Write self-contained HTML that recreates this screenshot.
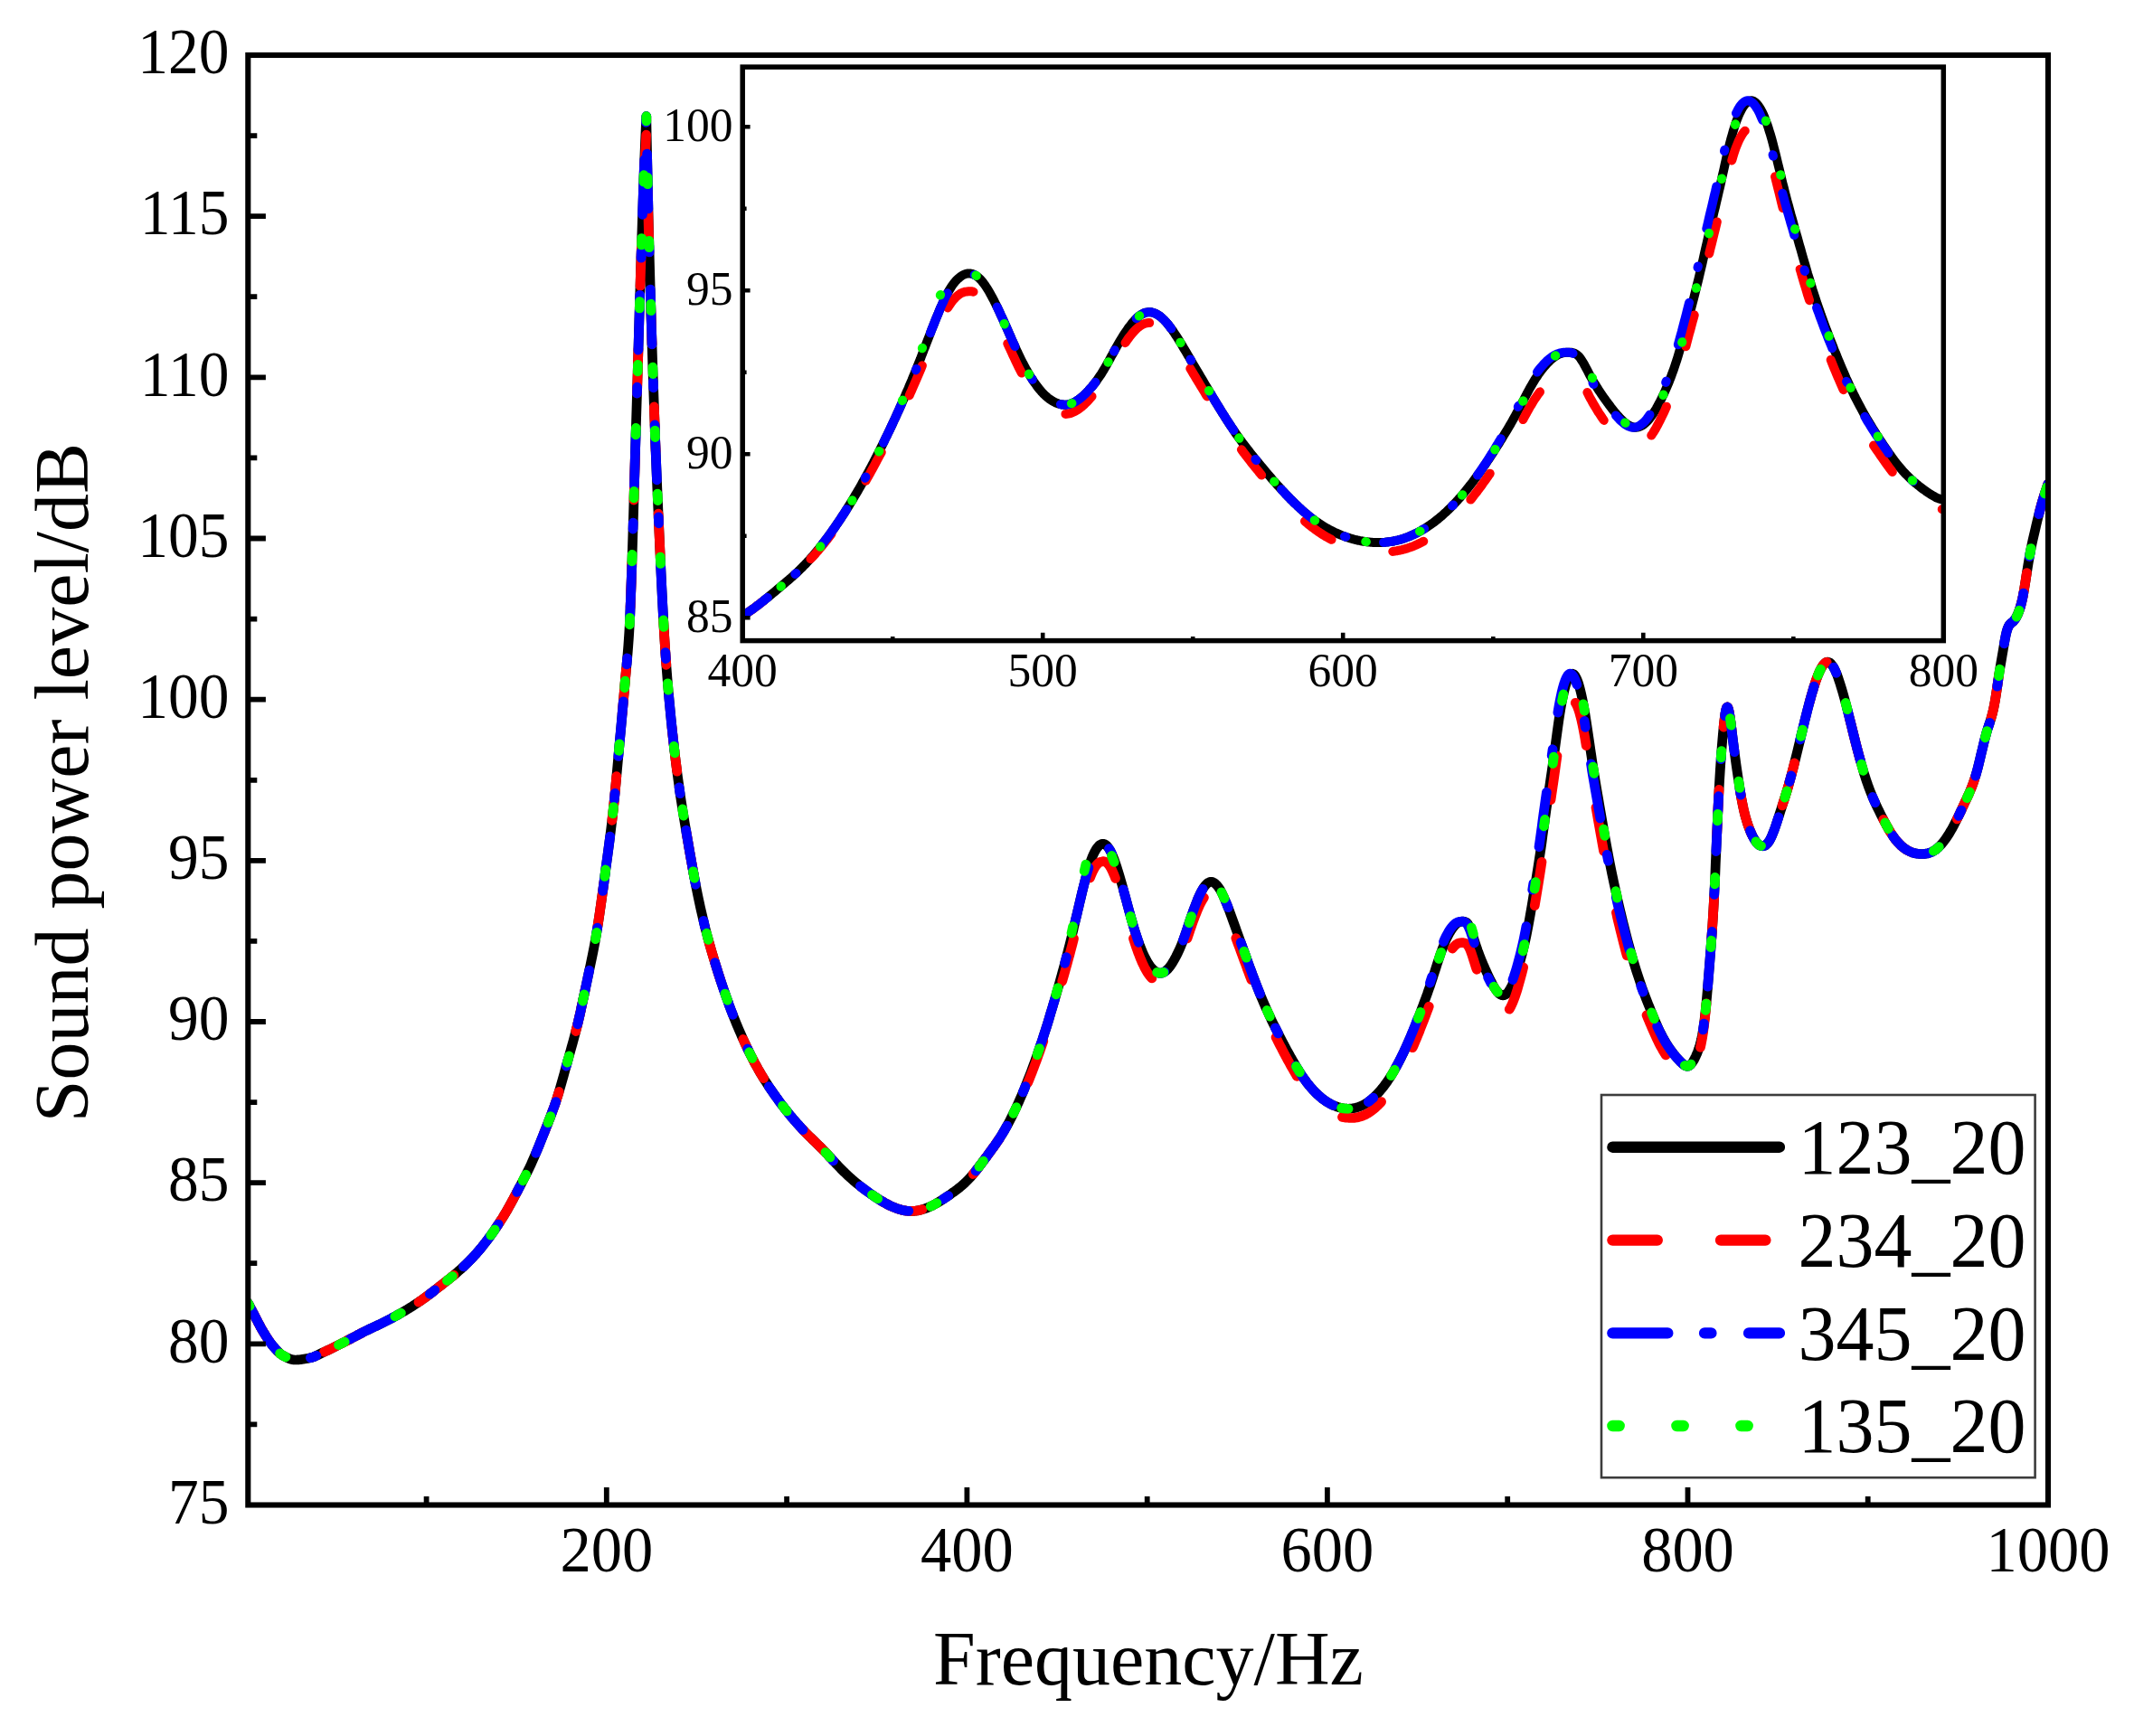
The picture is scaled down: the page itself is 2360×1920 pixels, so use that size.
<!DOCTYPE html>
<html lang="en"><head><meta charset="utf-8"><title>Sound power level vs frequency</title>
<style>html,body{margin:0;padding:0;background:#fff}body{width:2360px;height:1920px;overflow:hidden}svg{display:block}text{font-family:"Liberation Serif","Times New Roman",Times,serif;fill:#000}</style>
</head><body>
<svg width="2360" height="1920" viewBox="0 0 2360 1920" role="img" aria-label="Sound power level versus frequency">
<rect width="2360" height="1920" fill="#fff"/>
<defs>
<clipPath id="cm"><rect x="274.3" y="61.0" width="1990.7" height="1603.5"/></clipPath>
<clipPath id="ci"><rect x="821.2" y="74.1" width="1328.1000000000001" height="634.5"/></clipPath>
</defs>
<g clip-path="url(#cm)" fill="none" stroke-linecap="round" stroke-linejoin="round">
<path d="M274.3,1441.2 275.3,1443.1 276.3,1445 277.3,1446.9 278.3,1448.8 279.3,1450.7 280.3,1452.6 281.3,1454.5 282.3,1456.5 283.3,1458.4 284.3,1460.3 285.3,1462.3 286.3,1464.2 287.3,1466 288.2,1467.8 289.2,1469.6 290.2,1471.3 291.2,1473 292.2,1474.6 293.2,1476.2 294.2,1477.9 295.2,1479.4 296.2,1481 297.2,1482.5 298.2,1483.9 299.2,1485.3 300.2,1486.6 301.2,1487.9 302.2,1489 303.2,1490.2 304.2,1491.3 305.2,1492.5 306.2,1493.6 307.2,1494.6 308.2,1495.6 309.2,1496.5 310.2,1497.4 311.2,1498.1 312.2,1498.8 313.2,1499.4 314.2,1499.9 315.2,1500.4 316.1,1500.9 317.1,1501.4 318.1,1501.9 319.1,1502.3 320.1,1502.7 321.1,1503.1 322.1,1503.4 323.1,1503.7 324.1,1503.8 325.1,1504 326.1,1504 327.1,1504 328.1,1504 329.1,1503.9 330.1,1503.8 331.1,1503.8 332.1,1503.7 333.1,1503.5 334.1,1503.4 335.1,1503.3 336.1,1503.1 337.1,1502.9 338.1,1502.8 339.1,1502.6 340.1,1502.4 341.1,1502.2 342.1,1502 343,1501.8 344,1501.6 345,1501.3 346,1501 347,1500.7 348,1500.3 349,1499.8 350,1499.3 351,1498.9 352,1498.4 353,1497.9 354,1497.4 355,1496.9 356,1496.4 357,1495.9 358,1495.5 359,1495 360,1494.5 361,1494.1 362,1493.6 363,1493.1 364,1492.7 365,1492.2 366,1491.7 367,1491.2 368,1490.7 369,1490.2 369.9,1489.8 370.9,1489.3 371.9,1488.8 372.9,1488.3 373.9,1487.8 374.9,1487.3 375.9,1486.8 376.9,1486.3 377.9,1485.8 378.9,1485.2 379.9,1484.7 380.9,1484.2 381.9,1483.7 382.9,1483.2 383.9,1482.6 384.9,1482.1 385.9,1481.6 386.9,1481.1 387.9,1480.6 388.9,1480 389.9,1479.5 390.9,1479 391.9,1478.5 392.9,1478 393.9,1477.5 394.9,1476.9 395.9,1476.4 396.9,1475.9 397.8,1475.4 398.8,1474.9 399.8,1474.4 400.8,1473.8 401.8,1473.3 402.8,1472.8 403.8,1472.3 404.8,1471.8 405.8,1471.4 406.8,1470.9 407.8,1470.4 408.8,1469.9 409.8,1469.4 410.8,1468.9 411.8,1468.5 412.8,1468 413.8,1467.5 414.8,1467 415.8,1466.6 416.8,1466.1 417.8,1465.6 418.8,1465.2 419.8,1464.7 420.8,1464.2 421.8,1463.7 422.8,1463.2 423.8,1462.7 424.7,1462.3 425.7,1461.8 426.7,1461.3 427.7,1460.8 428.7,1460.3 429.7,1459.7 430.7,1459.2 431.7,1458.7 432.7,1458.2 433.7,1457.6 434.7,1457.1 435.7,1456.5 436.7,1456 437.7,1455.5 438.7,1454.9 439.7,1454.4 440.7,1453.8 441.7,1453.2 442.7,1452.7 443.7,1452.1 444.7,1451.5 445.7,1451 446.7,1450.4 447.7,1449.8 448.7,1449.2 449.7,1448.6 450.7,1448 451.6,1447.4 452.6,1446.8 453.6,1446.2 454.6,1445.6 455.6,1445 456.6,1444.3 457.6,1443.7 458.6,1443 459.6,1442.4 460.6,1441.7 461.6,1441.1 462.6,1440.4 463.6,1439.7 464.6,1439 465.6,1438.3 466.6,1437.6 467.6,1436.9 468.6,1436.2 469.6,1435.5 470.6,1434.7 471.6,1434 472.6,1433.3 473.6,1432.5 474.6,1431.8 475.6,1431 476.6,1430.3 477.6,1429.5 478.6,1428.7 479.5,1428 480.5,1427.2 481.5,1426.4 482.5,1425.6 483.5,1424.9 484.5,1424.1 485.5,1423.3 486.5,1422.5 487.5,1421.8 488.5,1421 489.5,1420.2 490.5,1419.4 491.5,1418.6 492.5,1417.8 493.5,1417.1 494.5,1416.3 495.5,1415.5 496.5,1414.7 497.5,1413.9 498.5,1413.1 499.5,1412.3 500.5,1411.5 501.5,1410.7 502.5,1409.9 503.5,1409 504.5,1408.2 505.5,1407.3 506.4,1406.5 507.4,1405.6 508.4,1404.7 509.4,1403.9 510.4,1403 511.4,1402.1 512.4,1401.1 513.4,1400.2 514.4,1399.3 515.4,1398.3 516.4,1397.3 517.4,1396.3 518.4,1395.3 519.4,1394.3 520.4,1393.3 521.4,1392.2 522.4,1391.2 523.4,1390.1 524.4,1389 525.4,1387.9 526.4,1386.8 527.4,1385.6 528.4,1384.5 529.4,1383.3 530.4,1382.2 531.4,1381 532.4,1379.8 533.4,1378.6 534.3,1377.3 535.3,1376.1 536.3,1374.8 537.3,1373.6 538.3,1372.3 539.3,1371 540.3,1369.6 541.3,1368.3 542.3,1366.9 543.3,1365.5 544.3,1364.1 545.3,1362.7 546.3,1361.3 547.3,1359.8 548.3,1358.3 549.3,1356.8 550.3,1355.3 551.3,1353.8 552.3,1352.3 553.3,1350.7 554.3,1349.1 555.3,1347.6 556.3,1346 557.3,1344.3 558.3,1342.7 559.3,1341.1 560.3,1339.4 561.2,1337.7 562.2,1336 563.2,1334.2 564.2,1332.4 565.2,1330.6 566.2,1328.7 567.2,1326.9 568.2,1325 569.2,1323.1 570.2,1321.2 571.2,1319.3 572.2,1317.4 573.2,1315.5 574.2,1313.6 575.2,1311.7 576.2,1309.8 577.2,1307.8 578.2,1305.9 579.2,1304 580.2,1302.1 581.2,1300.1 582.2,1298.1 583.2,1296.2 584.2,1294.1 585.2,1292.1 586.2,1290 587.2,1287.9 588.1,1285.7 589.1,1283.5 590.1,1281.3 591.1,1279 592.1,1276.7 593.1,1274.3 594.1,1271.9 595.1,1269.5 596.1,1267.1 597.1,1264.6 598.1,1262.1 599.1,1259.6 600.1,1257.1 601.1,1254.6 602.1,1252 603.1,1249.5 604.1,1246.9 605.1,1244.4 606.1,1241.8 607.1,1239.2 608.1,1236.7 609.1,1234.1 610.1,1231.4 611.1,1228.7 612.1,1226 613.1,1223.2 614.1,1220.4 615.1,1217.5 616,1214.5 617,1211.3 618,1208.1 619,1204.8 620,1201.3 621,1197.8 622,1194.3 623,1190.7 624,1187.1 625,1183.4 626,1179.8 627,1176.2 628,1172.6 629,1169.1 630,1165.5 631,1161.9 632,1158.3 633,1154.7 634,1151.1 635,1147.4 636,1143.6 637,1139.7 638,1135.8 639,1131.7 640,1127.6 641,1123.3 642,1118.9 642.9,1114.4 643.9,1109.9 644.9,1105.2 645.9,1100.6 646.9,1095.8 647.9,1091.1 648.9,1086.4 649.9,1081.6 650.9,1076.9 651.9,1072.2 652.9,1067.5 653.9,1062.7 654.9,1057.9 655.9,1052.9 656.9,1047.7 657.9,1042.4 658.9,1036.8 659.9,1030.9 660.9,1024.8 661.9,1018.4 662.9,1011.7 663.9,1004.8 664.9,997.8 665.9,990.6 666.9,983.4 667.9,976.1 668.9,968.8 669.8,961.5 670.8,954.2 671.8,946.9 672.8,939.5 673.8,932 674.8,924.2 675.8,916.2 676.8,907.8 677.8,899.1 678.8,889.9 679.8,880 680.8,869.6 681.3,864.2 681.8,858.8 682.3,853.4 682.8,847.9 683.3,842.4 683.8,836.9 684.3,831.4 684.8,826 685.3,820.6 685.8,815.1 686.3,809.7 686.8,804.2 687.3,798.7 687.8,793.2 688.3,787.6 688.8,782.1 689.3,776.4 689.8,770.8 690.3,765.1 690.8,759.3 691.3,753.5 691.8,748 692.3,742.6 692.8,737.3 693.3,732 693.8,726.4 694.3,720.5 694.8,714.1 695.3,707 695.8,699.3 696.3,690.4 696.8,680.1 697.2,668.6 697.7,655.9 698.2,642.2 698.7,627.6 699.2,612.3 699.7,596.3 700.2,579.8 700.7,563 701.2,545.9 701.7,528.6 702.2,511.4 702.7,494.2 703.2,477.3 703.7,460.8 704.2,444.7 704.7,428.5 704.8,425.1 704.9,421.8 705,418.5 705.1,415.1 705.2,411.8 705.3,408.4 705.4,405 705.5,401.6 705.6,398.2 705.7,394.8 705.8,391.4 705.9,387.9 706,384.5 706.1,381.1 706.2,377.6 706.3,374.2 706.4,370.8 706.5,367.4 706.6,363.9 706.7,360.5 706.8,357.1 706.9,353.7 707,350.3 707.1,346.9 707.2,343.5 707.3,340.2 707.4,336.8 707.5,333.4 707.6,330.1 707.7,326.8 707.8,323.5 707.9,320.2 708,317 708.1,313.7 708.2,310.5 708.3,307.3 708.4,304.1 708.5,301 708.6,297.8 708.7,294.7 708.8,291.5 708.9,288.4 709,285.2 709.1,282.1 709.2,279 709.3,275.8 709.4,272.7 709.5,269.6 709.6,266.5 709.7,263.4 709.8,260.3 709.9,257.2 710,254.2 710.1,251.1 710.2,248 710.3,245 710.4,242 710.5,239 710.6,236 710.7,233 710.8,230 710.9,227.1 711,224.2 711.1,221.3 711.2,218.4 711.3,215.5 711.4,212.7 711.5,209.8 711.6,207 711.7,204.3 711.8,201.5 711.9,198.8 712,196.1 712.1,193.4 712.2,190.8 712.3,188.1 712.4,185.5 712.5,182.9 712.6,180.4 712.7,177.8 712.8,175.3 712.9,172.8 713,170.3 713.1,167.8 713.2,165.4 713.3,162.9 713.4,160.5 713.5,158.1 713.6,155.8 713.7,153.4 713.8,151.1 713.9,148.7 714,146.4 714.1,144.2 714.2,141.9 714.3,139.6 714.4,137.4 714.5,135.2 714.6,133 714.7,130.9 714.8,128.7 714.9,134.3 715,139.8 715.1,145.3 715.2,150.7 715.3,156 715.4,161.2 715.5,166.3 715.6,171.3 715.7,176.2 715.8,181 715.9,185.7 716,190.4 716.1,195.1 716.2,199.7 716.3,204.2 716.4,208.7 716.5,213.2 716.6,217.6 716.7,222 716.8,226.3 716.9,230.6 717,234.8 717.1,239 717.2,243.2 717.3,247.3 717.4,251.3 717.5,255.4 717.6,259.3 717.7,263.3 717.8,267.2 717.9,271.1 718,274.9 718.1,278.8 718.2,282.6 718.3,286.4 718.4,290.1 718.5,293.9 718.6,297.6 718.7,301.3 718.8,305 718.9,308.6 719,312.2 719.1,315.8 719.2,319.4 719.3,323 719.4,326.5 719.5,330 719.6,333.5 719.7,336.9 719.8,340.4 719.9,343.8 720,347.2 720.1,350.5 720.2,353.9 720.3,357.2 720.4,360.5 720.5,363.8 720.6,367 720.7,370.2 720.8,373.4 720.9,376.6 721,379.8 721.1,382.9 721.2,386 721.3,389.1 721.4,392.2 721.5,395.2 721.6,398.3 721.7,401.3 721.8,404.3 721.9,407.3 722,410.2 722.1,413.2 722.2,416.1 722.3,419 722.4,422 722.5,424.9 722.6,427.7 722.7,430.6 722.8,433.5 722.9,436.3 723,439.1 723.1,441.9 723.2,444.7 723.3,447.5 723.4,450.3 723.5,453 723.6,455.8 723.7,458.5 723.8,461.2 723.9,463.9 724,466.6 724.1,469.3 724.2,471.9 724.3,474.6 724.3,477.2 724.4,479.9 724.5,482.5 724.6,485.1 725.1,497.9 725.6,510.4 726.1,522.7 726.6,534.7 727.1,546.3 727.6,557.7 728.1,569 728.6,580.3 729.1,591.5 729.6,602.6 730.1,613.6 730.6,624.4 731.1,635 731.6,645.3 732.1,655.5 732.6,665.4 733.1,674.9 733.6,684.2 734.1,693.2 734.6,701.7 735.1,709.9 735.6,717.7 736.1,725.1 736.6,732.2 737.1,738.9 737.6,745.4 738.1,751.6 738.6,757.6 739.1,763.4 739.6,769 740.1,774.5 740.6,779.8 741.1,785.1 741.6,790.2 742.1,795.2 742.6,800.1 743.1,805 743.6,809.7 744.1,814.3 744.6,818.9 745.1,823.3 745.6,827.7 746.1,832 746.6,836.2 747.1,840.3 747.6,844.3 748.1,848.2 748.6,852.1 749.1,855.9 749.6,859.6 750.1,863.2 750.6,866.8 751.5,873.7 752.5,880.5 753.5,887 754.5,893.3 755.5,899.5 756.5,905.6 757.5,911.6 758.5,917.5 759.5,923.4 760.5,929.2 761.5,935 762.5,940.8 763.5,946.5 764.5,952.2 765.5,957.8 766.5,963.3 767.5,968.7 768.5,974 769.5,979.2 770.5,984.2 771.5,989.2 772.5,994 773.5,998.7 774.5,1003.3 775.5,1007.7 776.5,1012 777.5,1016.2 778.5,1020.4 779.4,1024.4 780.4,1028.3 781.4,1032.1 782.4,1035.9 783.4,1039.6 784.4,1043.2 785.4,1046.8 786.4,1050.2 787.4,1053.7 788.4,1057.1 789.4,1060.4 790.4,1063.7 791.4,1067 792.4,1070.2 793.4,1073.4 794.4,1076.6 795.4,1079.7 796.4,1082.7 797.4,1085.8 798.4,1088.8 799.4,1091.7 800.4,1094.7 801.4,1097.6 802.4,1100.4 803.4,1103.2 804.4,1106 805.4,1108.7 806.3,1111.5 807.3,1114.1 808.3,1116.8 809.3,1119.4 810.3,1122 811.3,1124.5 812.3,1127 813.3,1129.5 814.3,1132 815.3,1134.4 816.3,1136.8 817.3,1139.1 818.3,1141.4 819.3,1143.7 820.3,1146 821.3,1148.2 822.3,1150.4 823.3,1152.6 824.3,1154.8 825.3,1156.9 826.3,1159 827.3,1161.1 828.3,1163.1 829.3,1165.1 830.3,1167.1 831.3,1169 832.3,1171 833.3,1172.9 834.2,1174.8 835.2,1176.6 836.2,1178.4 837.2,1180.2 838.2,1182 839.2,1183.8 840.2,1185.5 841.2,1187.2 842.2,1188.9 843.2,1190.5 844.2,1192.2 845.2,1193.8 846.2,1195.4 847.2,1196.9 848.2,1198.5 849.2,1200 850.2,1201.6 851.2,1203.1 852.2,1204.5 853.2,1206 854.2,1207.4 855.2,1208.9 856.2,1210.3 857.2,1211.7 858.2,1213.1 859.2,1214.5 860.2,1215.8 861.1,1217.2 862.1,1218.5 863.1,1219.9 864.1,1221.2 865.1,1222.5 866.1,1223.8 867.1,1225.1 868.1,1226.4 869.1,1227.6 870.1,1228.9 871.1,1230.1 872.1,1231.4 873.1,1232.6 874.1,1233.8 875.1,1235 876.1,1236.2 877.1,1237.4 878.1,1238.6 879.1,1239.7 880.1,1240.9 881.1,1242 882.1,1243.1 883.1,1244.2 884.1,1245.3 885.1,1246.4 886.1,1247.5 887.1,1248.6 888,1249.6 889,1250.6 890,1251.7 891,1252.7 892,1253.7 893,1254.7 894,1255.7 895,1256.7 896,1257.7 897,1258.6 898,1259.6 899,1260.6 900,1261.6 901,1262.5 902,1263.5 903,1264.5 904,1265.5 905,1266.5 906,1267.4 907,1268.4 908,1269.4 909,1270.4 910,1271.5 911,1272.5 912,1273.5 913,1274.6 914,1275.6 915,1276.7 915.9,1277.7 916.9,1278.8 917.9,1279.9 918.9,1280.9 919.9,1282 920.9,1283.1 921.9,1284.2 922.9,1285.2 923.9,1286.3 924.9,1287.4 925.9,1288.4 926.9,1289.5 927.9,1290.5 928.9,1291.5 929.9,1292.6 930.9,1293.6 931.9,1294.6 932.9,1295.6 933.9,1296.6 934.9,1297.5 935.9,1298.5 936.9,1299.4 937.9,1300.4 938.9,1301.3 939.9,1302.2 940.9,1303.1 941.9,1304 942.8,1304.8 943.8,1305.7 944.8,1306.5 945.8,1307.4 946.8,1308.2 947.8,1309 948.8,1309.8 949.8,1310.6 950.8,1311.4 951.8,1312.2 952.8,1313 953.8,1313.7 954.8,1314.5 955.8,1315.3 956.8,1316 957.8,1316.7 958.8,1317.5 959.8,1318.2 960.8,1318.9 961.8,1319.6 962.8,1320.4 963.8,1321.1 964.8,1321.7 965.8,1322.4 966.8,1323.1 967.8,1323.8 968.8,1324.4 969.7,1325.1 970.7,1325.7 971.7,1326.4 972.7,1327 973.7,1327.6 974.7,1328.2 975.7,1328.8 976.7,1329.4 977.7,1329.9 978.7,1330.5 979.7,1331 980.7,1331.6 981.7,1332.1 982.7,1332.6 983.7,1333.1 984.7,1333.6 985.7,1334 986.7,1334.5 987.7,1334.9 988.7,1335.3 989.7,1335.7 990.7,1336.1 991.7,1336.5 992.7,1336.8 993.7,1337.1 994.7,1337.5 995.7,1337.7 996.7,1338 997.6,1338.3 998.6,1338.5 999.6,1338.7 1000.6,1338.9 1001.6,1339 1002.6,1339.2 1003.6,1339.3 1004.6,1339.3 1005.6,1339.4 1006.6,1339.4 1007.6,1339.5 1008.6,1339.4 1009.6,1339.4 1010.6,1339.3 1011.6,1339.3 1012.6,1339.2 1013.6,1339 1014.6,1338.9 1015.6,1338.7 1016.6,1338.5 1017.6,1338.3 1018.6,1338 1019.6,1337.8 1020.6,1337.5 1021.6,1337.2 1022.6,1336.9 1023.6,1336.5 1024.5,1336.2 1025.5,1335.8 1026.5,1335.4 1027.5,1334.9 1028.5,1334.5 1029.5,1334 1030.5,1333.6 1031.5,1333.1 1032.5,1332.5 1033.5,1332 1034.5,1331.5 1035.5,1330.9 1036.5,1330.4 1037.5,1329.8 1038.5,1329.2 1039.5,1328.6 1040.5,1327.9 1041.5,1327.3 1042.5,1326.7 1043.5,1326 1044.5,1325.4 1045.5,1324.7 1046.5,1324 1047.5,1323.4 1048.5,1322.7 1049.5,1322 1050.5,1321.3 1051.5,1320.6 1052.4,1319.9 1053.4,1319.2 1054.4,1318.5 1055.4,1317.8 1056.4,1317.1 1057.4,1316.3 1058.4,1315.6 1059.4,1314.8 1060.4,1314 1061.4,1313.2 1062.4,1312.4 1063.4,1311.6 1064.4,1310.7 1065.4,1309.8 1066.4,1308.9 1067.4,1308 1068.4,1307 1069.4,1306 1070.4,1305 1071.4,1304 1072.4,1302.9 1073.4,1301.8 1074.4,1300.7 1075.4,1299.5 1076.4,1298.3 1077.4,1297.1 1078.4,1295.9 1079.3,1294.7 1080.3,1293.4 1081.3,1292.2 1082.3,1290.9 1083.3,1289.6 1084.3,1288.3 1085.3,1287 1086.3,1285.6 1087.3,1284.3 1088.3,1282.9 1089.3,1281.6 1090.3,1280.2 1091.3,1278.9 1092.3,1277.5 1093.3,1276.1 1094.3,1274.8 1095.3,1273.4 1096.3,1272 1097.3,1270.6 1098.3,1269.3 1099.3,1267.9 1100.3,1266.5 1101.3,1265 1102.3,1263.6 1103.3,1262.1 1104.3,1260.7 1105.3,1259.2 1106.2,1257.6 1107.2,1256.1 1108.2,1254.5 1109.2,1252.8 1110.2,1251.2 1111.2,1249.5 1112.2,1247.7 1113.2,1245.9 1114.2,1244.1 1115.2,1242.3 1116.2,1240.4 1117.2,1238.5 1118.2,1236.5 1119.2,1234.5 1120.2,1232.5 1121.2,1230.4 1122.2,1228.4 1123.2,1226.2 1124.2,1224.1 1125.2,1221.9 1126.2,1219.7 1127.2,1217.5 1128.2,1215.2 1129.2,1212.9 1130.2,1210.6 1131.2,1208.2 1132.2,1205.9 1133.2,1203.5 1134.1,1201 1135.1,1198.6 1136.1,1196.1 1137.1,1193.5 1138.1,1191 1139.1,1188.4 1140.1,1185.8 1141.1,1183.1 1142.1,1180.4 1143.1,1177.7 1144.1,1175 1145.1,1172.2 1146.1,1169.4 1147.1,1166.5 1148.1,1163.6 1149.1,1160.7 1150.1,1157.8 1151.1,1154.8 1152.1,1151.9 1153.1,1148.8 1154.1,1145.8 1155.1,1142.7 1156.1,1139.6 1157.1,1136.5 1158.1,1133.3 1159.1,1130.1 1160.1,1126.9 1161,1123.6 1162,1120.3 1163,1117 1164,1113.7 1165,1110.3 1166,1106.9 1167,1103.5 1168,1100 1169,1096.5 1170,1093 1171,1089.5 1172,1085.9 1173,1082.3 1174,1078.7 1175,1075 1176,1071.3 1177,1067.6 1178,1063.8 1179,1060 1180,1056.2 1181,1052.3 1182,1048.4 1183,1044.5 1184,1040.5 1185,1036.4 1186,1032.3 1187,1028.2 1187.9,1024 1188.9,1019.8 1189.9,1015.6 1190.9,1011.4 1191.9,1007.1 1192.9,1002.9 1193.9,998.6 1194.9,994.4 1195.9,990.2 1196.9,986.1 1197.9,982 1198.9,978 1199.9,974.1 1200.9,970.3 1201.9,966.6 1202.9,963 1203.9,959.6 1204.9,956.4 1205.9,953.4 1206.9,950.6 1207.9,948 1208.9,945.7 1209.9,943.5 1210.9,941.6 1211.9,939.8 1212.9,938.3 1213.9,937 1214.9,935.8 1215.8,934.9 1216.8,934.2 1217.8,933.7 1218.8,933.4 1219.8,933.3 1220.8,933.4 1221.8,933.8 1222.8,934.4 1223.8,935.2 1224.8,936.3 1225.8,937.6 1226.8,939.1 1227.8,940.8 1228.8,942.7 1229.8,944.9 1230.8,947.2 1231.8,949.7 1232.8,952.4 1233.8,955.2 1234.8,958.2 1235.8,961.3 1236.8,964.5 1237.8,967.8 1238.8,971.2 1239.8,974.7 1240.8,978.2 1241.8,981.7 1242.7,985.4 1243.7,989 1244.7,992.7 1245.7,996.4 1246.7,1000.1 1247.7,1003.8 1248.7,1007.5 1249.7,1011.2 1250.7,1014.8 1251.7,1018.3 1252.7,1021.8 1253.7,1025.2 1254.7,1028.5 1255.7,1031.6 1256.7,1034.7 1257.7,1037.7 1258.7,1040.6 1259.7,1043.3 1260.7,1046 1261.7,1048.5 1262.7,1051 1263.7,1053.4 1264.7,1055.6 1265.7,1057.7 1266.7,1059.8 1267.7,1061.7 1268.7,1063.5 1269.7,1065.1 1270.6,1066.7 1271.6,1068.1 1272.6,1069.4 1273.6,1070.6 1274.6,1071.6 1275.6,1072.6 1276.6,1073.4 1277.6,1074.2 1278.6,1074.8 1279.6,1075.4 1280.6,1075.8 1281.6,1076.1 1282.6,1076.2 1283.6,1076.2 1284.6,1076.1 1285.6,1075.9 1286.6,1075.5 1287.6,1074.9 1288.6,1074.3 1289.6,1073.5 1290.6,1072.6 1291.6,1071.6 1292.6,1070.5 1293.6,1069.2 1294.6,1067.9 1295.6,1066.5 1296.6,1064.9 1297.5,1063.3 1298.5,1061.6 1299.5,1059.8 1300.5,1058 1301.5,1056 1302.5,1054 1303.5,1051.9 1304.5,1049.7 1305.5,1047.4 1306.5,1045 1307.5,1042.5 1308.5,1039.9 1309.5,1037.2 1310.5,1034.4 1311.5,1031.5 1312.5,1028.5 1313.5,1025.5 1314.5,1022.5 1315.5,1019.5 1316.5,1016.5 1317.5,1013.6 1318.5,1010.7 1319.5,1007.9 1320.5,1005.2 1321.5,1002.5 1322.5,999.9 1323.5,997.4 1324.4,995 1325.4,992.7 1326.4,990.5 1327.4,988.4 1328.4,986.4 1329.4,984.6 1330.4,982.8 1331.4,981.3 1332.4,979.9 1333.4,978.7 1334.4,977.7 1335.4,976.8 1336.4,976.2 1337.4,975.7 1338.4,975.4 1339.4,975.3 1340.4,975.4 1341.4,975.7 1342.4,976.2 1343.4,976.9 1344.4,977.7 1345.4,978.7 1346.4,979.8 1347.4,981.2 1348.4,982.6 1349.4,984.2 1350.4,986 1351.4,987.9 1352.3,989.9 1353.3,992 1354.3,994.3 1355.3,996.6 1356.3,999 1357.3,1001.5 1358.3,1004.1 1359.3,1006.7 1360.3,1009.4 1361.3,1012.1 1362.3,1014.8 1363.3,1017.6 1364.3,1020.4 1365.3,1023.1 1366.3,1025.9 1367.3,1028.7 1368.3,1031.5 1369.3,1034.3 1370.3,1037.1 1371.3,1039.8 1372.3,1042.6 1373.3,1045.4 1374.3,1048.1 1375.3,1050.9 1376.3,1053.6 1377.3,1056.4 1378.3,1059.1 1379.2,1061.9 1380.2,1064.6 1381.2,1067.3 1382.2,1070 1383.2,1072.7 1384.2,1075.4 1385.2,1078.1 1386.2,1080.7 1387.2,1083.4 1388.2,1086 1389.2,1088.6 1390.2,1091.2 1391.2,1093.7 1392.2,1096.2 1393.2,1098.7 1394.2,1101.2 1395.2,1103.6 1396.2,1106 1397.2,1108.4 1398.2,1110.7 1399.2,1113 1400.2,1115.2 1401.2,1117.4 1402.2,1119.6 1403.2,1121.8 1404.2,1123.9 1405.2,1126 1406.1,1128.1 1407.1,1130.1 1408.1,1132.2 1409.1,1134.2 1410.1,1136.2 1411.1,1138.2 1412.1,1140.2 1413.1,1142.2 1414.1,1144.1 1415.1,1146.1 1416.1,1148 1417.1,1149.9 1418.1,1151.9 1419.1,1153.8 1420.1,1155.7 1421.1,1157.5 1422.1,1159.4 1423.1,1161.3 1424.1,1163.1 1425.1,1164.9 1426.1,1166.7 1427.1,1168.5 1428.1,1170.3 1429.1,1172 1430.1,1173.8 1431.1,1175.5 1432.1,1177.2 1433.1,1178.9 1434,1180.5 1435,1182.1 1436,1183.7 1437,1185.3 1438,1186.9 1439,1188.4 1440,1189.9 1441,1191.4 1442,1192.8 1443,1194.2 1444,1195.6 1445,1196.9 1446,1198.2 1447,1199.5 1448,1200.7 1449,1201.9 1450,1203.1 1451,1204.2 1452,1205.3 1453,1206.4 1454,1207.5 1455,1208.5 1456,1209.4 1457,1210.4 1458,1211.3 1459,1212.2 1460,1213.1 1460.9,1213.9 1461.9,1214.7 1462.9,1215.5 1463.9,1216.2 1464.9,1216.9 1465.9,1217.6 1466.9,1218.3 1467.9,1218.9 1468.9,1219.5 1469.9,1220.1 1470.9,1220.7 1471.9,1221.2 1472.9,1221.7 1473.9,1222.2 1474.9,1222.6 1475.9,1223 1476.9,1223.4 1477.9,1223.8 1478.9,1224.2 1479.9,1224.5 1480.9,1224.8 1481.9,1225 1482.9,1225.3 1483.9,1225.5 1484.9,1225.7 1485.9,1225.9 1486.9,1226 1487.8,1226.1 1488.8,1226.2 1489.8,1226.2 1490.8,1226.3 1491.8,1226.2 1492.8,1226.2 1493.8,1226.1 1494.8,1226.1 1495.8,1225.9 1496.8,1225.8 1497.8,1225.6 1498.8,1225.4 1499.8,1225.1 1500.8,1224.9 1501.8,1224.5 1502.8,1224.2 1503.8,1223.8 1504.8,1223.4 1505.8,1223 1506.8,1222.5 1507.8,1222 1508.8,1221.5 1509.8,1220.9 1510.8,1220.3 1511.8,1219.6 1512.8,1219 1513.8,1218.3 1514.8,1217.5 1515.7,1216.7 1516.7,1215.9 1517.7,1215.1 1518.7,1214.2 1519.7,1213.3 1520.7,1212.3 1521.7,1211.3 1522.7,1210.3 1523.7,1209.3 1524.7,1208.2 1525.7,1207.1 1526.7,1205.9 1527.7,1204.7 1528.7,1203.5 1529.7,1202.2 1530.7,1200.9 1531.7,1199.6 1532.7,1198.2 1533.7,1196.8 1534.7,1195.4 1535.7,1193.9 1536.7,1192.4 1537.7,1190.8 1538.7,1189.3 1539.7,1187.6 1540.7,1186 1541.7,1184.3 1542.6,1182.5 1543.6,1180.8 1544.6,1178.9 1545.6,1177.1 1546.6,1175.2 1547.6,1173.3 1548.6,1171.3 1549.6,1169.4 1550.6,1167.3 1551.6,1165.3 1552.6,1163.2 1553.6,1161.1 1554.6,1158.9 1555.6,1156.7 1556.6,1154.5 1557.6,1152.2 1558.6,1150 1559.6,1147.6 1560.6,1145.3 1561.6,1142.9 1562.6,1140.5 1563.6,1138.1 1564.6,1135.7 1565.6,1133.2 1566.6,1130.7 1567.6,1128.2 1568.6,1125.6 1569.6,1123 1570.5,1120.5 1571.5,1117.8 1572.5,1115.2 1573.5,1112.6 1574.5,1109.9 1575.5,1107.2 1576.5,1104.5 1577.5,1101.7 1578.5,1099 1579.5,1096.1 1580.5,1093.3 1581.5,1090.4 1582.5,1087.4 1583.5,1084.4 1584.5,1081.3 1585.5,1078.2 1586.5,1075.1 1587.5,1072 1588.5,1068.8 1589.5,1065.7 1590.5,1062.7 1591.5,1059.7 1592.5,1056.7 1593.5,1053.8 1594.5,1051.1 1595.5,1048.4 1596.5,1045.9 1597.4,1043.5 1598.4,1041.1 1599.4,1038.9 1600.4,1036.9 1601.4,1034.9 1602.4,1033 1603.4,1031.2 1604.4,1029.5 1605.4,1028 1606.4,1026.5 1607.4,1025.2 1608.4,1024 1609.4,1022.9 1610.4,1021.9 1611.4,1021.1 1612.4,1020.5 1613.4,1020 1614.4,1019.6 1615.4,1019.4 1616.4,1019.2 1617.4,1019.2 1618.4,1019.1 1619.4,1019.2 1620.4,1019.5 1621.4,1020 1622.4,1020.8 1623.4,1021.9 1624.3,1023.4 1625.3,1025.4 1626.3,1027.7 1627.3,1030.4 1628.3,1033.3 1629.3,1036.4 1630.3,1039.6 1631.3,1042.7 1632.3,1045.7 1633.3,1048.6 1634.3,1051.5 1635.3,1054.2 1636.3,1056.8 1637.3,1059.4 1638.3,1061.9 1639.3,1064.3 1640.3,1066.7 1641.3,1069 1642.3,1071.3 1643.3,1073.5 1644.3,1075.7 1645.3,1077.9 1646.3,1080.1 1647.3,1082.1 1648.3,1084.2 1649.3,1086.1 1650.3,1088 1651.3,1089.8 1652.2,1091.5 1653.2,1093.1 1654.2,1094.6 1655.2,1096 1656.2,1097.2 1657.2,1098.3 1658.2,1099.2 1659.2,1099.9 1660.2,1100.5 1661.2,1100.8 1662.2,1100.9 1663.2,1100.8 1664.2,1100.4 1665.2,1099.8 1666.2,1099 1667.2,1098 1668.2,1096.8 1669.2,1095.3 1670.2,1093.7 1671.2,1091.8 1672.2,1089.7 1673.2,1087.4 1674.2,1084.9 1675.2,1082.2 1676.2,1079.4 1677.2,1076.4 1678.2,1073.3 1679.1,1070 1680.1,1066.7 1681.1,1063.2 1682.1,1059.6 1683.1,1055.8 1684.1,1051.9 1685.1,1047.8 1686.1,1043.5 1687.1,1039 1688.1,1034.3 1689.1,1029.3 1690.1,1024.1 1691.1,1018.6 1692.1,1013 1693.1,1007.2 1694.1,1001.3 1695.1,995.3 1696.1,989.2 1697.1,983 1698.1,976.8 1699.1,970.5 1700.1,964.2 1701.1,957.9 1702.1,951.4 1703.1,944.8 1704.1,938.1 1705.1,931.3 1706,924.2 1707,917.1 1708,909.9 1709,902.7 1710,895.5 1711,888.4 1712,881.3 1713,874.4 1714,867.5 1715,860.6 1716,853.7 1717,846.7 1718,839.6 1719,832.4 1720,825 1721,817.6 1722,810.2 1723,803 1724,796.1 1725,789.5 1726,783.4 1727,777.7 1728,772.5 1729,767.8 1730,763.5 1731,759.6 1732,756.2 1733,753.3 1733.9,750.8 1734.9,748.7 1735.9,747.1 1736.9,746 1737.9,745.3 1738.9,745.2 1739.9,745.5 1740.9,746.2 1741.9,747.4 1742.9,749.1 1743.9,751.3 1744.9,753.8 1745.9,756.8 1746.9,760.3 1747.9,764.1 1748.9,768.4 1749.9,773.1 1750.9,778.2 1751.9,783.6 1752.9,789.5 1753.9,795.7 1754.9,802.1 1755.9,808.8 1756.9,815.6 1757.9,822.4 1758.9,829.2 1759.9,835.8 1760.8,842.3 1761.8,848.6 1762.8,854.8 1763.8,860.9 1764.8,866.9 1765.8,872.8 1766.8,878.6 1767.8,884.5 1768.8,890.3 1769.8,896.1 1770.8,901.9 1771.8,907.7 1772.8,913.4 1773.8,919.1 1774.8,924.8 1775.8,930.4 1776.8,935.9 1777.8,941.3 1778.8,946.7 1779.8,951.9 1780.8,957 1781.8,962 1782.8,966.8 1783.8,971.6 1784.8,976.3 1785.8,980.9 1786.8,985.4 1787.8,989.8 1788.7,994.2 1789.7,998.5 1790.7,1002.7 1791.7,1007 1792.7,1011.1 1793.7,1015.3 1794.7,1019.4 1795.7,1023.4 1796.7,1027.4 1797.7,1031.4 1798.7,1035.2 1799.7,1039.1 1800.7,1042.8 1801.7,1046.5 1802.7,1050.2 1803.7,1053.8 1804.7,1057.3 1805.7,1060.7 1806.7,1064.1 1807.7,1067.4 1808.7,1070.6 1809.7,1073.8 1810.7,1076.9 1811.7,1079.9 1812.7,1082.9 1813.7,1085.9 1814.7,1088.7 1815.6,1091.6 1816.6,1094.3 1817.6,1097 1818.6,1099.7 1819.6,1102.4 1820.6,1105 1821.6,1107.5 1822.6,1110.1 1823.6,1112.6 1824.6,1115.1 1825.6,1117.5 1826.6,1120 1827.6,1122.4 1828.6,1124.8 1829.6,1127.2 1830.6,1129.6 1831.6,1131.9 1832.6,1134.2 1833.6,1136.4 1834.6,1138.6 1835.6,1140.7 1836.6,1142.7 1837.6,1144.7 1838.6,1146.6 1839.6,1148.4 1840.6,1150.2 1841.6,1151.9 1842.5,1153.5 1843.5,1155.1 1844.5,1156.7 1845.5,1158.2 1846.5,1159.6 1847.5,1161 1848.5,1162.4 1849.5,1163.8 1850.5,1165.1 1851.5,1166.3 1852.5,1167.6 1853.5,1168.8 1854.5,1170 1855.5,1171.1 1856.5,1172.2 1857.5,1173.2 1858.5,1174.3 1859.5,1175.2 1860.5,1176.2 1861.5,1177 1862.5,1177.8 1863.5,1178.5 1864.5,1178.9 1865.5,1179.2 1866.5,1179.1 1867.5,1178.9 1868.5,1178.4 1869.5,1177.6 1870.4,1176.6 1871.4,1175.4 1872.4,1173.9 1873.4,1172.2 1874.4,1170.3 1875.4,1168.2 1876.4,1165.9 1877.4,1163.4 1878.4,1160.7 1879.4,1157.7 1880.4,1154.2 1881.4,1150.1 1882.4,1145.2 1883.4,1139.5 1884.4,1132.7 1885.4,1124.7 1886.4,1115.5 1886.9,1110.4 1887.4,1105 1887.9,1099.5 1888.4,1093.7 1888.9,1087.7 1889.4,1081.6 1889.9,1075.4 1890.4,1069.1 1890.9,1062.7 1891.4,1056.3 1891.9,1049.9 1892.4,1043.3 1892.9,1036.5 1893.4,1029.5 1893.9,1022 1894.4,1014.1 1894.9,1005.6 1895.4,996.6 1895.9,986.8 1896.4,976.5 1896.9,965.8 1897.3,954.7 1897.8,943.5 1898.3,932.1 1898.8,920.8 1899.3,909.6 1899.8,898.7 1900.3,888.2 1900.8,878.3 1901.3,868.9 1901.8,860.2 1902.3,852.1 1902.8,844.5 1903.3,837.5 1903.8,830.8 1904.3,824.5 1904.8,818.4 1905.3,812.7 1905.8,807.3 1906.3,802.3 1906.8,797.8 1907.3,793.8 1907.8,790.2 1908.3,787.3 1908.8,784.9 1909.3,783.2 1909.8,782.3 1910.3,782 1910.8,782.5 1911.3,783.7 1911.8,785.5 1912.3,787.9 1912.8,790.7 1913.3,793.9 1913.8,797.5 1914.3,801.3 1914.8,805.2 1915.3,809.3 1915.8,813.4 1916.3,817.5 1916.8,821.4 1917.3,825.3 1917.8,829.2 1918.3,832.9 1918.8,836.6 1919.3,840.3 1919.8,843.9 1920.3,847.4 1920.8,850.9 1921.3,854.3 1921.8,857.7 1922.3,861 1922.8,864.2 1923.3,867.4 1923.8,870.5 1924.2,873.6 1924.7,876.5 1925.2,879.4 1925.7,882.2 1926.2,884.9 1927.2,890 1928.2,894.7 1929.2,898.9 1930.2,902.9 1931.2,906.4 1932.2,909.7 1933.2,912.7 1934.2,915.5 1935.2,918.1 1936.2,920.5 1937.2,922.7 1938.2,924.8 1939.2,926.6 1940.2,928.3 1941.2,929.9 1942.2,931.3 1943.2,932.4 1944.2,933.5 1945.2,934.3 1946.2,935 1947.2,935.4 1948.2,935.7 1949.2,935.8 1950.2,935.7 1951.2,935.4 1952.1,935 1953.1,934.3 1954.1,933.3 1955.1,932.2 1956.1,930.9 1957.1,929.3 1958.1,927.4 1959.1,925.4 1960.1,923.1 1961.1,920.6 1962.1,918 1963.1,915.2 1964.1,912.3 1965.1,909.3 1966.1,906.2 1967.1,903.1 1968.1,900 1969.1,896.9 1970.1,893.8 1971.1,890.7 1972.1,887.6 1973.1,884.5 1974.1,881.4 1975.1,878.2 1976.1,874.9 1977.1,871.6 1978.1,868.2 1979,864.7 1980,861.1 1981,857.5 1982,853.7 1983,849.8 1984,845.9 1985,841.9 1986,837.9 1987,833.8 1988,829.7 1989,825.6 1990,821.4 1991,817.3 1992,813.1 1993,809 1994,804.8 1995,800.7 1996,796.6 1997,792.6 1998,788.6 1999,784.7 2000,780.9 2001,777.1 2002,773.5 2003,769.9 2004,766.4 2005,763.1 2005.9,759.9 2006.9,756.8 2007.9,753.8 2008.9,751 2009.9,748.3 2010.9,745.8 2011.9,743.5 2012.9,741.3 2013.9,739.3 2014.9,737.6 2015.9,736 2016.9,734.7 2017.9,733.7 2018.9,732.9 2019.9,732.4 2020.9,732.1 2021.9,732.2 2022.9,732.6 2023.9,733.2 2024.9,734.1 2025.9,735.3 2026.9,736.7 2027.9,738.3 2028.9,740.2 2029.9,742.3 2030.9,744.6 2031.9,747.1 2032.9,749.8 2033.8,752.6 2034.8,755.6 2035.8,758.8 2036.8,762.1 2037.8,765.5 2038.8,769 2039.8,772.6 2040.8,776.4 2041.8,780.2 2042.8,784 2043.8,788 2044.8,792 2045.8,796 2046.8,800 2047.8,804.1 2048.8,808.1 2049.8,812.1 2050.8,816.1 2051.8,820.1 2052.8,824 2053.8,827.9 2054.8,831.7 2055.8,835.4 2056.8,839 2057.8,842.6 2058.8,846.1 2059.8,849.5 2060.7,852.8 2061.7,856.1 2062.7,859.2 2063.7,862.3 2064.7,865.2 2065.7,868.1 2066.7,870.8 2067.7,873.5 2068.7,876.1 2069.7,878.6 2070.7,881 2071.7,883.3 2072.7,885.6 2073.7,887.8 2074.7,890 2075.7,892.1 2076.7,894.2 2077.7,896.2 2078.7,898.3 2079.7,900.3 2080.7,902.3 2081.7,904.2 2082.7,906.2 2083.7,908.1 2084.7,909.9 2085.7,911.8 2086.7,913.6 2087.7,915.3 2088.6,917.1 2089.6,918.7 2090.6,920.4 2091.6,921.9 2092.6,923.4 2093.6,924.9 2094.6,926.3 2095.6,927.7 2096.6,928.9 2097.6,930.2 2098.6,931.3 2099.6,932.4 2100.6,933.5 2101.6,934.5 2102.6,935.4 2103.6,936.3 2104.6,937.1 2105.6,937.9 2106.6,938.6 2107.6,939.3 2108.6,939.9 2109.6,940.5 2110.6,941 2111.6,941.5 2112.6,942 2113.6,942.4 2114.6,942.8 2115.5,943.1 2116.5,943.4 2117.5,943.6 2118.5,943.9 2119.5,944 2120.5,944.2 2121.5,944.3 2122.5,944.4 2123.5,944.5 2124.5,944.5 2125.5,944.5 2126.5,944.5 2127.5,944.5 2128.5,944.4 2129.5,944.3 2130.5,944.1 2131.5,943.9 2132.5,943.7 2133.5,943.4 2134.5,943 2135.5,942.6 2136.5,942.2 2137.5,941.7 2138.5,941.1 2139.5,940.5 2140.5,939.8 2141.5,939.1 2142.4,938.3 2143.4,937.4 2144.4,936.5 2145.4,935.5 2146.4,934.4 2147.4,933.3 2148.4,932.1 2149.4,930.9 2150.4,929.5 2151.4,928.2 2152.4,926.8 2153.4,925.3 2154.4,923.7 2155.4,922.2 2156.4,920.5 2157.4,918.8 2158.4,917.1 2159.4,915.3 2160.4,913.4 2161.4,911.5 2162.4,909.6 2163.4,907.6 2164.4,905.6 2165.4,903.6 2166.4,901.6 2167.4,899.5 2168.4,897.4 2169.4,895.3 2170.3,893.2 2171.3,891.1 2172.3,888.9 2173.3,886.8 2174.3,884.7 2175.3,882.5 2176.3,880.4 2177.3,878.2 2178.3,875.9 2179.3,873.5 2180.3,871.1 2181.3,868.5 2182.3,865.7 2183.3,862.8 2184.3,859.7 2185.3,856.4 2186.3,852.9 2187.3,849.1 2188.3,845.2 2189.3,841.1 2190.3,836.8 2191.3,832.6 2192.3,828.4 2193.3,824.2 2194.3,820.1 2195.3,816.2 2196.3,812.6 2197.2,809.2 2198.2,806 2199.2,803 2200.2,800 2201.2,796.9 2202.2,793.5 2203.2,789.9 2204.2,785.8 2205.2,781.1 2206.2,775.8 2207.2,769.7 2208.2,763.1 2209.2,756.2 2210.2,749.3 2211.2,742.8 2212.2,736.8 2213.2,731 2214.2,725.2 2215.2,719.3 2216.2,713.3 2217.2,707.6 2218.2,702.4 2219.2,698.3 2220.2,695.1 2221.2,692.8 2222.2,691.2 2223.2,690 2224.1,689.1 2225.1,688.4 2226.1,687.6 2227.1,686.6 2228.1,685.3 2229.1,683.9 2230.1,682.1 2231.1,680.1 2232.1,677.7 2233.1,675 2234.1,672 2235.1,668.5 2236.1,664.5 2237.1,659.8 2238.1,654.4 2239.1,648.4 2240.1,642.1 2241.1,635.7 2242.1,629.4 2243.1,623.2 2244.1,617.3 2245.1,611.7 2246.1,606.4 2247.1,601.6 2248.1,597 2249.1,592.7 2250.1,588.5 2251.1,584.3 2252,580.2 2253,576.1 2254,572 2255,568 2256,564.1 2257,560.4 2258,556.8 2259,553.3 2260,550.1 2261,546.9 2262,543.8 2263,540.9 2264,537.9 2265,535" stroke="#000" stroke-width="10.7"/>
<path d="M274.3,1441.2 275.3,1443.1 276.3,1445 277.3,1446.9 278.3,1448.8 279.3,1450.7 280.3,1452.6 281.3,1454.5 282.3,1456.5 283.3,1458.4 284.3,1460.3 285.3,1462.3 286.3,1464.2 287.3,1466 288.2,1467.8 289.2,1469.6 290.2,1471.3 291.2,1473 292.2,1474.6 293.2,1476.2 294.2,1477.9 295.2,1479.4 296.2,1481 297.2,1482.5 298.2,1483.9 299.2,1485.3 300.2,1486.6 301.2,1487.9 302.2,1489 303.2,1490.2 304.2,1491.3 305.2,1492.5 306.2,1493.6 307.2,1494.6 308.2,1495.6 309.2,1496.5 310.2,1497.4 311.2,1498.1 312.2,1498.8 313.2,1499.4 314.2,1499.9 315.2,1500.4 316.1,1500.9 317.1,1501.4 318.1,1501.9 319.1,1502.3 320.1,1502.7 321.1,1503.1 322.1,1503.4 323.1,1503.7 324.1,1503.8 325.1,1504 326.1,1504 327.1,1504 328.1,1504 329.1,1503.9 330.1,1503.8 331.1,1503.8 332.1,1503.7 333.1,1503.5 334.1,1503.4 335.1,1503.3 336.1,1503.1 337.1,1502.9 338.1,1502.8 339.1,1502.6 340.1,1502.4 341.1,1502.2 342.1,1502 343,1501.8 344,1501.6 345,1501.3 346,1501 347,1500.7 348,1500.3 349,1499.8 350,1499.3 351,1498.9 352,1498.4 353,1497.9 354,1497.4 355,1496.9 356,1496.4 357,1495.9 358,1495.5 359,1495 360,1494.5 361,1494.1 362,1493.6 363,1493.1 364,1492.7 365,1492.2 366,1491.7 367,1491.2 368,1490.7 369,1490.2 369.9,1489.8 370.9,1489.3 371.9,1488.8 372.9,1488.3 373.9,1487.8 374.9,1487.3 375.9,1486.8 376.9,1486.3 377.9,1485.8 378.9,1485.2 379.9,1484.7 380.9,1484.2 381.9,1483.7 382.9,1483.2 383.9,1482.6 384.9,1482.1 385.9,1481.6 386.9,1481.1 387.9,1480.6 388.9,1480 389.9,1479.5 390.9,1479 391.9,1478.5 392.9,1478 393.9,1477.5 394.9,1476.9 395.9,1476.4 396.9,1475.9 397.8,1475.4 398.8,1474.9 399.8,1474.4 400.8,1473.8 401.8,1473.3 402.8,1472.8 403.8,1472.3 404.8,1471.8 405.8,1471.4 406.8,1470.9 407.8,1470.4 408.8,1469.9 409.8,1469.4 410.8,1468.9 411.8,1468.5 412.8,1468 413.8,1467.5 414.8,1467 415.8,1466.6 416.8,1466.1 417.8,1465.6 418.8,1465.2 419.8,1464.7 420.8,1464.2 421.8,1463.7 422.8,1463.2 423.8,1462.7 424.7,1462.3 425.7,1461.8 426.7,1461.3 427.7,1460.8 428.7,1460.3 429.7,1459.7 430.7,1459.2 431.7,1458.7 432.7,1458.2 433.7,1457.6 434.7,1457.1 435.7,1456.5 436.7,1456 437.7,1455.5 438.7,1454.9 439.7,1454.4 440.7,1453.8 441.7,1453.2 442.7,1452.7 443.7,1452.1 444.7,1451.5 445.7,1451 446.7,1450.4 447.7,1449.8 448.7,1449.2 449.7,1448.6 450.7,1448 451.6,1447.4 452.6,1446.8 453.6,1446.2 454.6,1445.6 455.6,1445 456.6,1444.3 457.6,1443.7 458.6,1443 459.6,1442.4 460.6,1441.7 461.6,1441.1 462.6,1440.4 463.6,1439.7 464.6,1439 465.6,1438.3 466.6,1437.6 467.6,1436.9 468.6,1436.2 469.6,1435.5 470.6,1434.7 471.6,1434 472.6,1433.3 473.6,1432.5 474.6,1431.8 475.6,1431 476.6,1430.3 477.6,1429.5 478.6,1428.7 479.5,1428 480.5,1427.2 481.5,1426.4 482.5,1425.6 483.5,1424.9 484.5,1424.1 485.5,1423.3 486.5,1422.5 487.5,1421.8 488.5,1421 489.5,1420.2 490.5,1419.4 491.5,1418.6 492.5,1417.8 493.5,1417.1 494.5,1416.3 495.5,1415.5 496.5,1414.7 497.5,1413.9 498.5,1413.1 499.5,1412.3 500.5,1411.5 501.5,1410.7 502.5,1409.9 503.5,1409 504.5,1408.2 505.5,1407.3 506.4,1406.5 507.4,1405.6 508.4,1404.7 509.4,1403.9 510.4,1403 511.4,1402.1 512.4,1401.1 513.4,1400.2 514.4,1399.3 515.4,1398.3 516.4,1397.3 517.4,1396.3 518.4,1395.3 519.4,1394.3 520.4,1393.3 521.4,1392.2 522.4,1391.2 523.4,1390.1 524.4,1389 525.4,1387.9 526.4,1386.8 527.4,1385.6 528.4,1384.5 529.4,1383.3 530.4,1382.2 531.4,1381 532.4,1379.8 533.4,1378.6 534.3,1377.3 535.3,1376.1 536.3,1374.8 537.3,1373.6 538.3,1372.3 539.3,1371 540.3,1369.6 541.3,1368.3 542.3,1366.9 543.3,1365.5 544.3,1364.1 545.3,1362.7 546.3,1361.3 547.3,1359.8 548.3,1358.3 549.3,1356.8 550.3,1355.3 551.3,1353.8 552.3,1352.3 553.3,1350.7 554.3,1349.1 555.3,1347.6 556.3,1346 557.3,1344.3 558.3,1342.7 559.3,1341.1 560.3,1339.4 561.2,1337.7 562.2,1336 563.2,1334.2 564.2,1332.4 565.2,1330.6 566.2,1328.7 567.2,1326.9 568.2,1325 569.2,1323.1 570.2,1321.2 571.2,1319.3 572.2,1317.4 573.2,1315.5 574.2,1313.6 575.2,1311.7 576.2,1309.8 577.2,1307.8 578.2,1305.9 579.2,1304 580.2,1302.1 581.2,1300.1 582.2,1298.1 583.2,1296.2 584.2,1294.1 585.2,1292.1 586.2,1290 587.2,1287.9 588.1,1285.7 589.1,1283.5 590.1,1281.3 591.1,1279 592.1,1276.7 593.1,1274.3 594.1,1271.9 595.1,1269.5 596.1,1267.1 597.1,1264.6 598.1,1262.1 599.1,1259.6 600.1,1257.1 601.1,1254.6 602.1,1252 603.1,1249.5 604.1,1246.9 605.1,1244.4 606.1,1241.8 607.1,1239.2 608.1,1236.7 609.1,1234.1 610.1,1231.4 611.1,1228.7 612.1,1226 613.1,1223.2 614.1,1220.4 615.1,1217.5 616,1214.5 617,1211.3 618,1208.1 619,1204.8 620,1201.3 621,1197.8 622,1194.3 623,1190.7 624,1187.1 625,1183.4 626,1179.8 627,1176.2 628,1172.6 629,1169.1 630,1165.5 631,1161.9 632,1158.3 633,1154.7 634,1151.1 635,1147.4 636,1143.6 637,1139.7 638,1135.8 639,1131.7 640,1127.6 641,1123.3 642,1118.9 642.9,1114.4 643.9,1109.9 644.9,1105.2 645.9,1100.6 646.9,1095.8 647.9,1091.1 648.9,1086.4 649.9,1081.6 650.9,1076.9 651.9,1072.2 652.9,1067.5 653.9,1062.7 654.9,1057.9 655.9,1052.9 656.9,1047.7 657.9,1042.4 658.9,1036.8 659.9,1030.9 660.9,1024.8 661.9,1018.4 662.9,1011.7 663.9,1004.8 664.9,997.8 665.9,990.6 666.9,983.4 667.9,976.1 668.9,968.8 669.8,961.5 670.8,954.2 671.8,946.9 672.8,939.5 673.8,932 674.8,924.2 675.8,916.2 676.8,907.8 677.8,899.1 678.8,889.9 679.8,880 680.8,869.6 681.3,864.2 681.8,858.8 682.3,853.4 682.8,847.9 683.3,842.4 683.8,836.9 684.3,831.4 684.8,826 685.3,820.6 685.8,815.1 686.3,809.7 686.8,804.2 687.3,798.7 687.8,793.2 688.3,787.6 688.8,782.1 689.3,776.4 689.8,770.8 690.3,765.1 690.8,759.3 691.3,753.5 691.8,748 692.3,742.6 692.8,737.3 693.3,732 693.8,726.4 694.3,720.5 694.8,714.1 695.3,707 695.8,699.3 696.3,690.4 696.8,680.1 697.2,668.6 697.7,655.9 698.2,642.2 698.7,627.6 699.2,612.3 699.7,596.3 700.2,579.8 700.7,563 701.2,545.9 701.7,528.6 702.2,511.4 702.7,494.2 703.2,477.3 703.7,460.8 704.2,444.7 704.7,428.5 704.8,425.1 704.9,421.8 705,418.5 705.1,415.1 705.2,411.8 705.3,408.4 705.4,405 705.5,401.6 705.6,398.2 705.7,394.8 705.8,391.4 705.9,387.9 706,384.5 706.1,381.1 706.2,377.6 706.3,374.2 706.4,370.8 706.5,367.4 706.6,363.9 706.7,360.5 706.8,357.1 706.9,353.7 707,350.3 707.1,346.9 707.2,343.5 707.3,340.2 707.4,336.8 707.5,333.5 707.6,330.1 707.7,326.8 707.8,323.5 707.9,320.2 708,317 708.1,313.7 708.2,310.5 708.3,307.3 708.4,304.1 708.5,301 708.6,297.8 708.7,294.7 708.8,291.6 708.9,288.4 709,285.3 709.1,282.2 709.2,279.1 709.3,276 709.4,272.9 709.5,269.8 709.6,266.7 709.7,263.6 709.8,260.6 709.9,257.6 710,254.5 710.1,251.5 710.2,248.6 710.3,245.6 710.4,242.7 710.5,239.8 710.6,236.9 710.7,234.1 710.8,231.3 710.9,228.6 711,225.8 711.1,223.1 711.2,220.5 711.3,217.9 711.4,215.4 711.5,212.9 711.6,210.4 711.7,208 711.8,205.6 711.9,203.3 712,201.1 712.1,198.9 712.2,196.8 712.3,194.7 712.4,192.6 712.5,190.6 712.6,188.7 712.7,186.7 712.8,184.8 712.9,182.9 713,181.1 713.1,179.3 713.2,177.4 713.3,175.6 713.4,173.8 713.5,172 713.6,170.2 713.7,168.4 713.8,166.5 713.9,164.7 714,162.8 714.1,160.9 714.2,159 714.3,157 714.4,155 714.5,152.9 714.6,150.8 714.7,148.7 714.8,146.5 714.9,152 715,157.3 715.1,162.6 715.2,167.8 715.3,172.8 715.4,177.6 715.5,182.3 715.6,186.8 715.7,191.1 715.8,195.4 715.9,199.6 716,203.7 716.1,207.7 716.2,211.7 716.3,215.6 716.4,219.5 716.5,223.3 716.6,227.1 716.7,230.9 716.8,234.6 716.9,238.3 717,241.9 717.1,245.6 717.2,249.2 717.3,252.8 717.4,256.4 717.5,259.9 717.6,263.5 717.7,267 717.8,270.5 717.9,274.1 718,277.6 718.1,281.2 718.2,284.7 718.3,288.2 718.4,291.8 718.5,295.3 718.6,298.9 718.7,302.4 718.8,305.9 718.9,309.4 719,312.9 719.1,316.4 719.2,319.9 719.3,323.4 719.4,326.9 719.5,330.3 719.6,333.7 719.7,337.2 719.8,340.6 719.9,343.9 720,347.3 720.1,350.6 720.2,354 720.3,357.3 720.4,360.6 720.5,363.8 720.6,367.1 720.7,370.3 720.8,373.5 720.9,376.7 721,379.8 721.1,382.9 721.2,386 721.3,389.1 721.4,392.2 721.5,395.2 721.6,398.3 721.7,401.3 721.8,404.3 721.9,407.3 722,410.2 722.1,413.2 722.2,416.1 722.3,419.1 722.4,422 722.5,424.9 722.6,427.7 722.7,430.6 722.8,433.5 722.9,436.3 723,439.1 723.1,441.9 723.2,444.7 723.3,447.5 723.4,450.3 723.5,453 723.6,455.8 723.7,458.5 723.8,461.2 723.9,463.9 724,466.6 724.1,469.3 724.2,471.9 724.3,474.6 724.3,477.2 724.4,479.9 724.5,482.5 724.6,485.1 725.1,497.9 725.6,510.4 726.1,522.7 726.6,534.7 727.1,546.3 727.6,557.7 728.1,569 728.6,580.3 729.1,591.5 729.6,602.6 730.1,613.6 730.6,624.4 731.1,635 731.6,645.3 732.1,655.5 732.6,665.4 733.1,674.9 733.6,684.2 734.1,693.2 734.6,701.7 735.1,709.9 735.6,717.7 736.1,725.1 736.6,732.2 737.1,738.9 737.6,745.4 738.1,751.6 738.6,757.6 739.1,763.4 739.6,769 740.1,774.5 740.6,779.8 741.1,785.1 741.6,790.2 742.1,795.2 742.6,800.1 743.1,805 743.6,809.7 744.1,814.3 744.6,818.9 745.1,823.3 745.6,827.7 746.1,832 746.6,836.2 747.1,840.3 747.6,844.3 748.1,848.2 748.6,852.1 749.1,855.9 749.6,859.6 750.1,863.2 750.6,866.8 751.5,873.7 752.5,880.5 753.5,887 754.5,893.3 755.5,899.5 756.5,905.6 757.5,911.6 758.5,917.5 759.5,923.4 760.5,929.2 761.5,935 762.5,940.8 763.5,946.5 764.5,952.2 765.5,957.8 766.5,963.3 767.5,968.7 768.5,974 769.5,979.2 770.5,984.2 771.5,989.2 772.5,994 773.5,998.7 774.5,1003.3 775.5,1007.7 776.5,1012 777.5,1016.2 778.5,1020.4 779.4,1024.4 780.4,1028.3 781.4,1032.1 782.4,1035.9 783.4,1039.6 784.4,1043.2 785.4,1046.8 786.4,1050.2 787.4,1053.7 788.4,1057.1 789.4,1060.4 790.4,1063.7 791.4,1067 792.4,1070.2 793.4,1073.4 794.4,1076.6 795.4,1079.7 796.4,1082.7 797.4,1085.8 798.4,1088.8 799.4,1091.7 800.4,1094.7 801.4,1097.6 802.4,1100.4 803.4,1103.2 804.4,1106 805.4,1108.7 806.3,1111.5 807.3,1114.1 808.3,1116.8 809.3,1119.4 810.3,1122 811.3,1124.5 812.3,1127 813.3,1129.5 814.3,1132 815.3,1134.4 816.3,1136.8 817.3,1139.1 818.3,1141.4 819.3,1143.7 820.3,1146 821.3,1148.2 822.3,1150.4 823.3,1152.6 824.3,1154.8 825.3,1156.9 826.3,1159 827.3,1161.1 828.3,1163.1 829.3,1165.1 830.3,1167.1 831.3,1169 832.3,1171 833.3,1172.9 834.2,1174.8 835.2,1176.6 836.2,1178.4 837.2,1180.2 838.2,1182 839.2,1183.8 840.2,1185.5 841.2,1187.2 842.2,1188.9 843.2,1190.5 844.2,1192.2 845.2,1193.8 846.2,1195.4 847.2,1196.9 848.2,1198.5 849.2,1200 850.2,1201.6 851.2,1203.1 852.2,1204.5 853.2,1206 854.2,1207.4 855.2,1208.9 856.2,1210.3 857.2,1211.7 858.2,1213.1 859.2,1214.5 860.2,1215.8 861.1,1217.2 862.1,1218.5 863.1,1219.9 864.1,1221.2 865.1,1222.5 866.1,1223.8 867.1,1225.1 868.1,1226.4 869.1,1227.6 870.1,1228.9 871.1,1230.1 872.1,1231.4 873.1,1232.6 874.1,1233.8 875.1,1235 876.1,1236.2 877.1,1237.4 878.1,1238.6 879.1,1239.7 880.1,1240.9 881.1,1242 882.1,1243.1 883.1,1244.2 884.1,1245.3 885.1,1246.4 886.1,1247.5 887.1,1248.6 888,1249.6 889,1250.6 890,1251.7 891,1252.7 892,1253.7 893,1254.7 894,1255.7 895,1256.7 896,1257.7 897,1258.6 898,1259.6 899,1260.6 900,1261.6 901,1262.5 902,1263.5 903,1264.5 904,1265.5 905,1266.5 906,1267.4 907,1268.4 908,1269.4 909,1270.4 910,1271.5 911,1272.5 912,1273.5 913,1274.6 914,1275.6 915,1276.7 915.9,1277.7 916.9,1278.8 917.9,1279.9 918.9,1280.9 919.9,1282 920.9,1283.1 921.9,1284.2 922.9,1285.2 923.9,1286.3 924.9,1287.4 925.9,1288.4 926.9,1289.5 927.9,1290.5 928.9,1291.5 929.9,1292.6 930.9,1293.6 931.9,1294.6 932.9,1295.6 933.9,1296.6 934.9,1297.5 935.9,1298.5 936.9,1299.4 937.9,1300.4 938.9,1301.3 939.9,1302.2 940.9,1303.1 941.9,1304 942.8,1304.8 943.8,1305.7 944.8,1306.5 945.8,1307.4 946.8,1308.2 947.8,1309 948.8,1309.8 949.8,1310.6 950.8,1311.4 951.8,1312.2 952.8,1313 953.8,1313.7 954.8,1314.5 955.8,1315.3 956.8,1316 957.8,1316.7 958.8,1317.5 959.8,1318.2 960.8,1318.9 961.8,1319.6 962.8,1320.4 963.8,1321.1 964.8,1321.7 965.8,1322.4 966.8,1323.1 967.8,1323.8 968.8,1324.4 969.7,1325.1 970.7,1325.7 971.7,1326.4 972.7,1327 973.7,1327.6 974.7,1328.2 975.7,1328.8 976.7,1329.4 977.7,1329.9 978.7,1330.5 979.7,1331 980.7,1331.6 981.7,1332.1 982.7,1332.6 983.7,1333.1 984.7,1333.6 985.7,1334 986.7,1334.5 987.7,1334.9 988.7,1335.3 989.7,1335.7 990.7,1336.1 991.7,1336.5 992.7,1336.8 993.7,1337.1 994.7,1337.5 995.7,1337.7 996.7,1338 997.6,1338.3 998.6,1338.5 999.6,1338.7 1000.6,1338.9 1001.6,1339 1002.6,1339.2 1003.6,1339.3 1004.6,1339.3 1005.6,1339.4 1006.6,1339.4 1007.6,1339.5 1008.6,1339.4 1009.6,1339.4 1010.6,1339.3 1011.6,1339.3 1012.6,1339.2 1013.6,1339 1014.6,1338.9 1015.6,1338.7 1016.6,1338.5 1017.6,1338.3 1018.6,1338 1019.6,1337.8 1020.6,1337.5 1021.6,1337.2 1022.6,1336.9 1023.6,1336.5 1024.5,1336.2 1025.5,1335.8 1026.5,1335.4 1027.5,1334.9 1028.5,1334.5 1029.5,1334 1030.5,1333.6 1031.5,1333.1 1032.5,1332.5 1033.5,1332 1034.5,1331.5 1035.5,1330.9 1036.5,1330.4 1037.5,1329.8 1038.5,1329.2 1039.5,1328.6 1040.5,1327.9 1041.5,1327.3 1042.5,1326.7 1043.5,1326 1044.5,1325.4 1045.5,1324.7 1046.5,1324 1047.5,1323.4 1048.5,1322.7 1049.5,1322 1050.5,1321.3 1051.5,1320.6 1052.4,1319.9 1053.4,1319.2 1054.4,1318.5 1055.4,1317.8 1056.4,1317.1 1057.4,1316.3 1058.4,1315.6 1059.4,1314.8 1060.4,1314 1061.4,1313.2 1062.4,1312.4 1063.4,1311.6 1064.4,1310.7 1065.4,1309.8 1066.4,1308.9 1067.4,1308 1068.4,1307 1069.4,1306 1070.4,1305 1071.4,1304 1072.4,1302.9 1073.4,1301.8 1074.4,1300.7 1075.4,1299.5 1076.4,1298.3 1077.4,1297.1 1078.4,1295.9 1079.3,1294.7 1080.3,1293.4 1081.3,1292.2 1082.3,1290.9 1083.3,1289.6 1084.3,1288.3 1085.3,1287 1086.3,1285.6 1087.3,1284.3 1088.3,1282.9 1089.3,1281.6 1090.3,1280.2 1091.3,1278.9 1092.3,1277.5 1093.3,1276.1 1094.3,1274.8 1095.3,1273.4 1096.3,1272 1097.3,1270.6 1098.3,1269.3 1099.3,1267.9 1100.3,1266.5 1101.3,1265 1102.3,1263.6 1103.3,1262.1 1104.3,1260.7 1105.3,1259.2 1106.2,1257.6 1107.2,1256.1 1108.2,1254.5 1109.2,1252.8 1110.2,1251.3 1111.2,1249.7 1112.2,1248 1113.2,1246.4 1114.2,1244.7 1115.2,1242.9 1116.2,1241.1 1117.2,1239.3 1118.2,1237.5 1119.2,1235.6 1120.2,1233.7 1121.2,1231.7 1122.2,1229.7 1123.2,1227.7 1124.2,1225.7 1125.2,1223.6 1126.2,1221.5 1127.2,1219.4 1128.2,1217.2 1129.2,1215.1 1130.2,1212.8 1131.2,1210.6 1132.2,1208.3 1133.2,1206 1134.1,1203.7 1135.1,1201.3 1136.1,1198.9 1137.1,1196.5 1138.1,1194.1 1139.1,1191.6 1140.1,1189.1 1141.1,1186.5 1142.1,1183.9 1143.1,1181.3 1144.1,1178.7 1145.1,1176 1146.1,1173.3 1147.1,1170.6 1148.1,1167.8 1149.1,1165 1150.1,1162.2 1151.1,1159.3 1152.1,1156.5 1153.1,1153.5 1154.1,1150.6 1155.1,1147.6 1156.1,1144.6 1157.1,1141.6 1158.1,1138.5 1159.1,1135.4 1160.1,1132.4 1161,1129.4 1162,1126.4 1163,1123.3 1164,1120.2 1165,1117.1 1166,1113.9 1167,1110.7 1168,1107.5 1169,1104.3 1170,1101 1171,1097.7 1172,1094.3 1173,1091 1174,1087.6 1175,1084.2 1176,1080.7 1177,1077.2 1178,1073.7 1179,1070.1 1180,1066.5 1181,1062.9 1182,1059.2 1183,1055.5 1184,1051.7 1185,1047.9 1186,1044.1 1187,1040.2 1187.9,1036.3 1188.9,1032.3 1189.9,1028.3 1190.9,1024.3 1191.9,1020.3 1192.9,1016.3 1193.9,1012.3 1194.9,1008.3 1195.9,1004.4 1196.9,1000.5 1197.9,996.6 1198.9,992.9 1199.9,989.2 1200.9,985.6 1201.9,982.1 1202.9,978.8 1203.9,975.6 1204.9,972.7 1205.9,969.9 1206.9,967.3 1207.9,965 1208.9,962.9 1209.9,961 1210.9,959.3 1211.9,957.8 1212.9,956.5 1213.9,955.4 1214.9,954.5 1215.8,953.8 1216.8,953.3 1217.8,953 1218.8,953 1219.8,952.7 1220.8,952.7 1221.8,952.9 1222.8,953.3 1223.8,953.9 1224.8,954.8 1225.8,955.9 1226.8,957.2 1227.8,958.8 1228.8,960.5 1229.8,962.5 1230.8,964.7 1231.8,967 1232.8,969.5 1233.8,972.2 1234.8,975 1235.8,977.9 1236.8,980.9 1237.8,984 1238.8,987.2 1239.8,990.5 1240.8,993.9 1241.8,997.2 1242.7,1000.7 1243.7,1004.2 1244.7,1007.7 1245.7,1011.2 1246.7,1014.7 1247.7,1018.3 1248.7,1021.8 1249.7,1025.3 1250.7,1028.8 1251.7,1032.2 1252.7,1035.6 1253.7,1038.8 1254.7,1042 1255.7,1045 1256.7,1048 1257.7,1050.8 1258.7,1053.6 1259.7,1056.2 1260.7,1058.7 1261.7,1061.2 1262.7,1063.5 1263.7,1065.7 1264.7,1067.8 1265.7,1069.9 1266.7,1071.8 1267.7,1073.5 1268.7,1075.2 1269.7,1076.7 1270.6,1078.1 1271.6,1079.4 1272.6,1080.6 1273.6,1081.7 1274.6,1082.6 1275.6,1083.4 1276.6,1084.2 1277.6,1084.8 1278.6,1085.3 1279.6,1085.7 1280.6,1086 1281.6,1086.2 1282.6,1086.2 1283.6,1086.3 1284.6,1086.2 1285.6,1085.9 1286.6,1085.6 1287.6,1085.1 1288.6,1084.4 1289.6,1083.7 1290.6,1082.8 1291.6,1081.8 1292.6,1080.8 1293.6,1079.5 1294.6,1078.2 1295.6,1076.8 1296.6,1075.3 1297.5,1073.7 1298.5,1072.1 1299.5,1070.3 1300.5,1068.5 1301.5,1066.6 1302.5,1064.6 1303.5,1062.5 1304.5,1060.3 1305.5,1058.1 1306.5,1055.7 1307.5,1053.2 1308.5,1050.6 1309.5,1048 1310.5,1045.2 1311.5,1042.3 1312.5,1039.4 1313.5,1036.5 1314.5,1033.5 1315.5,1030.5 1316.5,1027.6 1317.5,1024.7 1318.5,1021.8 1319.5,1019 1320.5,1016.3 1321.5,1013.7 1322.5,1011.1 1323.5,1008.7 1324.4,1006.3 1325.4,1004 1326.4,1001.8 1327.4,999.7 1328.4,997.8 1329.4,996 1330.4,994.3 1331.4,992.8 1332.4,991.4 1333.4,990.2 1334.4,989.2 1335.4,988.4 1336.4,987.8 1337.4,987.4 1338.4,987.1 1339.4,987.1 1340.4,987.2 1341.4,987.4 1342.4,987.8 1343.4,988.4 1344.4,989.2 1345.4,990.1 1346.4,991.2 1347.4,992.5 1348.4,993.9 1349.4,995.5 1350.4,997.2 1351.4,999 1352.3,1000.9 1353.3,1003 1354.3,1005.2 1355.3,1007.5 1356.3,1009.8 1357.3,1012.2 1358.3,1014.7 1359.3,1017.3 1360.3,1019.9 1361.3,1022.6 1362.3,1025.3 1363.3,1028 1364.3,1030.7 1365.3,1033.4 1366.3,1036.1 1367.3,1038.9 1368.3,1041.6 1369.3,1044.3 1370.3,1047 1371.3,1049.7 1372.3,1052.5 1373.3,1055.2 1374.3,1057.9 1375.3,1060.6 1376.3,1063.3 1377.3,1065.9 1378.3,1068.6 1379.2,1071.3 1380.2,1074 1381.2,1076.6 1382.2,1079.3 1383.2,1081.9 1384.2,1084.5 1385.2,1087.2 1386.2,1089.8 1387.2,1092.3 1388.2,1094.9 1389.2,1097.5 1390.2,1100.1 1391.2,1102.7 1392.2,1105.2 1393.2,1107.7 1394.2,1110.2 1395.2,1112.6 1396.2,1115 1397.2,1117.4 1398.2,1119.7 1399.2,1122 1400.2,1124.3 1401.2,1126.5 1402.2,1128.7 1403.2,1130.8 1404.2,1133 1405.2,1135.1 1406.1,1137.2 1407.1,1139.3 1408.1,1141.3 1409.1,1143.3 1410.1,1145.4 1411.1,1147.4 1412.1,1149.3 1413.1,1151.3 1414.1,1153.3 1415.1,1155.3 1416.1,1157.2 1417.1,1159.1 1418.1,1161.1 1419.1,1163 1420.1,1164.9 1421.1,1166.8 1422.1,1168.7 1423.1,1170.5 1424.1,1172.4 1425.1,1174.2 1426.1,1176 1427.1,1177.8 1428.1,1179.6 1429.1,1181.4 1430.1,1183.1 1431.1,1184.9 1432.1,1186.6 1433.1,1188.2 1434,1189.9 1435,1191.5 1436,1193.2 1437,1194.7 1438,1196.3 1439,1197.8 1440,1199.3 1441,1200.8 1442,1202.3 1443,1203.7 1444,1205.1 1445,1206.4 1446,1207.7 1447,1209 1448,1210.2 1449,1211.5 1450,1212.6 1451,1213.8 1452,1214.9 1453,1216 1454,1217.1 1455,1218.1 1456,1219.1 1457,1220 1458,1221 1459,1221.9 1460,1222.7 1460.9,1223.6 1461.9,1224.4 1462.9,1225.2 1463.9,1225.9 1464.9,1226.7 1465.9,1227.4 1466.9,1228 1467.9,1228.7 1468.9,1229.3 1469.9,1229.9 1470.9,1230.4 1471.9,1231 1472.9,1231.5 1473.9,1232 1474.9,1232.4 1475.9,1232.9 1476.9,1233.3 1477.9,1233.7 1478.9,1234 1479.9,1234.3 1480.9,1234.7 1481.9,1234.9 1482.9,1235.2 1483.9,1235.4 1484.9,1235.6 1485.9,1235.8 1486.9,1235.9 1487.8,1236.1 1488.8,1236.1 1489.8,1236.2 1490.8,1236.3 1491.8,1236.4 1492.8,1236.5 1493.8,1236.5 1494.8,1236.5 1495.8,1236.5 1496.8,1236.5 1497.8,1236.4 1498.8,1236.3 1499.8,1236.1 1500.8,1235.9 1501.8,1235.7 1502.8,1235.5 1503.8,1235.2 1504.8,1234.9 1505.8,1234.6 1506.8,1234.2 1507.8,1233.8 1508.8,1233.4 1509.8,1232.9 1510.8,1232.4 1511.8,1231.8 1512.8,1231.3 1513.8,1230.6 1514.8,1230 1515.7,1229.3 1516.7,1228.6 1517.7,1227.9 1518.7,1227.1 1519.7,1226.3 1520.7,1225.4 1521.7,1224.5 1522.7,1223.6 1523.7,1222.7 1524.7,1221.7 1525.7,1220.6 1526.7,1219.6 1527.7,1218.5 1528.7,1217.4 1529.7,1216.2 1530.7,1215 1531.7,1213.8 1532.7,1212.5 1533.7,1211.2 1534.7,1209.9 1535.7,1208.5 1536.7,1207.1 1537.7,1205.6 1538.7,1204.2 1539.7,1202.6 1540.7,1201.1 1541.7,1199.5 1542.6,1197.8 1543.6,1196.2 1544.6,1194.4 1545.6,1192.7 1546.6,1190.9 1547.6,1189.1 1548.6,1187.3 1549.6,1185.4 1550.6,1183.4 1551.6,1181.5 1552.6,1179.5 1553.6,1177.5 1554.6,1175.4 1555.6,1173.3 1556.6,1171.2 1557.6,1169.1 1558.6,1166.9 1559.6,1164.7 1560.6,1162.4 1561.6,1160.1 1562.6,1157.8 1563.6,1155.5 1564.6,1153.2 1565.6,1150.8 1566.6,1148.4 1567.6,1146 1568.6,1143.5 1569.6,1141.1 1570.5,1138.6 1571.5,1136.1 1572.5,1133.6 1573.5,1131.1 1574.5,1128.5 1575.5,1125.9 1576.5,1123.3 1577.5,1120.7 1578.5,1118 1579.5,1115.3 1580.5,1112.6 1581.5,1109.8 1582.5,1106.9 1583.5,1104 1584.5,1101.1 1585.5,1098.1 1586.5,1095.1 1587.5,1092.1 1588.5,1089.1 1589.5,1086.1 1590.5,1083.1 1591.5,1080.2 1592.5,1077.4 1593.5,1074.6 1594.5,1072 1595.5,1069.4 1596.5,1067 1597.4,1064.7 1598.4,1062.5 1599.4,1060.4 1600.4,1058.4 1601.4,1056.6 1602.4,1054.8 1603.4,1053.1 1604.4,1051.6 1605.4,1050.1 1606.4,1048.8 1607.4,1047.6 1608.4,1046.4 1609.4,1045.5 1610.4,1044.6 1611.4,1044 1612.4,1043.4 1613.4,1043.1 1614.4,1042.8 1615.4,1042.7 1616.4,1042.6 1617.4,1042.7 1618.4,1042.7 1619.4,1042.9 1620.4,1043.2 1621.4,1043.7 1622.4,1044.6 1623.4,1045.7 1624.3,1047.3 1625.3,1049.2 1626.3,1051.6 1627.3,1054.4 1628.3,1057.4 1629.3,1060.5 1630.3,1063.7 1631.3,1066.9 1632.3,1070 1633.3,1072.9 1634.3,1075.8 1635.3,1078.6 1636.3,1081.2 1637.3,1083.9 1638.3,1086.4 1639.3,1088.9 1640.3,1091.3 1641.3,1093.7 1642.3,1096 1643.3,1098.3 1644.3,1100.5 1645.3,1102.8 1646.3,1105 1647.3,1107.1 1648.3,1108.8 1649.3,1110.5 1650.3,1112.2 1651.3,1113.7 1652.2,1115.2 1653.2,1116.5 1654.2,1117.8 1655.2,1118.9 1656.2,1119.9 1657.2,1120.7 1658.2,1121.3 1659.2,1121.8 1660.2,1122.1 1661.2,1122.2 1662.2,1122.2 1663.2,1122 1664.2,1121.6 1665.2,1121 1666.2,1120.2 1667.2,1119.1 1668.2,1117.8 1669.2,1116.3 1670.2,1114.6 1671.2,1112.6 1672.2,1110.5 1673.2,1108.1 1674.2,1105.6 1675.2,1102.9 1676.2,1100 1677.2,1097 1678.2,1093.8 1679.1,1090.5 1680.1,1087.1 1681.1,1083.6 1682.1,1079.9 1683.1,1076.1 1684.1,1072.1 1685.1,1068 1686.1,1063.6 1687.1,1059.1 1688.1,1054.3 1689.1,1049.3 1690.1,1044 1691.1,1038.5 1692.1,1032.9 1693.1,1027 1694.1,1021.1 1695.1,1015 1696.1,1008.8 1697.1,1002.6 1698.1,996.6 1699.1,990.6 1700.1,984.6 1701.1,978.4 1702.1,972.2 1703.1,965.9 1704.1,959.4 1705.1,952.8 1706,946 1707,939.2 1708,932.2 1709,925.3 1710,918.3 1711,911.4 1712,904.6 1713,897.9 1714,891.3 1715,884.7 1716,878 1717,871.3 1718,864.4 1719,857.4 1720,850.2 1721,843.1 1722,836 1723,829 1724,822.4 1725,816 1726,810.1 1727,804.7 1728,799.7 1729,795.2 1730,791.2 1731,787.6 1732,784.4 1733,781.7 1733.9,779.5 1734.9,777.7 1735.9,776.3 1736.9,775.4 1737.9,775 1738.9,775.1 1739.9,775.2 1740.9,775.8 1741.9,776.8 1742.9,778.3 1743.9,780.3 1744.9,782.7 1745.9,785.5 1746.9,788.8 1747.9,792.5 1748.9,796.6 1749.9,801.1 1750.9,806 1751.9,811.2 1752.9,816.9 1753.9,822.9 1754.9,829.2 1755.9,835.7 1756.9,842.3 1757.9,849 1758.9,855.5 1759.9,862 1760.8,868.3 1761.8,874.4 1762.8,880.4 1763.8,886.3 1764.8,892.2 1765.8,897.9 1766.8,903.6 1767.8,909.2 1768.8,914.9 1769.8,920.5 1770.8,926.1 1771.8,931.7 1772.8,937.3 1773.8,942.8 1774.8,948.3 1775.8,953.7 1776.8,959.1 1777.8,964.3 1778.8,969.5 1779.8,974.5 1780.8,979.4 1781.8,984.2 1782.8,988.9 1783.8,993.5 1784.8,998 1785.8,1002.4 1786.8,1006.7 1787.8,1011 1788.7,1015.3 1789.7,1019.5 1790.7,1023.6 1791.7,1027.7 1792.7,1031.7 1793.7,1035.7 1794.7,1039.7 1795.7,1043.6 1796.7,1047.5 1797.7,1051.3 1798.7,1055 1799.7,1058.7 1800.7,1062.3 1801.7,1065.9 1802.7,1069.4 1803.7,1072.9 1804.7,1076.2 1805.7,1079.5 1806.7,1082.8 1807.7,1085.9 1808.7,1089 1809.7,1092.1 1810.7,1095.1 1811.7,1098 1812.7,1100.8 1813.7,1103.6 1814.7,1106.4 1815.6,1109.1 1816.6,1111.7 1817.6,1114.3 1818.6,1116.8 1819.6,1119.3 1820.6,1121.8 1821.6,1124.2 1822.6,1126.6 1823.6,1129 1824.6,1131.4 1825.6,1133.7 1826.6,1136 1827.6,1138.3 1828.6,1140.6 1829.6,1142.9 1830.6,1145.1 1831.6,1147.3 1832.6,1149.4 1833.6,1151.5 1834.6,1153.5 1835.6,1155.5 1836.6,1157.4 1837.6,1159.2 1838.6,1161 1839.6,1162.7 1840.6,1164.3 1841.6,1165.9 1842.5,1167.4 1843.5,1168.9 1844.5,1170.3 1845.5,1171.7 1846.5,1173 1847.5,1174.3 1848.5,1175.5 1849.5,1176.7 1850.5,1177.9 1851.5,1179 1852.5,1180.1 1853.5,1181.2 1854.5,1182.2 1855.5,1183.2 1856.5,1184.2 1857.5,1185.1 1858.5,1186 1859.5,1186.9 1860.5,1187.7 1861.5,1188.4 1862.5,1189 1863.5,1189.5 1864.5,1189.9 1865.5,1190 1866.5,1189.8 1867.5,1189.1 1868.5,1188.2 1869.5,1187 1870.4,1185.5 1871.4,1183.8 1872.4,1181.9 1873.4,1179.8 1874.4,1177.5 1875.4,1174.9 1876.4,1172.2 1877.4,1169.2 1878.4,1166.1 1879.4,1162.6 1880.4,1158.7 1881.4,1154.1 1882.4,1148.8 1883.4,1142.6 1884.4,1135.3 1885.4,1126.9 1886.4,1117.3 1886.9,1111.9 1887.4,1106.4 1887.9,1100.6 1888.4,1094.6 1888.9,1088.4 1889.4,1082 1889.9,1075.6 1890.4,1069.1 1890.9,1062.7 1891.4,1056.3 1891.9,1049.9 1892.4,1043.3 1892.9,1036.5 1893.4,1029.5 1893.9,1022 1894.4,1014.1 1894.9,1005.6 1895.4,996.6 1895.9,986.8 1896.4,976.5 1896.9,965.8 1897.3,954.7 1897.8,943.5 1898.3,932.1 1898.8,920.8 1899.3,909.6 1899.8,898.7 1900.3,888.2 1900.8,878.3 1901.3,868.9 1901.8,860.2 1902.3,852.1 1902.8,844.5 1903.3,837.5 1903.8,830.8 1904.3,824.5 1904.8,818.4 1905.3,812.7 1905.8,807.3 1906.3,802.3 1906.8,797.8 1907.3,793.8 1907.8,790.2 1908.3,787.3 1908.8,784.9 1909.3,783.2 1909.8,782.3 1910.3,782 1910.8,782.5 1911.3,783.7 1911.8,785.5 1912.3,787.9 1912.8,790.7 1913.3,793.9 1913.8,797.5 1914.3,801.3 1914.8,805.2 1915.3,809.3 1915.8,813.4 1916.3,817.5 1916.8,821.4 1917.3,825.3 1917.8,829.2 1918.3,832.9 1918.8,836.6 1919.3,840.3 1919.8,843.9 1920.3,847.4 1920.8,850.9 1921.3,854.3 1921.8,857.7 1922.3,861 1922.8,864.2 1923.3,867.4 1923.8,870.5 1924.2,873.6 1924.7,876.5 1925.2,879.4 1925.7,882.2 1926.2,884.9 1927.2,890 1928.2,894.7 1929.2,898.9 1930.2,902.9 1931.2,906.4 1932.2,909.7 1933.2,912.7 1934.2,915.5 1935.2,918.1 1936.2,920.5 1937.2,922.7 1938.2,924.8 1939.2,926.6 1940.2,928.3 1941.2,929.9 1942.2,931.3 1943.2,932.4 1944.2,933.5 1945.2,934.3 1946.2,935 1947.2,935.4 1948.2,935.7 1949.2,935.8 1950.2,935.7 1951.2,935.4 1952.1,935 1953.1,934.3 1954.1,933.3 1955.1,932.2 1956.1,930.9 1957.1,929.3 1958.1,927.4 1959.1,925.4 1960.1,923.1 1961.1,920.6 1962.1,918 1963.1,915.2 1964.1,912.3 1965.1,909.3 1966.1,906.2 1967.1,903.1 1968.1,900 1969.1,896.9 1970.1,893.8 1971.1,890.7 1972.1,887.6 1973.1,884.5 1974.1,881.4 1975.1,878.2 1976.1,874.9 1977.1,871.6 1978.1,868.2 1979,864.7 1980,861.1 1981,857.5 1982,853.7 1983,849.8 1984,845.9 1985,841.9 1986,837.9 1987,833.8 1988,829.7 1989,825.6 1990,821.4 1991,817.3 1992,813.1 1993,809 1994,804.8 1995,800.7 1996,796.6 1997,792.6 1998,788.6 1999,784.7 2000,780.9 2001,777.1 2002,773.5 2003,769.9 2004,766.4 2005,763.1 2005.9,759.9 2006.9,756.8 2007.9,753.8 2008.9,751 2009.9,748.3 2010.9,745.8 2011.9,743.5 2012.9,741.3 2013.9,739.3 2014.9,737.6 2015.9,736 2016.9,734.7 2017.9,733.7 2018.9,732.9 2019.9,732.4 2020.9,732.1 2021.9,732.2 2022.9,732.6 2023.9,733.2 2024.9,734.1 2025.9,735.3 2026.9,736.7 2027.9,738.3 2028.9,740.2 2029.9,742.3 2030.9,744.6 2031.9,747.1 2032.9,749.8 2033.8,752.6 2034.8,755.6 2035.8,758.8 2036.8,762.1 2037.8,765.5 2038.8,769 2039.8,772.6 2040.8,776.4 2041.8,780.2 2042.8,784 2043.8,788 2044.8,792 2045.8,796 2046.8,800 2047.8,804.1 2048.8,808.1 2049.8,812.1 2050.8,816.1 2051.8,820.1 2052.8,824 2053.8,827.9 2054.8,831.7 2055.8,835.4 2056.8,839 2057.8,842.6 2058.8,846.1 2059.8,849.5 2060.7,852.8 2061.7,856.1 2062.7,859.2 2063.7,862.3 2064.7,865.2 2065.7,868.1 2066.7,870.8 2067.7,873.5 2068.7,876.1 2069.7,878.6 2070.7,881 2071.7,883.3 2072.7,885.6 2073.7,887.8 2074.7,890 2075.7,892.1 2076.7,894.2 2077.7,896.2 2078.7,898.3 2079.7,900.3 2080.7,902.3 2081.7,904.2 2082.7,906.2 2083.7,908.1 2084.7,909.9 2085.7,911.8 2086.7,913.6 2087.7,915.3 2088.6,917.1 2089.6,918.7 2090.6,920.4 2091.6,921.9 2092.6,923.4 2093.6,924.9 2094.6,926.3 2095.6,927.7 2096.6,928.9 2097.6,930.2 2098.6,931.3 2099.6,932.4 2100.6,933.5 2101.6,934.5 2102.6,935.4 2103.6,936.3 2104.6,937.1 2105.6,937.9 2106.6,938.6 2107.6,939.3 2108.6,939.9 2109.6,940.5 2110.6,941 2111.6,941.5 2112.6,942 2113.6,942.4 2114.6,942.8 2115.5,943.1 2116.5,943.4 2117.5,943.6 2118.5,943.9 2119.5,944 2120.5,944.2 2121.5,944.3 2122.5,944.4 2123.5,944.5 2124.5,944.5 2125.5,944.5 2126.5,944.5 2127.5,944.5 2128.5,944.4 2129.5,944.3 2130.5,944.1 2131.5,943.9 2132.5,943.7 2133.5,943.4 2134.5,943 2135.5,942.6 2136.5,942.2 2137.5,941.7 2138.5,941.1 2139.5,940.5 2140.5,939.8 2141.5,939.1 2142.4,938.3 2143.4,937.4 2144.4,936.5 2145.4,935.5 2146.4,934.4 2147.4,933.3 2148.4,932.1 2149.4,930.9 2150.4,929.5 2151.4,928.2 2152.4,926.8 2153.4,925.3 2154.4,923.7 2155.4,922.2 2156.4,920.5 2157.4,918.8 2158.4,917.1 2159.4,915.3 2160.4,913.4 2161.4,911.5 2162.4,909.6 2163.4,907.6 2164.4,905.6 2165.4,903.6 2166.4,901.6 2167.4,899.5 2168.4,897.4 2169.4,895.3 2170.3,893.2 2171.3,891.1 2172.3,888.9 2173.3,886.8 2174.3,884.7 2175.3,882.5 2176.3,880.4 2177.3,878.2 2178.3,875.9 2179.3,873.5 2180.3,871.1 2181.3,868.5 2182.3,865.7 2183.3,862.8 2184.3,859.7 2185.3,856.4 2186.3,852.9 2187.3,849.1 2188.3,845.2 2189.3,841.1 2190.3,836.8 2191.3,832.6 2192.3,828.4 2193.3,824.2 2194.3,820.1 2195.3,816.2 2196.3,812.6 2197.2,809.2 2198.2,806 2199.2,803 2200.2,800 2201.2,796.9 2202.2,793.5 2203.2,789.9 2204.2,785.8 2205.2,781.1 2206.2,775.8 2207.2,769.7 2208.2,763.1 2209.2,756.2 2210.2,749.3 2211.2,742.8 2212.2,736.8 2213.2,731 2214.2,725.2 2215.2,719.3 2216.2,713.3 2217.2,707.6 2218.2,702.4 2219.2,698.3 2220.2,695.1 2221.2,692.8 2222.2,691.2 2223.2,690 2224.1,689.1 2225.1,688.4 2226.1,687.6 2227.1,686.6 2228.1,685.3 2229.1,683.9 2230.1,682.1 2231.1,680.1 2232.1,677.7 2233.1,675 2234.1,672 2235.1,668.5 2236.1,664.5 2237.1,659.8 2238.1,654.4 2239.1,648.4 2240.1,642.1 2241.1,635.7 2242.1,629.4 2243.1,623.2 2244.1,617.3 2245.1,611.7 2246.1,606.4 2247.1,601.6 2248.1,597 2249.1,592.7 2250.1,588.5 2251.1,584.3 2252,580.2 2253,576.1 2254,572 2255,568 2256,564.1 2257,560.4 2258,556.8 2259,553.3 2260,550.1 2261,546.9 2262,543.8 2263,540.9 2264,537.9 2265,535" stroke="#ff0000" stroke-width="10.7" stroke-dasharray="49 69.4" stroke-dashoffset="0"/>
<path d="M274.3,1441.2 275.3,1443.1 276.3,1445 277.3,1446.9 278.3,1448.8 279.3,1450.7 280.3,1452.6 281.3,1454.5 282.3,1456.5 283.3,1458.4 284.3,1460.3 285.3,1462.3 286.3,1464.2 287.3,1466 288.2,1467.8 289.2,1469.6 290.2,1471.3 291.2,1473 292.2,1474.6 293.2,1476.2 294.2,1477.9 295.2,1479.4 296.2,1481 297.2,1482.5 298.2,1483.9 299.2,1485.3 300.2,1486.6 301.2,1487.9 302.2,1489 303.2,1490.2 304.2,1491.3 305.2,1492.5 306.2,1493.6 307.2,1494.6 308.2,1495.6 309.2,1496.5 310.2,1497.4 311.2,1498.1 312.2,1498.8 313.2,1499.4 314.2,1499.9 315.2,1500.4 316.1,1500.9 317.1,1501.4 318.1,1501.9 319.1,1502.3 320.1,1502.7 321.1,1503.1 322.1,1503.4 323.1,1503.7 324.1,1503.8 325.1,1504 326.1,1504 327.1,1504 328.1,1504 329.1,1503.9 330.1,1503.8 331.1,1503.8 332.1,1503.7 333.1,1503.5 334.1,1503.4 335.1,1503.3 336.1,1503.1 337.1,1502.9 338.1,1502.8 339.1,1502.6 340.1,1502.4 341.1,1502.2 342.1,1502 343,1501.8 344,1501.6 345,1501.3 346,1501 347,1500.7 348,1500.3 349,1499.8 350,1499.3 351,1498.9 352,1498.4 353,1497.9 354,1497.4 355,1496.9 356,1496.4 357,1495.9 358,1495.5 359,1495 360,1494.5 361,1494.1 362,1493.6 363,1493.1 364,1492.7 365,1492.2 366,1491.7 367,1491.2 368,1490.7 369,1490.2 369.9,1489.8 370.9,1489.3 371.9,1488.8 372.9,1488.3 373.9,1487.8 374.9,1487.3 375.9,1486.8 376.9,1486.3 377.9,1485.8 378.9,1485.2 379.9,1484.7 380.9,1484.2 381.9,1483.7 382.9,1483.2 383.9,1482.6 384.9,1482.1 385.9,1481.6 386.9,1481.1 387.9,1480.6 388.9,1480 389.9,1479.5 390.9,1479 391.9,1478.5 392.9,1478 393.9,1477.5 394.9,1476.9 395.9,1476.4 396.9,1475.9 397.8,1475.4 398.8,1474.9 399.8,1474.4 400.8,1473.8 401.8,1473.3 402.8,1472.8 403.8,1472.3 404.8,1471.8 405.8,1471.4 406.8,1470.9 407.8,1470.4 408.8,1469.9 409.8,1469.4 410.8,1468.9 411.8,1468.5 412.8,1468 413.8,1467.5 414.8,1467 415.8,1466.6 416.8,1466.1 417.8,1465.6 418.8,1465.2 419.8,1464.7 420.8,1464.2 421.8,1463.7 422.8,1463.2 423.8,1462.7 424.7,1462.3 425.7,1461.8 426.7,1461.3 427.7,1460.8 428.7,1460.3 429.7,1459.7 430.7,1459.2 431.7,1458.7 432.7,1458.2 433.7,1457.6 434.7,1457.1 435.7,1456.5 436.7,1456 437.7,1455.5 438.7,1454.9 439.7,1454.4 440.7,1453.8 441.7,1453.2 442.7,1452.7 443.7,1452.1 444.7,1451.5 445.7,1451 446.7,1450.4 447.7,1449.8 448.7,1449.2 449.7,1448.6 450.7,1448 451.6,1447.4 452.6,1446.8 453.6,1446.2 454.6,1445.6 455.6,1445 456.6,1444.3 457.6,1443.7 458.6,1443 459.6,1442.4 460.6,1441.7 461.6,1441.1 462.6,1440.4 463.6,1439.7 464.6,1439 465.6,1438.3 466.6,1437.6 467.6,1436.9 468.6,1436.2 469.6,1435.5 470.6,1434.7 471.6,1434 472.6,1433.3 473.6,1432.5 474.6,1431.8 475.6,1431 476.6,1430.3 477.6,1429.5 478.6,1428.7 479.5,1428 480.5,1427.2 481.5,1426.4 482.5,1425.6 483.5,1424.9 484.5,1424.1 485.5,1423.3 486.5,1422.5 487.5,1421.8 488.5,1421 489.5,1420.2 490.5,1419.4 491.5,1418.6 492.5,1417.8 493.5,1417.1 494.5,1416.3 495.5,1415.5 496.5,1414.7 497.5,1413.9 498.5,1413.1 499.5,1412.3 500.5,1411.5 501.5,1410.7 502.5,1409.9 503.5,1409 504.5,1408.2 505.5,1407.3 506.4,1406.5 507.4,1405.6 508.4,1404.7 509.4,1403.9 510.4,1403 511.4,1402.1 512.4,1401.1 513.4,1400.2 514.4,1399.3 515.4,1398.3 516.4,1397.3 517.4,1396.3 518.4,1395.3 519.4,1394.3 520.4,1393.3 521.4,1392.2 522.4,1391.2 523.4,1390.1 524.4,1389 525.4,1387.9 526.4,1386.8 527.4,1385.6 528.4,1384.5 529.4,1383.3 530.4,1382.2 531.4,1381 532.4,1379.8 533.4,1378.6 534.3,1377.3 535.3,1376.1 536.3,1374.8 537.3,1373.6 538.3,1372.3 539.3,1371 540.3,1369.6 541.3,1368.3 542.3,1366.9 543.3,1365.5 544.3,1364.1 545.3,1362.7 546.3,1361.3 547.3,1359.8 548.3,1358.3 549.3,1356.8 550.3,1355.3 551.3,1353.8 552.3,1352.3 553.3,1350.7 554.3,1349.1 555.3,1347.6 556.3,1346 557.3,1344.3 558.3,1342.7 559.3,1341.1 560.3,1339.4 561.2,1337.7 562.2,1336 563.2,1334.2 564.2,1332.4 565.2,1330.6 566.2,1328.7 567.2,1326.9 568.2,1325 569.2,1323.1 570.2,1321.2 571.2,1319.3 572.2,1317.4 573.2,1315.5 574.2,1313.6 575.2,1311.7 576.2,1309.8 577.2,1307.8 578.2,1305.9 579.2,1304 580.2,1302.1 581.2,1300.1 582.2,1298.1 583.2,1296.2 584.2,1294.1 585.2,1292.1 586.2,1290 587.2,1287.9 588.1,1285.7 589.1,1283.5 590.1,1281.3 591.1,1279 592.1,1276.7 593.1,1274.3 594.1,1271.9 595.1,1269.5 596.1,1267.1 597.1,1264.6 598.1,1262.1 599.1,1259.6 600.1,1257.1 601.1,1254.6 602.1,1252 603.1,1249.5 604.1,1246.9 605.1,1244.4 606.1,1241.8 607.1,1239.2 608.1,1236.7 609.1,1234.1 610.1,1231.4 611.1,1228.7 612.1,1226 613.1,1223.2 614.1,1220.4 615.1,1217.5 616,1214.5 617,1211.3 618,1208.1 619,1204.8 620,1201.3 621,1197.8 622,1194.3 623,1190.7 624,1187.1 625,1183.4 626,1179.8 627,1176.2 628,1172.6 629,1169.1 630,1165.5 631,1161.9 632,1158.3 633,1154.7 634,1151.1 635,1147.4 636,1143.6 637,1139.7 638,1135.8 639,1131.7 640,1127.6 641,1123.3 642,1118.9 642.9,1114.4 643.9,1109.9 644.9,1105.2 645.9,1100.6 646.9,1095.8 647.9,1091.1 648.9,1086.4 649.9,1081.6 650.9,1076.9 651.9,1072.2 652.9,1067.5 653.9,1062.7 654.9,1057.9 655.9,1052.9 656.9,1047.7 657.9,1042.4 658.9,1036.8 659.9,1030.9 660.9,1024.8 661.9,1018.4 662.9,1011.7 663.9,1004.8 664.9,997.8 665.9,990.6 666.9,983.4 667.9,976.1 668.9,968.8 669.8,961.5 670.8,954.2 671.8,946.9 672.8,939.5 673.8,932 674.8,924.2 675.8,916.2 676.8,907.8 677.8,899.1 678.8,889.9 679.8,880 680.8,869.6 681.3,864.2 681.8,858.8 682.3,853.4 682.8,847.9 683.3,842.4 683.8,836.9 684.3,831.4 684.8,826 685.3,820.6 685.8,815.1 686.3,809.7 686.8,804.2 687.3,798.7 687.8,793.2 688.3,787.6 688.8,782.1 689.3,776.4 689.8,770.8 690.3,765.1 690.8,759.3 691.3,753.5 691.8,748 692.3,742.6 692.8,737.3 693.3,732 693.8,726.4 694.3,720.5 694.8,714.1 695.3,707 695.8,699.3 696.3,690.4 696.8,680.1 697.2,668.6 697.7,655.9 698.2,642.2 698.7,627.6 699.2,612.3 699.7,596.3 700.2,579.8 700.7,563 701.2,545.9 701.7,528.6 702.2,511.4 702.7,494.2 703.2,477.3 703.7,460.8 704.2,444.7 704.7,428.5 704.8,425.1 704.9,421.8 705,418.5 705.1,415.1 705.2,411.8 705.3,408.4 705.4,405 705.5,401.6 705.6,398.2 705.7,394.8 705.8,391.4 705.9,387.9 706,384.5 706.1,381.1 706.2,377.6 706.3,374.2 706.4,370.8 706.5,367.4 706.6,363.9 706.7,360.5 706.8,357.1 706.9,353.7 707,350.3 707.1,346.9 707.2,343.5 707.3,340.2 707.4,336.8 707.5,333.4 707.6,330.1 707.7,326.8 707.8,323.5 707.9,320.2 708,317 708.1,313.7 708.2,310.5 708.3,307.3 708.4,304.1 708.5,301 708.6,297.8 708.7,294.7 708.8,291.5 708.9,288.4 709,285.2 709.1,282.1 709.2,279 709.3,275.8 709.4,272.7 709.5,269.6 709.6,266.5 709.7,263.4 709.8,260.3 709.9,257.2 710,254.2 710.1,251.1 710.2,248 710.3,245 710.4,242 710.5,239 710.6,236 710.7,233 710.8,230 710.9,227.1 711,224.2 711.1,221.3 711.2,218.4 711.3,215.5 711.4,212.7 711.5,209.8 711.6,207 711.7,204.3 711.8,201.5 711.9,198.8 712,196.1 712.1,193.4 712.2,190.8 712.3,188.1 712.4,185.5 712.5,182.9 712.6,180.4 712.7,177.8 712.8,175.3 712.9,172.8 713,170.3 713.1,167.8 713.2,165.4 713.3,162.9 713.4,160.5 713.5,158.1 713.6,155.8 713.7,153.4 713.8,151.1 713.9,148.7 714,146.4 714.1,144.2 714.2,141.9 714.3,139.6 714.4,137.4 714.5,135.2 714.6,133 714.7,130.9 714.8,128.7 714.9,134.3 715,139.8 715.1,145.3 715.2,150.7 715.3,156 715.4,161.2 715.5,166.3 715.6,171.3 715.7,176.2 715.8,181 715.9,185.7 716,190.4 716.1,195.1 716.2,199.7 716.3,204.2 716.4,208.7 716.5,213.2 716.6,217.6 716.7,222 716.8,226.3 716.9,230.6 717,234.8 717.1,239 717.2,243.2 717.3,247.3 717.4,251.3 717.5,255.4 717.6,259.3 717.7,263.3 717.8,267.2 717.9,271.1 718,274.9 718.1,278.8 718.2,282.6 718.3,286.4 718.4,290.1 718.5,293.9 718.6,297.6 718.7,301.3 718.8,305 718.9,308.6 719,312.2 719.1,315.8 719.2,319.4 719.3,323 719.4,326.5 719.5,330 719.6,333.5 719.7,336.9 719.8,340.4 719.9,343.8 720,347.2 720.1,350.5 720.2,353.9 720.3,357.2 720.4,360.5 720.5,363.8 720.6,367 720.7,370.2 720.8,373.4 720.9,376.6 721,379.8 721.1,382.9 721.2,386 721.3,389.1 721.4,392.2 721.5,395.2 721.6,398.3 721.7,401.3 721.8,404.3 721.9,407.3 722,410.2 722.1,413.2 722.2,416.1 722.3,419 722.4,422 722.5,424.9 722.6,427.7 722.7,430.6 722.8,433.5 722.9,436.3 723,439.1 723.1,441.9 723.2,444.7 723.3,447.5 723.4,450.3 723.5,453 723.6,455.8 723.7,458.5 723.8,461.2 723.9,463.9 724,466.6 724.1,469.3 724.2,471.9 724.3,474.6 724.3,477.2 724.4,479.9 724.5,482.5 724.6,485.1 725.1,497.9 725.6,510.4 726.1,522.7 726.6,534.7 727.1,546.3 727.6,557.7 728.1,569 728.6,580.3 729.1,591.5 729.6,602.6 730.1,613.6 730.6,624.4 731.1,635 731.6,645.3 732.1,655.5 732.6,665.4 733.1,674.9 733.6,684.2 734.1,693.2 734.6,701.7 735.1,709.9 735.6,717.7 736.1,725.1 736.6,732.2 737.1,738.9 737.6,745.4 738.1,751.6 738.6,757.6 739.1,763.4 739.6,769 740.1,774.5 740.6,779.8 741.1,785.1 741.6,790.2 742.1,795.2 742.6,800.1 743.1,805 743.6,809.7 744.1,814.3 744.6,818.9 745.1,823.3 745.6,827.7 746.1,832 746.6,836.2 747.1,840.3 747.6,844.3 748.1,848.2 748.6,852.1 749.1,855.9 749.6,859.6 750.1,863.2 750.6,866.8 751.5,873.7 752.5,880.5 753.5,887 754.5,893.3 755.5,899.5 756.5,905.6 757.5,911.6 758.5,917.5 759.5,923.4 760.5,929.2 761.5,935 762.5,940.8 763.5,946.5 764.5,952.2 765.5,957.8 766.5,963.3 767.5,968.7 768.5,974 769.5,979.2 770.5,984.2 771.5,989.2 772.5,994 773.5,998.7 774.5,1003.3 775.5,1007.7 776.5,1012 777.5,1016.2 778.5,1020.4 779.4,1024.4 780.4,1028.3 781.4,1032.1 782.4,1035.9 783.4,1039.6 784.4,1043.2 785.4,1046.8 786.4,1050.2 787.4,1053.7 788.4,1057.1 789.4,1060.4 790.4,1063.7 791.4,1067 792.4,1070.2 793.4,1073.4 794.4,1076.6 795.4,1079.7 796.4,1082.7 797.4,1085.8 798.4,1088.8 799.4,1091.7 800.4,1094.7 801.4,1097.6 802.4,1100.4 803.4,1103.2 804.4,1106 805.4,1108.7 806.3,1111.5 807.3,1114.1 808.3,1116.8 809.3,1119.4 810.3,1122 811.3,1124.5 812.3,1127 813.3,1129.5 814.3,1132 815.3,1134.4 816.3,1136.8 817.3,1139.1 818.3,1141.4 819.3,1143.7 820.3,1146 821.3,1148.2 822.3,1150.4 823.3,1152.6 824.3,1154.8 825.3,1156.9 826.3,1159 827.3,1161.1 828.3,1163.1 829.3,1165.1 830.3,1167.1 831.3,1169 832.3,1171 833.3,1172.9 834.2,1174.8 835.2,1176.6 836.2,1178.4 837.2,1180.2 838.2,1182 839.2,1183.8 840.2,1185.5 841.2,1187.2 842.2,1188.9 843.2,1190.5 844.2,1192.2 845.2,1193.8 846.2,1195.4 847.2,1196.9 848.2,1198.5 849.2,1200 850.2,1201.6 851.2,1203.1 852.2,1204.5 853.2,1206 854.2,1207.4 855.2,1208.9 856.2,1210.3 857.2,1211.7 858.2,1213.1 859.2,1214.5 860.2,1215.8 861.1,1217.2 862.1,1218.5 863.1,1219.9 864.1,1221.2 865.1,1222.5 866.1,1223.8 867.1,1225.1 868.1,1226.4 869.1,1227.6 870.1,1228.9 871.1,1230.1 872.1,1231.4 873.1,1232.6 874.1,1233.8 875.1,1235 876.1,1236.2 877.1,1237.4 878.1,1238.6 879.1,1239.7 880.1,1240.9 881.1,1242 882.1,1243.1 883.1,1244.2 884.1,1245.3 885.1,1246.4 886.1,1247.5 887.1,1248.6 888,1249.6 889,1250.6 890,1251.7 891,1252.7 892,1253.7 893,1254.7 894,1255.7 895,1256.7 896,1257.7 897,1258.6 898,1259.6 899,1260.6 900,1261.6 901,1262.5 902,1263.5 903,1264.5 904,1265.5 905,1266.5 906,1267.4 907,1268.4 908,1269.4 909,1270.4 910,1271.5 911,1272.5 912,1273.5 913,1274.6 914,1275.6 915,1276.7 915.9,1277.7 916.9,1278.8 917.9,1279.9 918.9,1280.9 919.9,1282 920.9,1283.1 921.9,1284.2 922.9,1285.2 923.9,1286.3 924.9,1287.4 925.9,1288.4 926.9,1289.5 927.9,1290.5 928.9,1291.5 929.9,1292.6 930.9,1293.6 931.9,1294.6 932.9,1295.6 933.9,1296.6 934.9,1297.5 935.9,1298.5 936.9,1299.4 937.9,1300.4 938.9,1301.3 939.9,1302.2 940.9,1303.1 941.9,1304 942.8,1304.8 943.8,1305.7 944.8,1306.5 945.8,1307.4 946.8,1308.2 947.8,1309 948.8,1309.8 949.8,1310.6 950.8,1311.4 951.8,1312.2 952.8,1313 953.8,1313.7 954.8,1314.5 955.8,1315.3 956.8,1316 957.8,1316.7 958.8,1317.5 959.8,1318.2 960.8,1318.9 961.8,1319.6 962.8,1320.4 963.8,1321.1 964.8,1321.7 965.8,1322.4 966.8,1323.1 967.8,1323.8 968.8,1324.4 969.7,1325.1 970.7,1325.7 971.7,1326.4 972.7,1327 973.7,1327.6 974.7,1328.2 975.7,1328.8 976.7,1329.4 977.7,1329.9 978.7,1330.5 979.7,1331 980.7,1331.6 981.7,1332.1 982.7,1332.6 983.7,1333.1 984.7,1333.6 985.7,1334 986.7,1334.5 987.7,1334.9 988.7,1335.3 989.7,1335.7 990.7,1336.1 991.7,1336.5 992.7,1336.8 993.7,1337.1 994.7,1337.5 995.7,1337.7 996.7,1338 997.6,1338.3 998.6,1338.5 999.6,1338.7 1000.6,1338.9 1001.6,1339 1002.6,1339.2 1003.6,1339.3 1004.6,1339.3 1005.6,1339.4 1006.6,1339.4 1007.6,1339.5 1008.6,1339.4 1009.6,1339.4 1010.6,1339.3 1011.6,1339.3 1012.6,1339.2 1013.6,1339 1014.6,1338.9 1015.6,1338.7 1016.6,1338.5 1017.6,1338.3 1018.6,1338 1019.6,1337.8 1020.6,1337.5 1021.6,1337.2 1022.6,1336.9 1023.6,1336.5 1024.5,1336.2 1025.5,1335.8 1026.5,1335.4 1027.5,1334.9 1028.5,1334.5 1029.5,1334 1030.5,1333.6 1031.5,1333.1 1032.5,1332.5 1033.5,1332 1034.5,1331.5 1035.5,1330.9 1036.5,1330.4 1037.5,1329.8 1038.5,1329.2 1039.5,1328.6 1040.5,1327.9 1041.5,1327.3 1042.5,1326.7 1043.5,1326 1044.5,1325.4 1045.5,1324.7 1046.5,1324 1047.5,1323.4 1048.5,1322.7 1049.5,1322 1050.5,1321.3 1051.5,1320.6 1052.4,1319.9 1053.4,1319.2 1054.4,1318.5 1055.4,1317.8 1056.4,1317.1 1057.4,1316.3 1058.4,1315.6 1059.4,1314.8 1060.4,1314 1061.4,1313.2 1062.4,1312.4 1063.4,1311.6 1064.4,1310.7 1065.4,1309.8 1066.4,1308.9 1067.4,1308 1068.4,1307 1069.4,1306 1070.4,1305 1071.4,1304 1072.4,1302.9 1073.4,1301.8 1074.4,1300.7 1075.4,1299.5 1076.4,1298.3 1077.4,1297.1 1078.4,1295.9 1079.3,1294.7 1080.3,1293.4 1081.3,1292.2 1082.3,1290.9 1083.3,1289.6 1084.3,1288.3 1085.3,1287 1086.3,1285.6 1087.3,1284.3 1088.3,1282.9 1089.3,1281.6 1090.3,1280.2 1091.3,1278.9 1092.3,1277.5 1093.3,1276.1 1094.3,1274.8 1095.3,1273.4 1096.3,1272 1097.3,1270.6 1098.3,1269.3 1099.3,1267.9 1100.3,1266.5 1101.3,1265 1102.3,1263.6 1103.3,1262.1 1104.3,1260.7 1105.3,1259.2 1106.2,1257.6 1107.2,1256.1 1108.2,1254.5 1109.2,1252.8 1110.2,1251.2 1111.2,1249.5 1112.2,1247.7 1113.2,1245.9 1114.2,1244.1 1115.2,1242.3 1116.2,1240.4 1117.2,1238.5 1118.2,1236.5 1119.2,1234.5 1120.2,1232.5 1121.2,1230.4 1122.2,1228.4 1123.2,1226.2 1124.2,1224.1 1125.2,1221.9 1126.2,1219.7 1127.2,1217.5 1128.2,1215.2 1129.2,1212.9 1130.2,1210.6 1131.2,1208.2 1132.2,1205.9 1133.2,1203.5 1134.1,1201 1135.1,1198.6 1136.1,1196.1 1137.1,1193.5 1138.1,1191 1139.1,1188.4 1140.1,1185.8 1141.1,1183.1 1142.1,1180.4 1143.1,1177.7 1144.1,1175 1145.1,1172.2 1146.1,1169.4 1147.1,1166.5 1148.1,1163.6 1149.1,1160.7 1150.1,1157.8 1151.1,1154.8 1152.1,1151.9 1153.1,1148.8 1154.1,1145.8 1155.1,1142.7 1156.1,1139.6 1157.1,1136.5 1158.1,1133.3 1159.1,1130.1 1160.1,1126.9 1161,1123.6 1162,1120.3 1163,1117 1164,1113.7 1165,1110.3 1166,1106.9 1167,1103.5 1168,1100 1169,1096.5 1170,1093 1171,1089.5 1172,1085.9 1173,1082.3 1174,1078.7 1175,1075 1176,1071.3 1177,1067.6 1178,1063.8 1179,1060 1180,1056.2 1181,1052.3 1182,1048.4 1183,1044.5 1184,1040.5 1185,1036.4 1186,1032.3 1187,1028.2 1187.9,1024 1188.9,1019.8 1189.9,1015.6 1190.9,1011.4 1191.9,1007.1 1192.9,1002.9 1193.9,998.6 1194.9,994.4 1195.9,990.2 1196.9,986.1 1197.9,982 1198.9,978 1199.9,974.1 1200.9,970.3 1201.9,966.6 1202.9,963 1203.9,959.6 1204.9,956.4 1205.9,953.4 1206.9,950.6 1207.9,948 1208.9,945.7 1209.9,943.5 1210.9,941.6 1211.9,939.8 1212.9,938.3 1213.9,937 1214.9,935.8 1215.8,934.9 1216.8,934.2 1217.8,933.7 1218.8,933.4 1219.8,933.3 1220.8,933.4 1221.8,933.8 1222.8,934.4 1223.8,935.2 1224.8,936.3 1225.8,937.6 1226.8,939.1 1227.8,940.8 1228.8,942.7 1229.8,944.9 1230.8,947.2 1231.8,949.7 1232.8,952.4 1233.8,955.2 1234.8,958.2 1235.8,961.3 1236.8,964.5 1237.8,967.8 1238.8,971.2 1239.8,974.7 1240.8,978.2 1241.8,981.7 1242.7,985.4 1243.7,989 1244.7,992.7 1245.7,996.4 1246.7,1000.1 1247.7,1003.8 1248.7,1007.5 1249.7,1011.2 1250.7,1014.8 1251.7,1018.3 1252.7,1021.8 1253.7,1025.2 1254.7,1028.5 1255.7,1031.6 1256.7,1034.7 1257.7,1037.7 1258.7,1040.6 1259.7,1043.3 1260.7,1046 1261.7,1048.5 1262.7,1051 1263.7,1053.4 1264.7,1055.6 1265.7,1057.7 1266.7,1059.8 1267.7,1061.7 1268.7,1063.5 1269.7,1065.1 1270.6,1066.7 1271.6,1068.1 1272.6,1069.4 1273.6,1070.6 1274.6,1071.6 1275.6,1072.6 1276.6,1073.4 1277.6,1074.2 1278.6,1074.8 1279.6,1075.4 1280.6,1075.8 1281.6,1076.1 1282.6,1076.2 1283.6,1076.2 1284.6,1076.1 1285.6,1075.9 1286.6,1075.5 1287.6,1074.9 1288.6,1074.3 1289.6,1073.5 1290.6,1072.6 1291.6,1071.6 1292.6,1070.5 1293.6,1069.2 1294.6,1067.9 1295.6,1066.5 1296.6,1064.9 1297.5,1063.3 1298.5,1061.6 1299.5,1059.8 1300.5,1058 1301.5,1056 1302.5,1054 1303.5,1051.9 1304.5,1049.7 1305.5,1047.4 1306.5,1045 1307.5,1042.5 1308.5,1039.9 1309.5,1037.2 1310.5,1034.4 1311.5,1031.5 1312.5,1028.5 1313.5,1025.5 1314.5,1022.5 1315.5,1019.5 1316.5,1016.5 1317.5,1013.6 1318.5,1010.7 1319.5,1007.9 1320.5,1005.2 1321.5,1002.5 1322.5,999.9 1323.5,997.4 1324.4,995 1325.4,992.7 1326.4,990.5 1327.4,988.4 1328.4,986.4 1329.4,984.6 1330.4,982.8 1331.4,981.3 1332.4,979.9 1333.4,978.7 1334.4,977.7 1335.4,976.8 1336.4,976.2 1337.4,975.7 1338.4,975.4 1339.4,975.3 1340.4,975.4 1341.4,975.7 1342.4,976.2 1343.4,976.9 1344.4,977.7 1345.4,978.7 1346.4,979.8 1347.4,981.2 1348.4,982.6 1349.4,984.2 1350.4,986 1351.4,987.9 1352.3,989.9 1353.3,992 1354.3,994.3 1355.3,996.6 1356.3,999 1357.3,1001.5 1358.3,1004.1 1359.3,1006.7 1360.3,1009.4 1361.3,1012.1 1362.3,1014.8 1363.3,1017.6 1364.3,1020.4 1365.3,1023.1 1366.3,1025.9 1367.3,1028.7 1368.3,1031.5 1369.3,1034.3 1370.3,1037.1 1371.3,1039.8 1372.3,1042.6 1373.3,1045.4 1374.3,1048.1 1375.3,1050.9 1376.3,1053.6 1377.3,1056.4 1378.3,1059.1 1379.2,1061.9 1380.2,1064.6 1381.2,1067.3 1382.2,1070 1383.2,1072.7 1384.2,1075.4 1385.2,1078.1 1386.2,1080.7 1387.2,1083.4 1388.2,1086 1389.2,1088.6 1390.2,1091.2 1391.2,1093.7 1392.2,1096.2 1393.2,1098.7 1394.2,1101.2 1395.2,1103.6 1396.2,1106 1397.2,1108.4 1398.2,1110.7 1399.2,1113 1400.2,1115.2 1401.2,1117.4 1402.2,1119.6 1403.2,1121.8 1404.2,1123.9 1405.2,1126 1406.1,1128.1 1407.1,1130.1 1408.1,1132.2 1409.1,1134.2 1410.1,1136.2 1411.1,1138.2 1412.1,1140.2 1413.1,1142.2 1414.1,1144.1 1415.1,1146.1 1416.1,1148 1417.1,1149.9 1418.1,1151.9 1419.1,1153.8 1420.1,1155.7 1421.1,1157.5 1422.1,1159.4 1423.1,1161.3 1424.1,1163.1 1425.1,1164.9 1426.1,1166.7 1427.1,1168.5 1428.1,1170.3 1429.1,1172 1430.1,1173.8 1431.1,1175.5 1432.1,1177.2 1433.1,1178.9 1434,1180.5 1435,1182.1 1436,1183.7 1437,1185.3 1438,1186.9 1439,1188.4 1440,1189.9 1441,1191.4 1442,1192.8 1443,1194.2 1444,1195.6 1445,1196.9 1446,1198.2 1447,1199.5 1448,1200.7 1449,1201.9 1450,1203.1 1451,1204.2 1452,1205.3 1453,1206.4 1454,1207.5 1455,1208.5 1456,1209.4 1457,1210.4 1458,1211.3 1459,1212.2 1460,1213.1 1460.9,1213.9 1461.9,1214.7 1462.9,1215.5 1463.9,1216.2 1464.9,1216.9 1465.9,1217.6 1466.9,1218.3 1467.9,1218.9 1468.9,1219.5 1469.9,1220.1 1470.9,1220.7 1471.9,1221.2 1472.9,1221.7 1473.9,1222.2 1474.9,1222.6 1475.9,1223 1476.9,1223.4 1477.9,1223.8 1478.9,1224.2 1479.9,1224.5 1480.9,1224.8 1481.9,1225 1482.9,1225.3 1483.9,1225.5 1484.9,1225.7 1485.9,1225.9 1486.9,1226 1487.8,1226.1 1488.8,1226.2 1489.8,1226.2 1490.8,1226.3 1491.8,1226.2 1492.8,1226.2 1493.8,1226.1 1494.8,1226.1 1495.8,1225.9 1496.8,1225.8 1497.8,1225.6 1498.8,1225.4 1499.8,1225.1 1500.8,1224.9 1501.8,1224.5 1502.8,1224.2 1503.8,1223.8 1504.8,1223.4 1505.8,1223 1506.8,1222.5 1507.8,1222 1508.8,1221.5 1509.8,1220.9 1510.8,1220.3 1511.8,1219.6 1512.8,1219 1513.8,1218.3 1514.8,1217.5 1515.7,1216.7 1516.7,1215.9 1517.7,1215.1 1518.7,1214.2 1519.7,1213.3 1520.7,1212.3 1521.7,1211.3 1522.7,1210.3 1523.7,1209.3 1524.7,1208.2 1525.7,1207 1526.7,1205.9 1527.7,1204.7 1528.7,1203.5 1529.7,1202.2 1530.7,1200.9 1531.7,1199.6 1532.7,1198.2 1533.7,1196.8 1534.7,1195.4 1535.7,1193.9 1536.7,1192.4 1537.7,1190.8 1538.7,1189.2 1539.7,1187.6 1540.7,1185.9 1541.7,1184.2 1542.6,1182.5 1543.6,1180.7 1544.6,1178.9 1545.6,1177 1546.6,1175.1 1547.6,1173.2 1548.6,1171.2 1549.6,1169.2 1550.6,1167.2 1551.6,1165.1 1552.6,1163 1553.6,1160.9 1554.6,1158.7 1555.6,1156.5 1556.6,1154.2 1557.6,1151.9 1558.6,1149.6 1559.6,1147.2 1560.6,1144.8 1561.6,1142.4 1562.6,1139.9 1563.6,1137.4 1564.6,1134.9 1565.6,1132.3 1566.6,1129.7 1567.6,1127.1 1568.6,1124.5 1569.6,1121.8 1570.5,1119.1 1571.5,1116.3 1572.5,1113.6 1573.5,1110.8 1574.5,1107.9 1575.5,1105.1 1576.5,1102.2 1577.5,1099.2 1578.5,1096.2 1579.5,1093.2 1580.5,1090.1 1581.5,1086.9 1582.5,1083.7 1583.5,1080.5 1584.5,1077.2 1585.5,1073.8 1586.5,1070.5 1587.5,1067.2 1588.5,1064 1589.5,1060.8 1590.5,1057.7 1591.5,1054.7 1592.5,1051.8 1593.5,1049 1594.5,1046.4 1595.5,1043.9 1596.5,1041.5 1597.4,1039.3 1598.4,1037.1 1599.4,1035.1 1600.4,1033.3 1601.4,1031.5 1602.4,1029.8 1603.4,1028.3 1604.4,1026.8 1605.4,1025.5 1606.4,1024.3 1607.4,1023.2 1608.4,1022.2 1609.4,1021.4 1610.4,1020.7 1611.4,1020.2 1612.4,1019.8 1613.4,1019.5 1614.4,1019.3 1615.4,1019.2 1616.4,1019.1 1617.4,1019.1 1618.4,1019.3 1619.4,1019.6 1620.4,1020.2 1621.4,1021 1622.4,1022.1 1623.4,1023.6 1624.3,1025.5 1625.3,1027.8 1626.3,1030.5 1627.3,1033.4 1628.3,1036.4 1629.3,1039.5 1630.3,1042.6 1631.3,1045.6 1632.3,1048.6 1633.3,1051.4 1634.3,1054.1 1635.3,1056.7 1636.3,1059.3 1637.3,1061.8 1638.3,1064.3 1639.3,1066.7 1640.3,1069 1641.3,1071.3 1642.3,1073.6 1643.3,1075.9 1644.3,1078.1 1645.3,1080.3 1646.3,1082.4 1647.3,1084.4 1648.3,1086.4 1649.3,1088.3 1650.3,1090.1 1651.3,1091.9 1652.2,1093.5 1653.2,1095 1654.2,1096.4 1655.2,1097.6 1656.2,1098.6 1657.2,1099.5 1658.2,1100.2 1659.2,1100.6 1660.2,1100.9 1661.2,1100.8 1662.2,1100.6 1663.2,1100.1 1664.2,1099.4 1665.2,1098.5 1666.2,1097.3 1667.2,1095.9 1668.2,1094.3 1669.2,1092.4 1670.2,1090.3 1671.2,1088 1672.2,1085.5 1673.2,1082.8 1674.2,1080 1675.2,1076.9 1676.2,1073.8 1677.2,1070.5 1678.2,1067 1679.1,1063.5 1680.1,1059.8 1681.1,1056 1682.1,1052 1683.1,1047.8 1684.1,1043.4 1685.1,1038.8 1686.1,1033.9 1687.1,1028.8 1688.1,1023.5 1689.1,1018 1690.1,1012.2 1691.1,1006.3 1692.1,1000.3 1693.1,994.1 1694.1,987.9 1695.1,981.6 1696.1,975.3 1697.1,968.9 1698.1,962.5 1699.1,956.1 1700.1,949.5 1701.1,942.8 1702.1,936 1703.1,929 1704.1,921.8 1705.1,914.6 1706,907.4 1707,900.1 1708,892.9 1709,885.7 1710,878.7 1711,871.7 1712,864.8 1713,857.9 1714,851 1715,843.9 1716,836.7 1717,829.4 1718,822 1719,814.6 1720,807.3 1721,800.3 1722,793.5 1723,787.1 1724,781.2 1725,775.7 1726,770.7 1727,766.1 1728,762 1729,758.4 1730,755.2 1731,752.4 1732,750.1 1733,748.2 1733.9,746.7 1734.9,745.8 1735.9,745.2 1736.9,745.2 1737.9,745.6 1738.9,746.5 1739.9,747.8 1740.9,749.5 1741.9,751.7 1742.9,754.3 1743.9,757.3 1744.9,760.7 1745.9,764.6 1746.9,768.8 1747.9,773.4 1748.9,778.4 1749.9,783.8 1750.9,789.5 1751.9,795.6 1752.9,801.9 1753.9,808.4 1754.9,815 1755.9,821.7 1756.9,828.3 1757.9,834.8 1758.9,841.1 1759.9,847.3 1760.8,853.4 1761.8,859.4 1762.8,865.2 1763.8,871 1764.8,876.7 1765.8,882.4 1766.8,888.1 1767.8,893.8 1768.8,899.4 1769.8,905.1 1770.8,910.7 1771.8,916.3 1772.8,921.8 1773.8,927.3 1774.8,932.7 1775.8,938 1776.8,943.3 1777.8,948.5 1778.8,953.5 1779.8,958.4 1780.8,963.3 1781.8,968 1782.8,972.6 1783.8,977.1 1784.8,981.6 1785.8,986 1786.8,990.3 1787.8,994.6 1788.7,998.8 1789.7,1002.9 1790.7,1007.1 1791.7,1011.1 1792.7,1015.2 1793.7,1019.2 1794.7,1023.1 1795.7,1027 1796.7,1030.9 1797.7,1034.7 1798.7,1038.5 1799.7,1042.2 1800.7,1045.8 1801.7,1049.4 1802.7,1052.9 1803.7,1056.3 1804.7,1059.7 1805.7,1063 1806.7,1066.3 1807.7,1069.5 1808.7,1072.6 1809.7,1075.7 1810.7,1078.7 1811.7,1081.7 1812.7,1084.6 1813.7,1087.5 1814.7,1090.3 1815.6,1093 1816.6,1095.7 1817.6,1098.4 1818.6,1101 1819.6,1103.5 1820.6,1106.1 1821.6,1108.6 1822.6,1111.1 1823.6,1113.6 1824.6,1116 1825.6,1118.5 1826.6,1120.9 1827.6,1123.3 1828.6,1125.7 1829.6,1128 1830.6,1130.3 1831.6,1132.6 1832.6,1134.8 1833.6,1137 1834.6,1139.1 1835.6,1141.2 1836.6,1143.2 1837.6,1145.1 1838.6,1147 1839.6,1148.8 1840.6,1150.6 1841.6,1152.2 1842.5,1153.9 1843.5,1155.4 1844.5,1157 1845.5,1158.4 1846.5,1159.9 1847.5,1161.3 1848.5,1162.6 1849.5,1164 1850.5,1165.3 1851.5,1166.5 1852.5,1167.7 1853.5,1168.9 1854.5,1170.1 1855.5,1171.2 1856.5,1172.3 1857.5,1173.3 1858.5,1174.4 1859.5,1175.3 1860.5,1176.3 1861.5,1177.1 1862.5,1177.9 1863.5,1178.5 1864.5,1178.9 1865.5,1179.2 1866.5,1179.1 1867.5,1178.9 1868.5,1178.3 1869.5,1177.5 1870.4,1176.5 1871.4,1175.3 1872.4,1173.8 1873.4,1172.1 1874.4,1170.2 1875.4,1168.1 1876.4,1165.8 1877.4,1163.3 1878.4,1160.6 1879.4,1157.6 1880.4,1154.1 1881.4,1149.9 1882.4,1145 1883.4,1139.3 1884.4,1132.5 1885.4,1124.5 1886.4,1115.2 1886.9,1110.1 1887.4,1104.8 1887.9,1099.2 1888.4,1093.4 1888.9,1087.4 1889.4,1081.3 1889.9,1075.1 1890.4,1068.8 1890.9,1062.5 1891.4,1056.1 1891.9,1049.6 1892.4,1043.1 1892.9,1036.3 1893.4,1029.2 1893.9,1021.7 1894.4,1013.8 1894.9,1005.3 1895.4,996.3 1895.9,986.5 1896.4,976.2 1896.9,965.5 1897.3,954.4 1897.8,943.1 1898.3,931.8 1898.8,920.5 1899.3,909.3 1899.8,898.5 1900.3,888 1900.8,878 1901.3,868.7 1901.8,860 1902.3,851.9 1902.8,844.4 1903.3,837.3 1903.8,830.7 1904.3,824.3 1904.8,818.3 1905.3,812.6 1905.8,807.2 1906.3,802.3 1906.8,797.7 1907.3,793.7 1907.8,790.2 1908.3,787.2 1908.8,784.9 1909.3,783.2 1909.8,782.2 1910.3,782 1910.8,782.5 1911.3,783.7 1911.8,785.6 1912.3,787.9 1912.8,790.8 1913.3,794 1913.8,797.5 1914.3,801.3 1914.8,805.3 1915.3,809.3 1915.8,813.4 1916.3,817.5 1916.8,821.5 1917.3,825.4 1917.8,829.2 1918.3,833 1918.8,836.7 1919.3,840.3 1919.8,843.9 1920.3,847.4 1920.8,850.9 1921.3,854.3 1921.8,857.7 1922.3,861 1922.8,864.2 1923.3,867.4 1923.8,870.5 1924.2,873.6 1924.7,876.5 1925.2,879.4 1925.7,882.2 1926.2,884.9 1927.2,890 1928.2,894.7 1929.2,899 1930.2,902.9 1931.2,906.5 1932.2,909.7 1933.2,912.7 1934.2,915.5 1935.2,918.1 1936.2,920.5 1937.2,922.7 1938.2,924.8 1939.2,926.6 1940.2,928.4 1941.2,929.9 1942.2,931.3 1943.2,932.4 1944.2,933.5 1945.2,934.3 1946.2,935 1947.2,935.4 1948.2,935.7 1949.2,935.8 1950.2,935.7 1951.2,935.4 1952.1,935 1953.1,934.3 1954.1,933.3 1955.1,932.2 1956.1,930.9 1957.1,929.3 1958.1,927.4 1959.1,925.4 1960.1,923.1 1961.1,920.6 1962.1,918 1963.1,915.2 1964.1,912.3 1965.1,909.3 1966.1,906.2 1967.1,903.1 1968.1,900 1969.1,896.9 1970.1,893.8 1971.1,890.7 1972.1,887.6 1973.1,884.5 1974.1,881.4 1975.1,878.2 1976.1,874.9 1977.1,871.6 1978.1,868.2 1979,864.7 1980,861.1 1981,857.5 1982,853.7 1983,849.8 1984,845.9 1985,841.9 1986,837.9 1987,833.8 1988,829.7 1989,825.6 1990,821.4 1991,817.3 1992,813.1 1993,809 1994,804.8 1995,800.7 1996,796.6 1997,792.6 1998,788.6 1999,784.7 2000,780.9 2001,777.1 2002,773.5 2003,769.9 2004,766.4 2005,763.1 2005.9,759.9 2006.9,756.8 2007.9,753.8 2008.9,751 2009.9,748.3 2010.9,745.8 2011.9,743.5 2012.9,741.3 2013.9,739.3 2014.9,737.6 2015.9,736 2016.9,734.7 2017.9,733.7 2018.9,732.9 2019.9,732.4 2020.9,732.1 2021.9,732.2 2022.9,732.6 2023.9,733.2 2024.9,734.1 2025.9,735.3 2026.9,736.7 2027.9,738.3 2028.9,740.2 2029.9,742.3 2030.9,744.6 2031.9,747.1 2032.9,749.8 2033.8,752.6 2034.8,755.6 2035.8,758.8 2036.8,762.1 2037.8,765.5 2038.8,769 2039.8,772.6 2040.8,776.4 2041.8,780.2 2042.8,784 2043.8,788 2044.8,792 2045.8,796 2046.8,800 2047.8,804.1 2048.8,808.1 2049.8,812.1 2050.8,816.1 2051.8,820.1 2052.8,824 2053.8,827.9 2054.8,831.7 2055.8,835.4 2056.8,839 2057.8,842.6 2058.8,846.1 2059.8,849.5 2060.7,852.8 2061.7,856.1 2062.7,859.2 2063.7,862.3 2064.7,865.2 2065.7,868.1 2066.7,870.8 2067.7,873.5 2068.7,876.1 2069.7,878.6 2070.7,881 2071.7,883.3 2072.7,885.6 2073.7,887.8 2074.7,890 2075.7,892.1 2076.7,894.2 2077.7,896.2 2078.7,898.3 2079.7,900.3 2080.7,902.3 2081.7,904.2 2082.7,906.2 2083.7,908.1 2084.7,909.9 2085.7,911.8 2086.7,913.6 2087.7,915.3 2088.6,917.1 2089.6,918.7 2090.6,920.4 2091.6,921.9 2092.6,923.4 2093.6,924.9 2094.6,926.3 2095.6,927.7 2096.6,928.9 2097.6,930.2 2098.6,931.3 2099.6,932.4 2100.6,933.5 2101.6,934.5 2102.6,935.4 2103.6,936.3 2104.6,937.1 2105.6,937.9 2106.6,938.6 2107.6,939.3 2108.6,939.9 2109.6,940.5 2110.6,941 2111.6,941.5 2112.6,942 2113.6,942.4 2114.6,942.8 2115.5,943.1 2116.5,943.4 2117.5,943.6 2118.5,943.9 2119.5,944 2120.5,944.2 2121.5,944.3 2122.5,944.4 2123.5,944.5 2124.5,944.5 2125.5,944.5 2126.5,944.5 2127.5,944.5 2128.5,944.4 2129.5,944.3 2130.5,944.1 2131.5,943.9 2132.5,943.7 2133.5,943.4 2134.5,943 2135.5,942.6 2136.5,942.2 2137.5,941.7 2138.5,941.1 2139.5,940.5 2140.5,939.8 2141.5,939.1 2142.4,938.3 2143.4,937.4 2144.4,936.5 2145.4,935.5 2146.4,934.4 2147.4,933.3 2148.4,932.1 2149.4,930.9 2150.4,929.5 2151.4,928.2 2152.4,926.8 2153.4,925.3 2154.4,923.7 2155.4,922.2 2156.4,920.5 2157.4,918.8 2158.4,917.1 2159.4,915.3 2160.4,913.4 2161.4,911.5 2162.4,909.6 2163.4,907.6 2164.4,905.6 2165.4,903.6 2166.4,901.6 2167.4,899.5 2168.4,897.4 2169.4,895.3 2170.3,893.2 2171.3,891.1 2172.3,888.9 2173.3,886.8 2174.3,884.7 2175.3,882.5 2176.3,880.4 2177.3,878.2 2178.3,875.9 2179.3,873.5 2180.3,871.1 2181.3,868.5 2182.3,865.7 2183.3,862.8 2184.3,859.7 2185.3,856.4 2186.3,852.9 2187.3,849.1 2188.3,845.2 2189.3,841.1 2190.3,836.8 2191.3,832.6 2192.3,828.4 2193.3,824.2 2194.3,820.1 2195.3,816.2 2196.3,812.6 2197.2,809.2 2198.2,806 2199.2,803 2200.2,800 2201.2,796.9 2202.2,793.5 2203.2,789.9 2204.2,785.8 2205.2,781.1 2206.2,775.8 2207.2,769.7 2208.2,763.1 2209.2,756.2 2210.2,749.3 2211.2,742.8 2212.2,736.8 2213.2,731 2214.2,725.2 2215.2,719.3 2216.2,713.3 2217.2,707.6 2218.2,702.4 2219.2,698.3 2220.2,695.1 2221.2,692.8 2222.2,691.2 2223.2,690 2224.1,689.1 2225.1,688.4 2226.1,687.6 2227.1,686.6 2228.1,685.3 2229.1,683.9 2230.1,682.1 2231.1,680.1 2232.1,677.7 2233.1,675 2234.1,672 2235.1,668.5 2236.1,664.5 2237.1,659.8 2238.1,654.4 2239.1,648.4 2240.1,642.1 2241.1,635.7 2242.1,629.4 2243.1,623.2 2244.1,617.3 2245.1,611.7 2246.1,606.4 2247.1,601.6 2248.1,597 2249.1,592.7 2250.1,588.5 2251.1,584.3 2252,580.2 2253,576.1 2254,572 2255,568 2256,564.1 2257,560.4 2258,556.8 2259,553.3 2260,550.1 2261,546.9 2262,543.8 2263,540.9 2264,537.9 2265,535" stroke="#0000ff" stroke-width="10.7" stroke-dasharray="61 41 7 41" stroke-dashoffset="0"/>
<path d="M274.3,1441.2 275.3,1443.1 276.3,1445 277.3,1446.9 278.3,1448.8 279.3,1450.7 280.3,1452.6 281.3,1454.5 282.3,1456.5 283.3,1458.4 284.3,1460.3 285.3,1462.3 286.3,1464.2 287.3,1466 288.2,1467.8 289.2,1469.6 290.2,1471.3 291.2,1473 292.2,1474.6 293.2,1476.2 294.2,1477.9 295.2,1479.4 296.2,1481 297.2,1482.5 298.2,1483.9 299.2,1485.3 300.2,1486.6 301.2,1487.9 302.2,1489 303.2,1490.2 304.2,1491.3 305.2,1492.5 306.2,1493.6 307.2,1494.6 308.2,1495.6 309.2,1496.5 310.2,1497.4 311.2,1498.1 312.2,1498.8 313.2,1499.4 314.2,1499.9 315.2,1500.4 316.1,1500.9 317.1,1501.4 318.1,1501.9 319.1,1502.3 320.1,1502.7 321.1,1503.1 322.1,1503.4 323.1,1503.7 324.1,1503.8 325.1,1504 326.1,1504 327.1,1504 328.1,1504 329.1,1503.9 330.1,1503.8 331.1,1503.8 332.1,1503.7 333.1,1503.5 334.1,1503.4 335.1,1503.3 336.1,1503.1 337.1,1502.9 338.1,1502.8 339.1,1502.6 340.1,1502.4 341.1,1502.2 342.1,1502 343,1501.8 344,1501.6 345,1501.3 346,1501 347,1500.7 348,1500.3 349,1499.8 350,1499.3 351,1498.9 352,1498.4 353,1497.9 354,1497.4 355,1496.9 356,1496.4 357,1495.9 358,1495.5 359,1495 360,1494.5 361,1494.1 362,1493.6 363,1493.1 364,1492.7 365,1492.2 366,1491.7 367,1491.2 368,1490.7 369,1490.2 369.9,1489.8 370.9,1489.3 371.9,1488.8 372.9,1488.3 373.9,1487.8 374.9,1487.3 375.9,1486.8 376.9,1486.3 377.9,1485.8 378.9,1485.2 379.9,1484.7 380.9,1484.2 381.9,1483.7 382.9,1483.2 383.9,1482.6 384.9,1482.1 385.9,1481.6 386.9,1481.1 387.9,1480.6 388.9,1480 389.9,1479.5 390.9,1479 391.9,1478.5 392.9,1478 393.9,1477.5 394.9,1476.9 395.9,1476.4 396.9,1475.9 397.8,1475.4 398.8,1474.9 399.8,1474.4 400.8,1473.8 401.8,1473.3 402.8,1472.8 403.8,1472.3 404.8,1471.8 405.8,1471.4 406.8,1470.9 407.8,1470.4 408.8,1469.9 409.8,1469.4 410.8,1468.9 411.8,1468.5 412.8,1468 413.8,1467.5 414.8,1467 415.8,1466.6 416.8,1466.1 417.8,1465.6 418.8,1465.2 419.8,1464.7 420.8,1464.2 421.8,1463.7 422.8,1463.2 423.8,1462.7 424.7,1462.3 425.7,1461.8 426.7,1461.3 427.7,1460.8 428.7,1460.3 429.7,1459.7 430.7,1459.2 431.7,1458.7 432.7,1458.2 433.7,1457.6 434.7,1457.1 435.7,1456.5 436.7,1456 437.7,1455.5 438.7,1454.9 439.7,1454.4 440.7,1453.8 441.7,1453.2 442.7,1452.7 443.7,1452.1 444.7,1451.5 445.7,1451 446.7,1450.4 447.7,1449.8 448.7,1449.2 449.7,1448.6 450.7,1448 451.6,1447.4 452.6,1446.8 453.6,1446.2 454.6,1445.6 455.6,1445 456.6,1444.3 457.6,1443.7 458.6,1443 459.6,1442.4 460.6,1441.7 461.6,1441.1 462.6,1440.4 463.6,1439.7 464.6,1439 465.6,1438.3 466.6,1437.6 467.6,1436.9 468.6,1436.2 469.6,1435.5 470.6,1434.7 471.6,1434 472.6,1433.3 473.6,1432.5 474.6,1431.8 475.6,1431 476.6,1430.3 477.6,1429.5 478.6,1428.7 479.5,1428 480.5,1427.2 481.5,1426.4 482.5,1425.6 483.5,1424.9 484.5,1424.1 485.5,1423.3 486.5,1422.5 487.5,1421.8 488.5,1421 489.5,1420.2 490.5,1419.4 491.5,1418.6 492.5,1417.8 493.5,1417.1 494.5,1416.3 495.5,1415.5 496.5,1414.7 497.5,1413.9 498.5,1413.1 499.5,1412.3 500.5,1411.5 501.5,1410.7 502.5,1409.9 503.5,1409 504.5,1408.2 505.5,1407.3 506.4,1406.5 507.4,1405.6 508.4,1404.7 509.4,1403.9 510.4,1403 511.4,1402.1 512.4,1401.1 513.4,1400.2 514.4,1399.3 515.4,1398.3 516.4,1397.3 517.4,1396.3 518.4,1395.3 519.4,1394.3 520.4,1393.3 521.4,1392.2 522.4,1391.2 523.4,1390.1 524.4,1389 525.4,1387.9 526.4,1386.8 527.4,1385.6 528.4,1384.5 529.4,1383.3 530.4,1382.2 531.4,1381 532.4,1379.8 533.4,1378.6 534.3,1377.3 535.3,1376.1 536.3,1374.8 537.3,1373.6 538.3,1372.3 539.3,1371 540.3,1369.6 541.3,1368.3 542.3,1366.9 543.3,1365.5 544.3,1364.1 545.3,1362.7 546.3,1361.3 547.3,1359.8 548.3,1358.3 549.3,1356.8 550.3,1355.3 551.3,1353.8 552.3,1352.3 553.3,1350.7 554.3,1349.1 555.3,1347.6 556.3,1346 557.3,1344.3 558.3,1342.7 559.3,1341.1 560.3,1339.4 561.2,1337.7 562.2,1336 563.2,1334.2 564.2,1332.4 565.2,1330.6 566.2,1328.7 567.2,1326.9 568.2,1325 569.2,1323.1 570.2,1321.2 571.2,1319.3 572.2,1317.4 573.2,1315.5 574.2,1313.6 575.2,1311.7 576.2,1309.8 577.2,1307.8 578.2,1305.9 579.2,1304 580.2,1302.1 581.2,1300.1 582.2,1298.1 583.2,1296.2 584.2,1294.1 585.2,1292.1 586.2,1290 587.2,1287.9 588.1,1285.7 589.1,1283.5 590.1,1281.3 591.1,1279 592.1,1276.7 593.1,1274.3 594.1,1271.9 595.1,1269.5 596.1,1267.1 597.1,1264.6 598.1,1262.1 599.1,1259.6 600.1,1257.1 601.1,1254.6 602.1,1252 603.1,1249.5 604.1,1246.9 605.1,1244.4 606.1,1241.8 607.1,1239.2 608.1,1236.7 609.1,1234.1 610.1,1231.4 611.1,1228.7 612.1,1226 613.1,1223.2 614.1,1220.4 615.1,1217.5 616,1214.5 617,1211.3 618,1208.1 619,1204.8 620,1201.3 621,1197.8 622,1194.3 623,1190.7 624,1187.1 625,1183.4 626,1179.8 627,1176.2 628,1172.6 629,1169.1 630,1165.5 631,1161.9 632,1158.3 633,1154.7 634,1151.1 635,1147.4 636,1143.6 637,1139.7 638,1135.8 639,1131.7 640,1127.6 641,1123.3 642,1118.9 642.9,1114.4 643.9,1109.9 644.9,1105.2 645.9,1100.6 646.9,1095.8 647.9,1091.1 648.9,1086.4 649.9,1081.6 650.9,1076.9 651.9,1072.2 652.9,1067.5 653.9,1062.7 654.9,1057.9 655.9,1052.9 656.9,1047.7 657.9,1042.4 658.9,1036.8 659.9,1030.9 660.9,1024.8 661.9,1018.4 662.9,1011.7 663.9,1004.8 664.9,997.8 665.9,990.6 666.9,983.4 667.9,976.1 668.9,968.8 669.8,961.5 670.8,954.2 671.8,946.9 672.8,939.5 673.8,932 674.8,924.2 675.8,916.2 676.8,907.8 677.8,899.1 678.8,889.9 679.8,880 680.8,869.6 681.3,864.2 681.8,858.8 682.3,853.4 682.8,847.9 683.3,842.4 683.8,836.9 684.3,831.4 684.8,826 685.3,820.6 685.8,815.1 686.3,809.7 686.8,804.2 687.3,798.7 687.8,793.2 688.3,787.6 688.8,782.1 689.3,776.4 689.8,770.8 690.3,765.1 690.8,759.3 691.3,753.5 691.8,748 692.3,742.6 692.8,737.3 693.3,732 693.8,726.4 694.3,720.5 694.8,714.1 695.3,707 695.8,699.3 696.3,690.4 696.8,680.1 697.2,668.6 697.7,655.9 698.2,642.2 698.7,627.6 699.2,612.3 699.7,596.3 700.2,579.8 700.7,563 701.2,545.9 701.7,528.6 702.2,511.4 702.7,494.2 703.2,477.3 703.7,460.8 704.2,444.7 704.7,428.5 704.8,425.1 704.9,421.8 705,418.5 705.1,415.1 705.2,411.8 705.3,408.4 705.4,405 705.5,401.6 705.6,398.2 705.7,394.8 705.8,391.4 705.9,387.9 706,384.5 706.1,381.1 706.2,377.6 706.3,374.2 706.4,370.8 706.5,367.4 706.6,363.9 706.7,360.5 706.8,357.1 706.9,353.7 707,350.3 707.1,346.9 707.2,343.5 707.3,340.2 707.4,336.8 707.5,333.4 707.6,330.1 707.7,326.8 707.8,323.5 707.9,320.2 708,317 708.1,313.7 708.2,310.5 708.3,307.3 708.4,304.1 708.5,301 708.6,297.8 708.7,294.7 708.8,291.5 708.9,288.4 709,285.2 709.1,282.1 709.2,279 709.3,275.8 709.4,272.7 709.5,269.6 709.6,266.5 709.7,263.4 709.8,260.3 709.9,257.2 710,254.2 710.1,251.1 710.2,248 710.3,245 710.4,242 710.5,239 710.6,236 710.7,233 710.8,230 710.9,227.1 711,224.2 711.1,221.3 711.2,218.4 711.3,215.5 711.4,212.7 711.5,209.8 711.6,207 711.7,204.3 711.8,201.5 711.9,198.8 712,196.1 712.1,193.4 712.2,190.8 712.3,188.1 712.4,185.5 712.5,182.9 712.6,180.4 712.7,177.8 712.8,175.3 712.9,172.8 713,170.3 713.1,167.8 713.2,165.4 713.3,162.9 713.4,160.5 713.5,158.1 713.6,155.8 713.7,153.4 713.8,151.1 713.9,148.7 714,146.4 714.1,144.2 714.2,141.9 714.3,139.6 714.4,137.4 714.5,135.2 714.6,133 714.7,130.9 714.8,128.7 714.9,134.3 715,139.8 715.1,145.3 715.2,150.7 715.3,156 715.4,161.2 715.5,166.3 715.6,171.3 715.7,176.2 715.8,181 715.9,185.7 716,190.4 716.1,195.1 716.2,199.7 716.3,204.2 716.4,208.7 716.5,213.2 716.6,217.6 716.7,222 716.8,226.3 716.9,230.6 717,234.8 717.1,239 717.2,243.2 717.3,247.3 717.4,251.3 717.5,255.4 717.6,259.3 717.7,263.3 717.8,267.2 717.9,271.1 718,274.9 718.1,278.8 718.2,282.6 718.3,286.4 718.4,290.1 718.5,293.9 718.6,297.6 718.7,301.3 718.8,305 718.9,308.6 719,312.2 719.1,315.8 719.2,319.4 719.3,323 719.4,326.5 719.5,330 719.6,333.5 719.7,336.9 719.8,340.4 719.9,343.8 720,347.2 720.1,350.5 720.2,353.9 720.3,357.2 720.4,360.5 720.5,363.8 720.6,367 720.7,370.2 720.8,373.4 720.9,376.6 721,379.8 721.1,382.9 721.2,386 721.3,389.1 721.4,392.2 721.5,395.2 721.6,398.3 721.7,401.3 721.8,404.3 721.9,407.3 722,410.2 722.1,413.2 722.2,416.1 722.3,419 722.4,422 722.5,424.9 722.6,427.7 722.7,430.6 722.8,433.5 722.9,436.3 723,439.1 723.1,441.9 723.2,444.7 723.3,447.5 723.4,450.3 723.5,453 723.6,455.8 723.7,458.5 723.8,461.2 723.9,463.9 724,466.6 724.1,469.3 724.2,471.9 724.3,474.6 724.3,477.2 724.4,479.9 724.5,482.5 724.6,485.1 725.1,497.9 725.6,510.4 726.1,522.7 726.6,534.7 727.1,546.3 727.6,557.7 728.1,569 728.6,580.3 729.1,591.5 729.6,602.6 730.1,613.6 730.6,624.4 731.1,635 731.6,645.3 732.1,655.5 732.6,665.4 733.1,674.9 733.6,684.2 734.1,693.2 734.6,701.7 735.1,709.9 735.6,717.7 736.1,725.1 736.6,732.2 737.1,738.9 737.6,745.4 738.1,751.6 738.6,757.6 739.1,763.4 739.6,769 740.1,774.5 740.6,779.8 741.1,785.1 741.6,790.2 742.1,795.2 742.6,800.1 743.1,805 743.6,809.7 744.1,814.3 744.6,818.9 745.1,823.3 745.6,827.7 746.1,832 746.6,836.2 747.1,840.3 747.6,844.3 748.1,848.2 748.6,852.1 749.1,855.9 749.6,859.6 750.1,863.2 750.6,866.8 751.5,873.7 752.5,880.5 753.5,887 754.5,893.3 755.5,899.5 756.5,905.6 757.5,911.6 758.5,917.5 759.5,923.4 760.5,929.2 761.5,935 762.5,940.8 763.5,946.5 764.5,952.2 765.5,957.8 766.5,963.3 767.5,968.7 768.5,974 769.5,979.2 770.5,984.2 771.5,989.2 772.5,994 773.5,998.7 774.5,1003.3 775.5,1007.7 776.5,1012 777.5,1016.2 778.5,1020.4 779.4,1024.4 780.4,1028.3 781.4,1032.1 782.4,1035.9 783.4,1039.6 784.4,1043.2 785.4,1046.8 786.4,1050.2 787.4,1053.7 788.4,1057.1 789.4,1060.4 790.4,1063.7 791.4,1067 792.4,1070.2 793.4,1073.4 794.4,1076.6 795.4,1079.7 796.4,1082.7 797.4,1085.8 798.4,1088.8 799.4,1091.7 800.4,1094.7 801.4,1097.6 802.4,1100.4 803.4,1103.2 804.4,1106 805.4,1108.7 806.3,1111.5 807.3,1114.1 808.3,1116.8 809.3,1119.4 810.3,1122 811.3,1124.5 812.3,1127 813.3,1129.5 814.3,1132 815.3,1134.4 816.3,1136.8 817.3,1139.1 818.3,1141.4 819.3,1143.7 820.3,1146 821.3,1148.2 822.3,1150.4 823.3,1152.6 824.3,1154.8 825.3,1156.9 826.3,1159 827.3,1161.1 828.3,1163.1 829.3,1165.1 830.3,1167.1 831.3,1169 832.3,1171 833.3,1172.9 834.2,1174.8 835.2,1176.6 836.2,1178.4 837.2,1180.2 838.2,1182 839.2,1183.8 840.2,1185.5 841.2,1187.2 842.2,1188.9 843.2,1190.5 844.2,1192.2 845.2,1193.8 846.2,1195.4 847.2,1196.9 848.2,1198.5 849.2,1200 850.2,1201.6 851.2,1203.1 852.2,1204.5 853.2,1206 854.2,1207.4 855.2,1208.9 856.2,1210.3 857.2,1211.7 858.2,1213.1 859.2,1214.5 860.2,1215.8 861.1,1217.2 862.1,1218.5 863.1,1219.9 864.1,1221.2 865.1,1222.5 866.1,1223.8 867.1,1225.1 868.1,1226.4 869.1,1227.6 870.1,1228.9 871.1,1230.1 872.1,1231.4 873.1,1232.6 874.1,1233.8 875.1,1235 876.1,1236.2 877.1,1237.4 878.1,1238.6 879.1,1239.7 880.1,1240.9 881.1,1242 882.1,1243.1 883.1,1244.2 884.1,1245.3 885.1,1246.4 886.1,1247.5 887.1,1248.6 888,1249.6 889,1250.6 890,1251.7 891,1252.7 892,1253.7 893,1254.7 894,1255.7 895,1256.7 896,1257.7 897,1258.6 898,1259.6 899,1260.6 900,1261.6 901,1262.5 902,1263.5 903,1264.5 904,1265.5 905,1266.5 906,1267.4 907,1268.4 908,1269.4 909,1270.4 910,1271.5 911,1272.5 912,1273.5 913,1274.6 914,1275.6 915,1276.7 915.9,1277.7 916.9,1278.8 917.9,1279.9 918.9,1280.9 919.9,1282 920.9,1283.1 921.9,1284.2 922.9,1285.2 923.9,1286.3 924.9,1287.4 925.9,1288.4 926.9,1289.5 927.9,1290.5 928.9,1291.5 929.9,1292.6 930.9,1293.6 931.9,1294.6 932.9,1295.6 933.9,1296.6 934.9,1297.5 935.9,1298.5 936.9,1299.4 937.9,1300.4 938.9,1301.3 939.9,1302.2 940.9,1303.1 941.9,1304 942.8,1304.8 943.8,1305.7 944.8,1306.5 945.8,1307.4 946.8,1308.2 947.8,1309 948.8,1309.8 949.8,1310.6 950.8,1311.4 951.8,1312.2 952.8,1313 953.8,1313.7 954.8,1314.5 955.8,1315.3 956.8,1316 957.8,1316.7 958.8,1317.5 959.8,1318.2 960.8,1318.9 961.8,1319.6 962.8,1320.4 963.8,1321.1 964.8,1321.7 965.8,1322.4 966.8,1323.1 967.8,1323.8 968.8,1324.4 969.7,1325.1 970.7,1325.7 971.7,1326.4 972.7,1327 973.7,1327.6 974.7,1328.2 975.7,1328.8 976.7,1329.4 977.7,1329.9 978.7,1330.5 979.7,1331 980.7,1331.6 981.7,1332.1 982.7,1332.6 983.7,1333.1 984.7,1333.6 985.7,1334 986.7,1334.5 987.7,1334.9 988.7,1335.3 989.7,1335.7 990.7,1336.1 991.7,1336.5 992.7,1336.8 993.7,1337.1 994.7,1337.5 995.7,1337.7 996.7,1338 997.6,1338.3 998.6,1338.5 999.6,1338.7 1000.6,1338.9 1001.6,1339 1002.6,1339.2 1003.6,1339.3 1004.6,1339.3 1005.6,1339.4 1006.6,1339.4 1007.6,1339.5 1008.6,1339.4 1009.6,1339.4 1010.6,1339.3 1011.6,1339.3 1012.6,1339.2 1013.6,1339 1014.6,1338.9 1015.6,1338.7 1016.6,1338.5 1017.6,1338.3 1018.6,1338 1019.6,1337.8 1020.6,1337.5 1021.6,1337.2 1022.6,1336.9 1023.6,1336.5 1024.5,1336.2 1025.5,1335.8 1026.5,1335.4 1027.5,1334.9 1028.5,1334.5 1029.5,1334 1030.5,1333.6 1031.5,1333.1 1032.5,1332.5 1033.5,1332 1034.5,1331.5 1035.5,1330.9 1036.5,1330.4 1037.5,1329.8 1038.5,1329.2 1039.5,1328.6 1040.5,1327.9 1041.5,1327.3 1042.5,1326.7 1043.5,1326 1044.5,1325.4 1045.5,1324.7 1046.5,1324 1047.5,1323.4 1048.5,1322.7 1049.5,1322 1050.5,1321.3 1051.5,1320.6 1052.4,1319.9 1053.4,1319.2 1054.4,1318.5 1055.4,1317.8 1056.4,1317.1 1057.4,1316.3 1058.4,1315.6 1059.4,1314.8 1060.4,1314 1061.4,1313.2 1062.4,1312.4 1063.4,1311.6 1064.4,1310.7 1065.4,1309.8 1066.4,1308.9 1067.4,1308 1068.4,1307 1069.4,1306 1070.4,1305 1071.4,1304 1072.4,1302.9 1073.4,1301.8 1074.4,1300.7 1075.4,1299.5 1076.4,1298.3 1077.4,1297.1 1078.4,1295.9 1079.3,1294.7 1080.3,1293.4 1081.3,1292.2 1082.3,1290.9 1083.3,1289.6 1084.3,1288.3 1085.3,1287 1086.3,1285.6 1087.3,1284.3 1088.3,1282.9 1089.3,1281.6 1090.3,1280.2 1091.3,1278.9 1092.3,1277.5 1093.3,1276.1 1094.3,1274.8 1095.3,1273.4 1096.3,1272 1097.3,1270.6 1098.3,1269.3 1099.3,1267.9 1100.3,1266.5 1101.3,1265 1102.3,1263.6 1103.3,1262.1 1104.3,1260.7 1105.3,1259.2 1106.2,1257.6 1107.2,1256.1 1108.2,1254.5 1109.2,1252.8 1110.2,1251.2 1111.2,1249.5 1112.2,1247.7 1113.2,1245.9 1114.2,1244.1 1115.2,1242.3 1116.2,1240.4 1117.2,1238.5 1118.2,1236.5 1119.2,1234.5 1120.2,1232.5 1121.2,1230.4 1122.2,1228.4 1123.2,1226.2 1124.2,1224.1 1125.2,1221.9 1126.2,1219.7 1127.2,1217.5 1128.2,1215.2 1129.2,1212.9 1130.2,1210.6 1131.2,1208.2 1132.2,1205.9 1133.2,1203.5 1134.1,1201 1135.1,1198.6 1136.1,1196.1 1137.1,1193.5 1138.1,1191 1139.1,1188.4 1140.1,1185.8 1141.1,1183.1 1142.1,1180.4 1143.1,1177.7 1144.1,1174.9 1145.1,1172.2 1146.1,1169.4 1147.1,1166.5 1148.1,1163.6 1149.1,1160.7 1150.1,1157.8 1151.1,1154.8 1152.1,1151.8 1153.1,1148.8 1154.1,1145.7 1155.1,1142.6 1156.1,1139.5 1157.1,1136.4 1158.1,1133.2 1159.1,1130 1160.1,1126.7 1161,1123.4 1162,1120.1 1163,1116.8 1164,1113.4 1165,1110 1166,1106.5 1167,1103 1168,1099.5 1169,1095.9 1170,1092.3 1171,1088.6 1172,1084.9 1173,1081.2 1174,1077.4 1175,1073.5 1176,1069.6 1177,1065.7 1178,1061.7 1179,1057.6 1180,1053.5 1181,1049.3 1182,1045 1183,1040.7 1184,1036.3 1185,1031.8 1186,1027.3 1187,1022.6 1187.9,1017.9 1188.9,1013.1 1189.9,1008.3 1190.9,1003.5 1191.9,998.6 1192.9,993.7 1193.9,988.8 1194.9,983.9 1195.9,979 1196.9,974.1 1197.9,969.3 1198.9,964.6 1199.9,960.1 1200.9,955.7 1201.9,951.5 1202.9,947.5 1203.9,943.8 1204.9,940.5 1205.9,937.4 1206.9,934.6 1207.9,932.2 1208.9,930.1 1209.9,928.4 1210.9,927 1211.9,926 1212.9,925.3 1213.9,924.9 1214.9,924.8 1215.8,925 1216.8,925.5 1217.8,926.3 1218.8,927.2 1219.8,928.4 1220.8,929.7 1221.8,931.2 1222.8,932.8 1223.8,934.5 1224.8,936.4 1225.8,938.4 1226.8,940.4 1227.8,942.6 1228.8,944.9 1229.8,947.4 1230.8,949.9 1231.8,952.5 1232.8,955.2 1233.8,958 1234.8,960.9 1235.8,963.9 1236.8,967 1237.8,970.1 1238.8,973.3 1239.8,976.6 1240.8,980 1241.8,983.4 1242.7,986.8 1243.7,990.3 1244.7,993.9 1245.7,997.4 1246.7,1001 1247.7,1004.6 1248.7,1008.2 1249.7,1011.8 1250.7,1015.3 1251.7,1018.8 1252.7,1022.2 1253.7,1025.5 1254.7,1028.7 1255.7,1031.8 1256.7,1034.9 1257.7,1037.8 1258.7,1040.7 1259.7,1043.4 1260.7,1046.1 1261.7,1048.6 1262.7,1051.1 1263.7,1053.4 1264.7,1055.6 1265.7,1057.8 1266.7,1059.8 1267.7,1061.7 1268.7,1063.5 1269.7,1065.1 1270.6,1066.7 1271.6,1068.1 1272.6,1069.4 1273.6,1070.6 1274.6,1071.6 1275.6,1072.6 1276.6,1073.4 1277.6,1074.2 1278.6,1074.8 1279.6,1075.4 1280.6,1075.8 1281.6,1076.1 1282.6,1076.2 1283.6,1076.2 1284.6,1076.1 1285.6,1075.9 1286.6,1075.5 1287.6,1074.9 1288.6,1074.3 1289.6,1073.5 1290.6,1072.6 1291.6,1071.6 1292.6,1070.5 1293.6,1069.2 1294.6,1067.9 1295.6,1066.5 1296.6,1064.9 1297.5,1063.3 1298.5,1061.6 1299.5,1059.8 1300.5,1058 1301.5,1056 1302.5,1054 1303.5,1051.9 1304.5,1049.7 1305.5,1047.4 1306.5,1045 1307.5,1042.5 1308.5,1039.9 1309.5,1037.2 1310.5,1034.4 1311.5,1031.5 1312.5,1028.5 1313.5,1025.5 1314.5,1022.5 1315.5,1019.5 1316.5,1016.5 1317.5,1013.6 1318.5,1010.7 1319.5,1007.9 1320.5,1005.2 1321.5,1002.5 1322.5,999.9 1323.5,997.4 1324.4,995 1325.4,992.7 1326.4,990.5 1327.4,988.4 1328.4,986.4 1329.4,984.6 1330.4,982.8 1331.4,981.3 1332.4,979.9 1333.4,978.7 1334.4,977.7 1335.4,976.8 1336.4,976.2 1337.4,975.7 1338.4,975.4 1339.4,975.3 1340.4,975.4 1341.4,975.7 1342.4,976.2 1343.4,976.9 1344.4,977.7 1345.4,978.7 1346.4,979.8 1347.4,981.2 1348.4,982.6 1349.4,984.2 1350.4,986 1351.4,987.9 1352.3,989.9 1353.3,992 1354.3,994.3 1355.3,996.6 1356.3,999 1357.3,1001.5 1358.3,1004.1 1359.3,1006.7 1360.3,1009.4 1361.3,1012.1 1362.3,1014.8 1363.3,1017.6 1364.3,1020.4 1365.3,1023.1 1366.3,1025.9 1367.3,1028.7 1368.3,1031.5 1369.3,1034.3 1370.3,1037.1 1371.3,1039.8 1372.3,1042.6 1373.3,1045.4 1374.3,1048.1 1375.3,1050.9 1376.3,1053.6 1377.3,1056.4 1378.3,1059.1 1379.2,1061.9 1380.2,1064.6 1381.2,1067.3 1382.2,1070 1383.2,1072.7 1384.2,1075.4 1385.2,1078.1 1386.2,1080.7 1387.2,1083.4 1388.2,1086 1389.2,1088.6 1390.2,1091.2 1391.2,1093.7 1392.2,1096.2 1393.2,1098.7 1394.2,1101.2 1395.2,1103.6 1396.2,1106 1397.2,1108.4 1398.2,1110.7 1399.2,1113 1400.2,1115.2 1401.2,1117.4 1402.2,1119.6 1403.2,1121.8 1404.2,1123.9 1405.2,1126 1406.1,1128.1 1407.1,1130.1 1408.1,1132.2 1409.1,1134.2 1410.1,1136.2 1411.1,1138.2 1412.1,1140.2 1413.1,1142.2 1414.1,1144.1 1415.1,1146.1 1416.1,1148 1417.1,1149.9 1418.1,1151.9 1419.1,1153.8 1420.1,1155.7 1421.1,1157.5 1422.1,1159.4 1423.1,1161.3 1424.1,1163.1 1425.1,1164.9 1426.1,1166.7 1427.1,1168.5 1428.1,1170.3 1429.1,1172 1430.1,1173.8 1431.1,1175.5 1432.1,1177.2 1433.1,1178.9 1434,1180.5 1435,1182.1 1436,1183.7 1437,1185.3 1438,1186.9 1439,1188.4 1440,1189.9 1441,1191.4 1442,1192.8 1443,1194.2 1444,1195.6 1445,1196.9 1446,1198.2 1447,1199.5 1448,1200.7 1449,1201.9 1450,1203.1 1451,1204.2 1452,1205.3 1453,1206.4 1454,1207.5 1455,1208.5 1456,1209.4 1457,1210.4 1458,1211.3 1459,1212.2 1460,1213.1 1460.9,1213.9 1461.9,1214.7 1462.9,1215.5 1463.9,1216.2 1464.9,1216.9 1465.9,1217.6 1466.9,1218.3 1467.9,1218.9 1468.9,1219.5 1469.9,1220.1 1470.9,1220.7 1471.9,1221.2 1472.9,1221.7 1473.9,1222.2 1474.9,1222.6 1475.9,1223 1476.9,1223.4 1477.9,1223.8 1478.9,1224.2 1479.9,1224.5 1480.9,1224.8 1481.9,1225 1482.9,1225.3 1483.9,1225.5 1484.9,1225.7 1485.9,1225.9 1486.9,1226 1487.8,1226.1 1488.8,1226.2 1489.8,1226.2 1490.8,1226.3 1491.8,1226.2 1492.8,1226.2 1493.8,1226.1 1494.8,1226.1 1495.8,1225.9 1496.8,1225.8 1497.8,1225.6 1498.8,1225.4 1499.8,1225.1 1500.8,1224.9 1501.8,1224.5 1502.8,1224.2 1503.8,1223.8 1504.8,1223.4 1505.8,1223 1506.8,1222.5 1507.8,1222 1508.8,1221.5 1509.8,1220.9 1510.8,1220.3 1511.8,1219.6 1512.8,1219 1513.8,1218.3 1514.8,1217.5 1515.7,1216.7 1516.7,1215.9 1517.7,1215.1 1518.7,1214.2 1519.7,1213.3 1520.7,1212.3 1521.7,1211.3 1522.7,1210.3 1523.7,1209.3 1524.7,1208.2 1525.7,1207.1 1526.7,1205.9 1527.7,1204.7 1528.7,1203.5 1529.7,1202.2 1530.7,1200.9 1531.7,1199.6 1532.7,1198.2 1533.7,1196.8 1534.7,1195.4 1535.7,1193.9 1536.7,1192.4 1537.7,1190.8 1538.7,1189.3 1539.7,1187.6 1540.7,1186 1541.7,1184.3 1542.6,1182.5 1543.6,1180.8 1544.6,1178.9 1545.6,1177.1 1546.6,1175.2 1547.6,1173.3 1548.6,1171.3 1549.6,1169.4 1550.6,1167.3 1551.6,1165.3 1552.6,1163.2 1553.6,1161.1 1554.6,1158.9 1555.6,1156.7 1556.6,1154.5 1557.6,1152.2 1558.6,1150 1559.6,1147.6 1560.6,1145.3 1561.6,1142.9 1562.6,1140.5 1563.6,1138.1 1564.6,1135.7 1565.6,1133.2 1566.6,1130.7 1567.6,1128.2 1568.6,1125.6 1569.6,1123 1570.5,1120.5 1571.5,1117.8 1572.5,1115.2 1573.5,1112.6 1574.5,1109.9 1575.5,1107.2 1576.5,1104.5 1577.5,1101.7 1578.5,1099 1579.5,1096.1 1580.5,1093.3 1581.5,1090.4 1582.5,1087.4 1583.5,1084.4 1584.5,1081.3 1585.5,1078.2 1586.5,1075.1 1587.5,1072 1588.5,1068.8 1589.5,1065.7 1590.5,1062.7 1591.5,1059.7 1592.5,1056.7 1593.5,1053.8 1594.5,1051.1 1595.5,1048.4 1596.5,1045.9 1597.4,1043.5 1598.4,1041.1 1599.4,1038.9 1600.4,1036.8 1601.4,1034.8 1602.4,1032.9 1603.4,1031.1 1604.4,1029.4 1605.4,1027.8 1606.4,1026.2 1607.4,1024.8 1608.4,1023.4 1609.4,1022.1 1610.4,1020.9 1611.4,1019.9 1612.4,1018.9 1613.4,1018 1614.4,1017.3 1615.4,1016.6 1616.4,1016 1617.4,1015.4 1618.4,1015 1619.4,1014.7 1620.4,1014.6 1621.4,1014.9 1622.4,1015.5 1623.4,1016.6 1624.3,1018.1 1625.3,1020.2 1626.3,1022.8 1627.3,1025.8 1628.3,1029.2 1629.3,1032.7 1630.3,1036.3 1631.3,1039.9 1632.3,1043.3 1633.3,1046.7 1634.3,1049.9 1635.3,1052.9 1636.3,1055.8 1637.3,1058.6 1638.3,1061.3 1639.3,1063.9 1640.3,1066.4 1641.3,1068.8 1642.3,1071.1 1643.3,1073.4 1644.3,1075.7 1645.3,1077.9 1646.3,1080 1647.3,1082.1 1648.3,1084.1 1649.3,1086.1 1650.3,1088 1651.3,1089.8 1652.2,1091.5 1653.2,1093.1 1654.2,1094.6 1655.2,1096 1656.2,1097.2 1657.2,1098.3 1658.2,1099.2 1659.2,1099.9 1660.2,1100.5 1661.2,1100.8 1662.2,1100.9 1663.2,1100.8 1664.2,1100.4 1665.2,1099.8 1666.2,1099 1667.2,1098 1668.2,1096.8 1669.2,1095.3 1670.2,1093.7 1671.2,1091.8 1672.2,1089.7 1673.2,1087.4 1674.2,1084.9 1675.2,1082.2 1676.2,1079.4 1677.2,1076.4 1678.2,1073.3 1679.1,1070 1680.1,1066.7 1681.1,1063.2 1682.1,1059.6 1683.1,1055.8 1684.1,1051.9 1685.1,1047.8 1686.1,1043.5 1687.1,1039 1688.1,1034.3 1689.1,1029.3 1690.1,1024.1 1691.1,1018.6 1692.1,1013 1693.1,1007.2 1694.1,1001.3 1695.1,995.3 1696.1,989.2 1697.1,983 1698.1,976.8 1699.1,970.5 1700.1,964.2 1701.1,957.9 1702.1,951.4 1703.1,944.8 1704.1,938.1 1705.1,931.3 1706,924.2 1707,917.1 1708,909.9 1709,902.7 1710,895.5 1711,888.4 1712,881.3 1713,874.4 1714,867.5 1715,860.6 1716,853.7 1717,846.7 1718,839.6 1719,832.4 1720,825 1721,817.6 1722,810.2 1723,803 1724,796.1 1725,789.5 1726,783.4 1727,777.7 1728,772.5 1729,767.8 1730,763.5 1731,759.6 1732,756.2 1733,753.3 1733.9,750.8 1734.9,748.7 1735.9,747.1 1736.9,746 1737.9,745.3 1738.9,745.2 1739.9,745.5 1740.9,746.2 1741.9,747.4 1742.9,749.1 1743.9,751.3 1744.9,753.8 1745.9,756.8 1746.9,760.3 1747.9,764.1 1748.9,768.4 1749.9,773.1 1750.9,778.2 1751.9,783.6 1752.9,789.5 1753.9,795.7 1754.9,802.1 1755.9,808.8 1756.9,815.6 1757.9,822.4 1758.9,829.2 1759.9,835.8 1760.8,842.3 1761.8,848.6 1762.8,854.8 1763.8,860.9 1764.8,866.9 1765.8,872.8 1766.8,878.6 1767.8,884.5 1768.8,890.3 1769.8,896.1 1770.8,901.9 1771.8,907.7 1772.8,913.4 1773.8,919.1 1774.8,924.8 1775.8,930.4 1776.8,935.9 1777.8,941.3 1778.8,946.7 1779.8,951.9 1780.8,957 1781.8,962 1782.8,966.8 1783.8,971.6 1784.8,976.3 1785.8,980.9 1786.8,985.4 1787.8,989.8 1788.7,994.2 1789.7,998.5 1790.7,1002.7 1791.7,1007 1792.7,1011.1 1793.7,1015.3 1794.7,1019.4 1795.7,1023.4 1796.7,1027.4 1797.7,1031.4 1798.7,1035.2 1799.7,1039.1 1800.7,1042.8 1801.7,1046.5 1802.7,1050.2 1803.7,1053.8 1804.7,1057.3 1805.7,1060.7 1806.7,1064.1 1807.7,1067.4 1808.7,1070.6 1809.7,1073.8 1810.7,1076.9 1811.7,1079.9 1812.7,1082.9 1813.7,1085.9 1814.7,1088.7 1815.6,1091.6 1816.6,1094.3 1817.6,1097 1818.6,1099.7 1819.6,1102.4 1820.6,1105 1821.6,1107.5 1822.6,1110.1 1823.6,1112.6 1824.6,1115.1 1825.6,1117.5 1826.6,1120 1827.6,1122.4 1828.6,1124.8 1829.6,1127.2 1830.6,1129.6 1831.6,1131.9 1832.6,1134.2 1833.6,1136.4 1834.6,1138.6 1835.6,1140.7 1836.6,1142.7 1837.6,1144.7 1838.6,1146.6 1839.6,1148.4 1840.6,1150.2 1841.6,1151.9 1842.5,1153.5 1843.5,1155.1 1844.5,1156.7 1845.5,1158.2 1846.5,1159.6 1847.5,1161 1848.5,1162.4 1849.5,1163.8 1850.5,1165.1 1851.5,1166.3 1852.5,1167.6 1853.5,1168.8 1854.5,1170 1855.5,1171.1 1856.5,1172.2 1857.5,1173.2 1858.5,1174.3 1859.5,1175.2 1860.5,1176.2 1861.5,1177 1862.5,1177.8 1863.5,1178.5 1864.5,1178.9 1865.5,1179.2 1866.5,1179.1 1867.5,1178.9 1868.5,1178.4 1869.5,1177.6 1870.4,1176.6 1871.4,1175.4 1872.4,1173.9 1873.4,1172.2 1874.4,1170.3 1875.4,1168.2 1876.4,1165.9 1877.4,1163.4 1878.4,1160.7 1879.4,1157.7 1880.4,1154.2 1881.4,1150.1 1882.4,1145.2 1883.4,1139.5 1884.4,1132.7 1885.4,1124.7 1886.4,1115.5 1886.9,1110.4 1887.4,1105 1887.9,1099.5 1888.4,1093.7 1888.9,1087.7 1889.4,1081.6 1889.9,1075.4 1890.4,1069.1 1890.9,1062.7 1891.4,1056.3 1891.9,1049.9 1892.4,1043.3 1892.9,1036.5 1893.4,1029.5 1893.9,1022 1894.4,1014.1 1894.9,1005.6 1895.4,996.6 1895.9,986.8 1896.4,976.5 1896.9,965.8 1897.3,954.7 1897.8,943.5 1898.3,932.1 1898.8,920.8 1899.3,909.6 1899.8,898.7 1900.3,888.2 1900.8,878.3 1901.3,868.9 1901.8,860.2 1902.3,852.1 1902.8,844.5 1903.3,837.5 1903.8,830.8 1904.3,824.5 1904.8,818.4 1905.3,812.7 1905.8,807.3 1906.3,802.3 1906.8,797.8 1907.3,793.8 1907.8,790.2 1908.3,787.3 1908.8,784.9 1909.3,783.2 1909.8,782.3 1910.3,782 1910.8,782.5 1911.3,783.7 1911.8,785.5 1912.3,787.9 1912.8,790.7 1913.3,793.9 1913.8,797.5 1914.3,801.3 1914.8,805.2 1915.3,809.3 1915.8,813.4 1916.3,817.5 1916.8,821.4 1917.3,825.3 1917.8,829.2 1918.3,832.9 1918.8,836.6 1919.3,840.3 1919.8,843.9 1920.3,847.4 1920.8,850.9 1921.3,854.3 1921.8,857.7 1922.3,861 1922.8,864.2 1923.3,867.4 1923.8,870.5 1924.2,873.6 1924.7,876.5 1925.2,879.4 1925.7,882.2 1926.2,884.9 1927.2,890 1928.2,894.7 1929.2,898.9 1930.2,902.9 1931.2,906.4 1932.2,909.7 1933.2,912.7 1934.2,915.5 1935.2,918.1 1936.2,920.5 1937.2,922.7 1938.2,924.8 1939.2,926.6 1940.2,928.3 1941.2,929.9 1942.2,931.3 1943.2,932.4 1944.2,933.5 1945.2,934.3 1946.2,935 1947.2,935.4 1948.2,935.7 1949.2,935.8 1950.2,935.7 1951.2,935.4 1952.1,935 1953.1,934.3 1954.1,933.3 1955.1,932.2 1956.1,930.9 1957.1,929.3 1958.1,927.4 1959.1,925.4 1960.1,923.1 1961.1,920.6 1962.1,918 1963.1,915.2 1964.1,912.3 1965.1,909.3 1966.1,906.2 1967.1,903.1 1968.1,900 1969.1,896.9 1970.1,893.8 1971.1,890.7 1972.1,887.6 1973.1,884.5 1974.1,881.4 1975.1,878.2 1976.1,874.9 1977.1,871.6 1978.1,868.2 1979,864.7 1980,861.1 1981,857.5 1982,853.7 1983,849.8 1984,845.9 1985,841.9 1986,837.9 1987,833.8 1988,829.7 1989,825.6 1990,821.4 1991,817.3 1992,813.1 1993,809 1994,804.8 1995,800.7 1996,796.6 1997,792.6 1998,788.6 1999,784.7 2000,780.9 2001,777.1 2002,773.5 2003,769.9 2004,766.4 2005,763.1 2005.9,759.9 2006.9,756.8 2007.9,753.8 2008.9,751 2009.9,748.3 2010.9,745.8 2011.9,743.5 2012.9,741.3 2013.9,739.3 2014.9,737.6 2015.9,736 2016.9,734.7 2017.9,733.7 2018.9,732.9 2019.9,732.4 2020.9,732.1 2021.9,732.2 2022.9,732.6 2023.9,733.2 2024.9,734.1 2025.9,735.3 2026.9,736.7 2027.9,738.3 2028.9,740.2 2029.9,742.3 2030.9,744.6 2031.9,747.1 2032.9,749.8 2033.8,752.6 2034.8,755.6 2035.8,758.8 2036.8,762.1 2037.8,765.5 2038.8,769 2039.8,772.6 2040.8,776.4 2041.8,780.2 2042.8,784 2043.8,788 2044.8,792 2045.8,796 2046.8,800 2047.8,804.1 2048.8,808.1 2049.8,812.1 2050.8,816.1 2051.8,820.1 2052.8,824 2053.8,827.9 2054.8,831.7 2055.8,835.4 2056.8,839 2057.8,842.6 2058.8,846.1 2059.8,849.5 2060.7,852.8 2061.7,856.1 2062.7,859.2 2063.7,862.3 2064.7,865.2 2065.7,868.1 2066.7,870.8 2067.7,873.5 2068.7,876.1 2069.7,878.6 2070.7,881 2071.7,883.3 2072.7,885.6 2073.7,887.8 2074.7,890 2075.7,892.1 2076.7,894.2 2077.7,896.2 2078.7,898.3 2079.7,900.3 2080.7,902.3 2081.7,904.2 2082.7,906.2 2083.7,908.1 2084.7,909.9 2085.7,911.8 2086.7,913.6 2087.7,915.3 2088.6,917.1 2089.6,918.7 2090.6,920.4 2091.6,921.9 2092.6,923.4 2093.6,924.9 2094.6,926.3 2095.6,927.7 2096.6,928.9 2097.6,930.2 2098.6,931.3 2099.6,932.4 2100.6,933.5 2101.6,934.5 2102.6,935.4 2103.6,936.3 2104.6,937.1 2105.6,937.9 2106.6,938.6 2107.6,939.3 2108.6,939.9 2109.6,940.5 2110.6,941 2111.6,941.5 2112.6,942 2113.6,942.4 2114.6,942.8 2115.5,943.1 2116.5,943.4 2117.5,943.6 2118.5,943.9 2119.5,944 2120.5,944.2 2121.5,944.3 2122.5,944.4 2123.5,944.5 2124.5,944.5 2125.5,944.5 2126.5,944.5 2127.5,944.5 2128.5,944.4 2129.5,944.3 2130.5,944.1 2131.5,943.9 2132.5,943.7 2133.5,943.4 2134.5,943 2135.5,942.6 2136.5,942.2 2137.5,941.7 2138.5,941.1 2139.5,940.5 2140.5,939.8 2141.5,939.1 2142.4,938.3 2143.4,937.4 2144.4,936.5 2145.4,935.5 2146.4,934.4 2147.4,933.3 2148.4,932.1 2149.4,930.9 2150.4,929.5 2151.4,928.2 2152.4,926.8 2153.4,925.3 2154.4,923.7 2155.4,922.2 2156.4,920.5 2157.4,918.8 2158.4,917.1 2159.4,915.3 2160.4,913.4 2161.4,911.5 2162.4,909.6 2163.4,907.6 2164.4,905.6 2165.4,903.6 2166.4,901.6 2167.4,899.5 2168.4,897.4 2169.4,895.3 2170.3,893.2 2171.3,891.1 2172.3,888.9 2173.3,886.8 2174.3,884.7 2175.3,882.5 2176.3,880.4 2177.3,878.2 2178.3,875.9 2179.3,873.5 2180.3,871.1 2181.3,868.5 2182.3,865.7 2183.3,862.8 2184.3,859.7 2185.3,856.4 2186.3,852.9 2187.3,849.1 2188.3,845.2 2189.3,841.1 2190.3,836.8 2191.3,832.6 2192.3,828.4 2193.3,824.2 2194.3,820.1 2195.3,816.2 2196.3,812.6 2197.2,809.2 2198.2,806 2199.2,803 2200.2,800 2201.2,796.9 2202.2,793.5 2203.2,789.9 2204.2,785.8 2205.2,781.1 2206.2,775.8 2207.2,769.7 2208.2,763.1 2209.2,756.2 2210.2,749.3 2211.2,742.8 2212.2,736.8 2213.2,731 2214.2,725.2 2215.2,719.3 2216.2,713.3 2217.2,707.6 2218.2,702.4 2219.2,698.3 2220.2,695.1 2221.2,692.8 2222.2,691.2 2223.2,690 2224.1,689.1 2225.1,688.4 2226.1,687.6 2227.1,686.6 2228.1,685.3 2229.1,683.9 2230.1,682.1 2231.1,680.1 2232.1,677.7 2233.1,675 2234.1,672 2235.1,668.5 2236.1,664.5 2237.1,659.8 2238.1,654.4 2239.1,648.4 2240.1,642.1 2241.1,635.7 2242.1,629.4 2243.1,623.2 2244.1,617.3 2245.1,611.7 2246.1,606.4 2247.1,601.6 2248.1,597 2249.1,592.7 2250.1,588.5 2251.1,584.3 2252,580.2 2253,576.1 2254,572 2255,568 2256,564.1 2257,560.4 2258,556.8 2259,553.3 2260,550.1 2261,546.9 2262,543.8 2263,540.9 2264,537.9 2265,535" stroke="#00ff00" stroke-width="10.7" stroke-dasharray="7.5 62.5" stroke-dashoffset="3.75"/>
</g>
<g stroke="#000" stroke-width="6.1" fill="none" stroke-linecap="butt">
<rect x="274.3" y="61.0" width="1990.7" height="1603.5"/>
<path d="M471.6,1664.5 v-9.5 M670.8,1664.5 v-19.5 M870.1,1664.5 v-9.5 M1069.4,1664.5 v-19.5 M1268.7,1664.5 v-9.5 M1467.9,1664.5 v-19.5 M1667.2,1664.5 v-9.5 M1866.5,1664.5 v-19.5 M2065.7,1664.5 v-9.5 M274.3,1575.4 h10 M274.3,1486.3 h19.6 M274.3,1397.2 h10 M274.3,1308.2 h19.6 M274.3,1219.1 h10 M274.3,1130.0 h19.6 M274.3,1040.9 h10 M274.3,951.8 h19.6 M274.3,862.8 h10 M274.3,773.7 h19.6 M274.3,684.6 h10 M274.3,595.5 h19.6 M274.3,506.4 h10 M274.3,417.3 h19.6 M274.3,328.2 h10 M274.3,239.2 h19.6 M274.3,150.1 h10" stroke-width="5.8"/>
</g>
<g font-size="68.5">
<text transform="translate(670.8 1738.2) scale(1 1.04)" text-anchor="middle">200</text>
<text transform="translate(1069.4 1738.2) scale(1 1.04)" text-anchor="middle">400</text>
<text transform="translate(1467.9 1738.2) scale(1 1.04)" text-anchor="middle">600</text>
<text transform="translate(1866.5 1738.2) scale(1 1.04)" text-anchor="middle">800</text>
<text transform="translate(2265.0 1738.2) scale(1 1.04)" text-anchor="middle">1000</text>
<text transform="translate(253.5 1684.7) scale(0.985 1.04)" text-anchor="end">75</text>
<text transform="translate(253.5 1506.5) scale(0.985 1.04)" text-anchor="end">80</text>
<text transform="translate(253.5 1328.4) scale(0.985 1.04)" text-anchor="end">85</text>
<text transform="translate(253.5 1150.2) scale(0.985 1.04)" text-anchor="end">90</text>
<text transform="translate(253.5 972.0) scale(0.985 1.04)" text-anchor="end">95</text>
<text transform="translate(253.5 793.9) scale(0.985 1.04)" text-anchor="end">100</text>
<text transform="translate(253.5 615.7) scale(0.985 1.04)" text-anchor="end">105</text>
<text transform="translate(253.5 437.5) scale(0.985 1.04)" text-anchor="end">110</text>
<text transform="translate(253.5 259.4) scale(0.985 1.04)" text-anchor="end">115</text>
<text transform="translate(253.5 81.2) scale(0.985 1.04)" text-anchor="end">120</text>
</g>
<text x="1270" y="1863" font-size="84" text-anchor="middle">Frequency/Hz</text>
<text transform="translate(96.8,865.5) rotate(-90)" font-size="84" text-anchor="middle">Sound power level/dB</text>
<rect x="821.2" y="74.1" width="1328.1000000000001" height="634.5" fill="#fff"/>
<g clip-path="url(#ci)" fill="none" stroke-linecap="round" stroke-linejoin="round">
<path d="M814.6,685 815.9,684.2 817.2,683.5 818.5,682.7 819.9,681.9 821.2,681.1 822.5,680.3 823.9,679.5 825.2,678.6 826.5,677.7 827.8,676.8 829.2,675.9 830.5,675 831.8,674 833.2,673.1 834.5,672.1 835.8,671.1 837.1,670.1 838.5,669.1 839.8,668.1 841.1,667.1 842.4,666 843.8,665 845.1,663.9 846.4,662.8 847.8,661.8 849.1,660.7 850.4,659.6 851.7,658.5 853.1,657.4 854.4,656.3 855.7,655.2 857.1,654.1 858.4,653 859.7,651.9 861,650.7 862.4,649.6 863.7,648.5 865,647.4 866.4,646.3 867.7,645.2 869,644 870.3,642.9 871.7,641.8 873,640.6 874.3,639.5 875.7,638.3 877,637.1 878.3,635.9 879.6,634.7 881,633.5 882.3,632.3 883.6,631 884.9,629.7 886.3,628.4 887.6,627.1 888.9,625.7 890.3,624.4 891.6,623 892.9,621.5 894.2,620.1 895.6,618.6 896.9,617.1 898.2,615.6 899.6,614.1 900.9,612.5 902.2,610.9 903.5,609.3 904.9,607.7 906.2,606 907.5,604.3 908.9,602.6 910.2,600.9 911.5,599.2 912.8,597.4 914.2,595.7 915.5,593.9 916.8,592.1 918.2,590.2 919.5,588.4 920.8,586.5 922.1,584.7 923.5,582.8 924.8,580.8 926.1,578.9 927.4,576.9 928.8,575 930.1,573 931.4,570.9 932.8,568.9 934.1,566.8 935.4,564.8 936.7,562.7 938.1,560.5 939.4,558.4 940.7,556.2 942.1,554.1 943.4,551.9 944.7,549.6 946,547.4 947.4,545.1 948.7,542.9 950,540.6 951.4,538.2 952.7,535.9 954,533.5 955.3,531.2 956.7,528.8 958,526.3 959.3,523.9 960.7,521.4 962,519 963.3,516.5 964.6,513.9 966,511.4 967.3,508.9 968.6,506.3 969.9,503.7 971.3,501.1 972.6,498.5 973.9,495.8 975.3,493.1 976.6,490.5 977.9,487.8 979.2,485 980.6,482.3 981.9,479.5 983.2,476.8 984.6,474 985.9,471.1 987.2,468.3 988.5,465.5 989.9,462.6 991.2,459.7 992.5,456.8 993.9,453.8 995.2,450.9 996.5,447.9 997.8,444.9 999.2,441.9 1000.5,438.9 1001.8,435.8 1003.1,432.8 1004.5,429.7 1005.8,426.5 1007.1,423.4 1008.5,420.2 1009.8,417 1011.1,413.8 1012.4,410.5 1013.8,407.2 1015.1,403.9 1016.4,400.6 1017.8,397.2 1019.1,393.8 1020.4,390.4 1021.7,386.9 1023.1,383.5 1024.4,380 1025.7,376.6 1027.1,373.1 1028.4,369.7 1029.7,366.3 1031,362.9 1032.4,359.5 1033.7,356.1 1035,352.8 1036.4,349.5 1037.7,346.3 1039,343.1 1040.3,340 1041.7,337 1043,334.1 1044.3,331.2 1045.6,328.5 1047,325.9 1048.3,323.5 1049.6,321.2 1051,319 1052.3,316.9 1053.6,315 1054.9,313.3 1056.3,311.6 1057.6,310.1 1058.9,308.8 1060.3,307.6 1061.6,306.5 1062.9,305.5 1064.2,304.6 1065.6,303.9 1066.9,303.4 1068.2,302.9 1069.6,302.6 1070.9,302.5 1072.2,302.5 1073.5,302.6 1074.9,302.9 1076.2,303.3 1077.5,303.9 1078.9,304.6 1080.2,305.5 1081.5,306.5 1082.8,307.7 1084.2,309 1085.5,310.4 1086.8,312 1088.1,313.8 1089.5,315.6 1090.8,317.6 1092.1,319.7 1093.5,321.9 1094.8,324.2 1096.1,326.6 1097.4,329 1098.8,331.6 1100.1,334.2 1101.4,336.9 1102.8,339.6 1104.1,342.4 1105.4,345.2 1106.7,348.1 1108.1,351 1109.4,353.9 1110.7,356.8 1112.1,359.8 1113.4,362.8 1114.7,365.8 1116,368.8 1117.4,371.9 1118.7,374.9 1120,377.9 1121.4,380.9 1122.7,383.8 1124,386.7 1125.3,389.6 1126.7,392.4 1128,395.1 1129.3,397.8 1130.6,400.5 1132,403 1133.3,405.5 1134.6,407.9 1136,410.3 1137.3,412.6 1138.6,414.8 1139.9,417 1141.3,419 1142.6,421.1 1143.9,423 1145.3,424.9 1146.6,426.7 1147.9,428.5 1149.2,430.1 1150.6,431.7 1151.9,433.3 1153.2,434.7 1154.6,436.1 1155.9,437.3 1157.2,438.5 1158.5,439.7 1159.9,440.7 1161.2,441.7 1162.5,442.6 1163.8,443.4 1165.2,444.2 1166.5,444.8 1167.8,445.5 1169.2,446 1170.5,446.5 1171.8,446.9 1173.1,447.2 1174.5,447.5 1175.8,447.6 1177.1,447.7 1178.5,447.7 1179.8,447.6 1181.1,447.4 1182.4,447.1 1183.8,446.7 1185.1,446.2 1186.4,445.7 1187.8,445.1 1189.1,444.4 1190.4,443.6 1191.7,442.7 1193.1,441.8 1194.4,440.8 1195.7,439.8 1197.1,438.6 1198.4,437.4 1199.7,436.2 1201,434.9 1202.4,433.5 1203.7,432.1 1205,430.6 1206.3,429.1 1207.7,427.6 1209,425.9 1210.3,424.2 1211.7,422.5 1213,420.7 1214.3,418.8 1215.6,416.9 1217,414.9 1218.3,412.9 1219.6,410.7 1221,408.5 1222.3,406.3 1223.6,404 1224.9,401.6 1226.3,399.2 1227.6,396.8 1228.9,394.3 1230.3,391.9 1231.6,389.5 1232.9,387 1234.2,384.7 1235.6,382.3 1236.9,380 1238.2,377.7 1239.6,375.5 1240.9,373.3 1242.2,371.2 1243.5,369.1 1244.9,367.1 1246.2,365.2 1247.5,363.3 1248.8,361.5 1250.2,359.7 1251.5,358 1252.8,356.4 1254.2,354.9 1255.5,353.5 1256.8,352.2 1258.1,350.9 1259.5,349.8 1260.8,348.8 1262.1,347.9 1263.5,347.2 1264.8,346.5 1266.1,346 1267.4,345.6 1268.8,345.4 1270.1,345.2 1271.4,345.2 1272.8,345.3 1274.1,345.5 1275.4,345.8 1276.7,346.3 1278.1,346.9 1279.4,347.6 1280.7,348.4 1282.1,349.3 1283.4,350.3 1284.7,351.4 1286,352.6 1287.4,353.9 1288.7,355.3 1290,356.8 1291.3,358.3 1292.7,360 1294,361.7 1295.3,363.5 1296.7,365.3 1298,367.3 1299.3,369.2 1300.6,371.2 1302,373.3 1303.3,375.4 1304.6,377.6 1306,379.7 1307.3,381.9 1308.6,384.2 1309.9,386.4 1311.3,388.7 1312.6,390.9 1313.9,393.2 1315.3,395.4 1316.6,397.7 1317.9,400 1319.2,402.2 1320.6,404.5 1321.9,406.7 1323.2,409 1324.5,411.3 1325.9,413.5 1327.2,415.8 1328.5,418 1329.9,420.2 1331.2,422.5 1332.5,424.7 1333.8,427 1335.2,429.2 1336.5,431.4 1337.8,433.6 1339.2,435.8 1340.5,438.1 1341.8,440.3 1343.1,442.5 1344.5,444.7 1345.8,446.8 1347.1,449 1348.5,451.2 1349.8,453.3 1351.1,455.5 1352.4,457.6 1353.8,459.7 1355.1,461.8 1356.4,463.9 1357.8,466 1359.1,468 1360.4,470 1361.7,472 1363.1,474 1364.4,476 1365.7,477.9 1367,479.9 1368.4,481.7 1369.7,483.6 1371,485.5 1372.4,487.3 1373.7,489.1 1375,490.9 1376.3,492.6 1377.7,494.4 1379,496.1 1380.3,497.8 1381.7,499.5 1383,501.2 1384.3,502.9 1385.6,504.5 1387,506.2 1388.3,507.8 1389.6,509.4 1391,511 1392.3,512.6 1393.6,514.2 1394.9,515.8 1396.3,517.4 1397.6,519 1398.9,520.6 1400.3,522.2 1401.6,523.7 1402.9,525.3 1404.2,526.8 1405.6,528.4 1406.9,529.9 1408.2,531.4 1409.5,532.9 1410.9,534.4 1412.2,535.9 1413.5,537.4 1414.9,538.9 1416.2,540.3 1417.5,541.8 1418.8,543.2 1420.2,544.7 1421.5,546.1 1422.8,547.5 1424.2,548.9 1425.5,550.2 1426.8,551.6 1428.1,552.9 1429.5,554.3 1430.8,555.6 1432.1,556.9 1433.5,558.2 1434.8,559.4 1436.1,560.7 1437.4,561.9 1438.8,563.1 1440.1,564.3 1441.4,565.5 1442.8,566.7 1444.1,567.8 1445.4,568.9 1446.7,570 1448.1,571.1 1449.4,572.1 1450.7,573.1 1452,574.1 1453.4,575.1 1454.7,576.1 1456,577 1457.4,577.9 1458.7,578.8 1460,579.7 1461.3,580.6 1462.7,581.4 1464,582.2 1465.3,583 1466.7,583.8 1468,584.5 1469.3,585.3 1470.6,586 1472,586.7 1473.3,587.4 1474.6,588 1476,588.7 1477.3,589.3 1478.6,589.9 1479.9,590.5 1481.3,591 1482.6,591.6 1483.9,592.1 1485.2,592.6 1486.6,593.1 1487.9,593.6 1489.2,594.1 1490.6,594.5 1491.9,594.9 1493.2,595.4 1494.5,595.7 1495.9,596.1 1497.2,596.5 1498.5,596.8 1499.9,597.1 1501.2,597.5 1502.5,597.7 1503.8,598 1505.2,598.3 1506.5,598.5 1507.8,598.7 1509.2,599 1510.5,599.1 1511.8,599.3 1513.1,599.5 1514.5,599.6 1515.8,599.7 1517.1,599.8 1518.5,599.9 1519.8,600 1521.1,600 1522.4,600.1 1523.8,600.1 1525.1,600.1 1526.4,600.1 1527.7,600 1529.1,599.9 1530.4,599.9 1531.7,599.8 1533.1,599.6 1534.4,599.5 1535.7,599.3 1537,599.1 1538.4,598.9 1539.7,598.7 1541,598.5 1542.4,598.2 1543.7,597.9 1545,597.6 1546.3,597.3 1547.7,596.9 1549,596.6 1550.3,596.2 1551.7,595.8 1553,595.3 1554.3,594.9 1555.6,594.4 1557,593.9 1558.3,593.4 1559.6,592.8 1561,592.2 1562.3,591.7 1563.6,591 1564.9,590.4 1566.3,589.7 1567.6,589.1 1568.9,588.4 1570.2,587.6 1571.6,586.9 1572.9,586.1 1574.2,585.3 1575.6,584.5 1576.9,583.7 1578.2,582.8 1579.5,581.9 1580.9,581 1582.2,580.1 1583.5,579.2 1584.9,578.2 1586.2,577.2 1587.5,576.2 1588.8,575.1 1590.2,574.1 1591.5,573 1592.8,571.9 1594.2,570.8 1595.5,569.6 1596.8,568.4 1598.1,567.2 1599.5,566 1600.8,564.7 1602.1,563.5 1603.5,562.2 1604.8,560.8 1606.1,559.5 1607.4,558.1 1608.8,556.7 1610.1,555.3 1611.4,553.9 1612.7,552.4 1614.1,550.9 1615.4,549.4 1616.7,547.8 1618.1,546.3 1619.4,544.7 1620.7,543.1 1622,541.5 1623.4,539.8 1624.7,538.1 1626,536.4 1627.4,534.7 1628.7,533 1630,531.2 1631.3,529.4 1632.7,527.6 1634,525.8 1635.3,524 1636.7,522.1 1638,520.2 1639.3,518.3 1640.6,516.4 1642,514.5 1643.3,512.5 1644.6,510.5 1646,508.5 1647.3,506.5 1648.6,504.5 1649.9,502.5 1651.3,500.4 1652.6,498.4 1653.9,496.3 1655.2,494.2 1656.6,492.1 1657.9,490 1659.2,487.8 1660.6,485.7 1661.9,483.5 1663.2,481.3 1664.5,479.2 1665.9,476.9 1667.2,474.7 1668.5,472.5 1669.9,470.2 1671.2,467.9 1672.5,465.6 1673.8,463.2 1675.2,460.8 1676.5,458.4 1677.8,456 1679.2,453.5 1680.5,451 1681.8,448.4 1683.1,445.9 1684.5,443.3 1685.8,440.8 1687.1,438.3 1688.4,435.8 1689.8,433.3 1691.1,430.8 1692.4,428.4 1693.8,426.1 1695.1,423.8 1696.4,421.6 1697.7,419.4 1699.1,417.4 1700.4,415.4 1701.7,413.4 1703.1,411.6 1704.4,409.8 1705.7,408.1 1707,406.5 1708.4,404.9 1709.7,403.4 1711,401.9 1712.4,400.6 1713.7,399.3 1715,398 1716.3,396.9 1717.7,395.8 1719,394.8 1720.3,393.9 1721.7,393.1 1723,392.3 1724.3,391.7 1725.6,391.2 1727,390.7 1728.3,390.4 1729.6,390.1 1730.9,389.9 1732.3,389.8 1733.6,389.7 1734.9,389.7 1736.3,389.7 1737.6,389.8 1738.9,390 1740.2,390.3 1741.6,390.9 1742.9,391.6 1744.2,392.5 1745.6,393.7 1746.9,395.1 1748.2,396.9 1749.5,398.9 1750.9,401.1 1752.2,403.5 1753.5,406 1754.9,408.5 1756.2,411.1 1757.5,413.6 1758.8,416.1 1760.2,418.5 1761.5,420.8 1762.8,423.1 1764.2,425.3 1765.5,427.4 1766.8,429.5 1768.1,431.6 1769.5,433.6 1770.8,435.6 1772.1,437.5 1773.4,439.4 1774.8,441.3 1776.1,443.1 1777.4,444.9 1778.8,446.7 1780.1,448.5 1781.4,450.3 1782.7,452 1784.1,453.7 1785.4,455.3 1786.7,456.9 1788.1,458.5 1789.4,460 1790.7,461.4 1792,462.8 1793.4,464.2 1794.7,465.4 1796,466.6 1797.4,467.7 1798.7,468.7 1800,469.7 1801.3,470.5 1802.7,471.2 1804,471.7 1805.3,472.2 1806.7,472.5 1808,472.7 1809.3,472.7 1810.6,472.6 1812,472.3 1813.3,471.9 1814.6,471.4 1815.9,470.7 1817.3,469.8 1818.6,468.8 1819.9,467.7 1821.3,466.4 1822.6,465 1823.9,463.5 1825.2,461.8 1826.6,459.9 1827.9,458 1829.2,455.9 1830.6,453.7 1831.9,451.5 1833.2,449.1 1834.5,446.6 1835.9,444 1837.2,441.4 1838.5,438.7 1839.9,435.9 1841.2,433 1842.5,430 1843.8,427 1845.2,423.8 1846.5,420.5 1847.8,417.1 1849.1,413.5 1850.5,409.8 1851.8,406 1853.1,402 1854.5,397.9 1855.8,393.6 1857.1,389.2 1858.4,384.6 1859.8,380 1861.1,375.2 1862.4,370.4 1863.8,365.5 1865.1,360.5 1866.4,355.5 1867.7,350.4 1869.1,345.4 1870.4,340.3 1871.7,335.2 1873.1,330 1874.4,324.8 1875.7,319.5 1877,314.2 1878.4,308.7 1879.7,303.2 1881,297.6 1882.4,291.8 1883.7,286 1885,280.2 1886.3,274.3 1887.7,268.5 1889,262.6 1890.3,256.8 1891.6,251.1 1893,245.5 1894.3,239.8 1895.6,234.2 1897,228.7 1898.3,223 1899.6,217.4 1900.9,211.7 1902.3,205.8 1903.6,199.9 1904.9,193.9 1906.3,187.9 1907.6,181.9 1908.9,176 1910.2,170.1 1911.6,164.5 1912.9,159 1914.2,153.9 1915.6,149 1916.9,144.4 1918.2,140.2 1919.5,136.2 1920.9,132.5 1922.2,129.1 1923.5,126 1924.9,123.2 1926.2,120.7 1927.5,118.5 1928.8,116.6 1930.2,114.9 1931.5,113.6 1932.8,112.6 1934.1,111.9 1935.5,111.4 1936.8,111.3 1938.1,111.5 1939.5,112 1940.8,112.9 1942.1,114 1943.4,115.4 1944.8,117.1 1946.1,119.1 1947.4,121.3 1948.8,123.9 1950.1,126.7 1951.4,129.8 1952.7,133.2 1954.1,136.8 1955.4,140.7 1956.7,144.9 1958.1,149.3 1959.4,153.9 1960.7,158.8 1962,163.9 1963.4,169.2 1964.7,174.6 1966,180.1 1967.4,185.7 1968.7,191.2 1970,196.7 1971.3,202.1 1972.7,207.4 1974,212.6 1975.3,217.7 1976.6,222.7 1978,227.7 1979.3,232.5 1980.6,237.4 1982,242.2 1983.3,246.9 1984.6,251.7 1985.9,256.4 1987.3,261.1 1988.6,265.9 1989.9,270.6 1991.3,275.3 1992.6,280 1993.9,284.6 1995.2,289.2 1996.6,293.8 1997.9,298.4 1999.2,302.9 2000.6,307.3 2001.9,311.7 2003.2,316 2004.5,320.3 2005.9,324.5 2007.2,328.6 2008.5,332.6 2009.8,336.5 2011.2,340.4 2012.5,344.2 2013.8,348 2015.2,351.7 2016.5,355.4 2017.8,359 2019.1,362.5 2020.5,366.1 2021.8,369.6 2023.1,373 2024.5,376.5 2025.8,379.9 2027.1,383.2 2028.4,386.6 2029.8,389.9 2031.1,393.2 2032.4,396.5 2033.8,399.7 2035.1,402.9 2036.4,406 2037.7,409.2 2039.1,412.2 2040.4,415.3 2041.7,418.3 2043.1,421.2 2044.4,424.1 2045.7,427 2047,429.8 2048.4,432.6 2049.7,435.3 2051,438 2052.3,440.6 2053.7,443.2 2055,445.8 2056.3,448.3 2057.7,450.8 2059,453.3 2060.3,455.7 2061.6,458.1 2063,460.4 2064.3,462.7 2065.6,464.9 2067,467.2 2068.3,469.4 2069.6,471.5 2070.9,473.7 2072.3,475.8 2073.6,477.9 2074.9,480 2076.3,482 2077.6,484.1 2078.9,486.1 2080.2,488.1 2081.6,490.1 2082.9,492.1 2084.2,494.1 2085.6,496.1 2086.9,498 2088.2,500 2089.5,501.9 2090.9,503.8 2092.2,505.6 2093.5,507.4 2094.8,509.2 2096.2,511 2097.5,512.7 2098.8,514.4 2100.2,516 2101.5,517.6 2102.8,519.1 2104.1,520.6 2105.5,522.1 2106.8,523.5 2108.1,524.9 2109.5,526.2 2110.8,527.5 2112.1,528.8 2113.4,530 2114.8,531.2 2116.1,532.4 2117.4,533.6 2118.8,534.7 2120.1,535.8 2121.4,536.9 2122.7,537.9 2124.1,539 2125.4,540 2126.7,541 2128.1,541.9 2129.4,542.9 2130.7,543.8 2132,544.7 2133.4,545.6 2134.7,546.4 2136,547.3 2137.3,548.1 2138.7,548.8 2140,549.6 2141.3,550.3 2142.7,550.9 2144,551.4 2145.3,551.8 2146.6,552.1 2148,552.3 2149.3,552.2 2150.6,552 2152,551.7 2153.3,551.1 2154.6,550.5 2155.9,549.6" stroke="#000" stroke-width="10"/>
<path d="M814.6,685 815.9,684.2 817.2,683.5 818.5,682.7 819.9,681.9 821.2,681.1 822.5,680.3 823.9,679.5 825.2,678.6 826.5,677.7 827.8,676.8 829.2,675.9 830.5,675 831.8,674 833.2,673.1 834.5,672.1 835.8,671.1 837.1,670.1 838.5,669.1 839.8,668.1 841.1,667.1 842.4,666 843.8,665 845.1,663.9 846.4,662.8 847.8,661.8 849.1,660.7 850.4,659.6 851.7,658.5 853.1,657.4 854.4,656.3 855.7,655.2 857.1,654.1 858.4,653 859.7,651.9 861,650.7 862.4,649.6 863.7,648.5 865,647.4 866.4,646.3 867.7,645.2 869,644 870.3,642.9 871.7,641.8 873,640.6 874.3,639.5 875.7,638.3 877,637.1 878.3,635.9 879.6,634.7 881,633.5 882.3,632.3 883.6,631 884.9,629.7 886.3,628.4 887.6,627.1 888.9,625.8 890.3,624.5 891.6,623.2 892.9,621.9 894.2,620.5 895.6,619.1 896.9,617.7 898.2,616.3 899.6,614.8 900.9,613.4 902.2,611.9 903.5,610.3 904.9,608.8 906.2,607.2 907.5,605.6 908.9,604 910.2,602.4 911.5,600.8 912.8,599.1 914.2,597.4 915.5,595.7 916.8,594 918.2,592.2 919.5,590.5 920.8,588.7 922.1,586.9 923.5,585.1 924.8,583.3 926.1,581.4 927.4,579.5 928.8,577.6 930.1,575.7 931.4,573.8 932.8,571.8 934.1,569.9 935.4,567.9 936.7,565.9 938.1,563.8 939.4,561.8 940.7,559.7 942.1,557.6 943.4,555.5 944.7,553.4 946,551.2 947.4,549.1 948.7,546.9 950,544.6 951.4,542.4 952.7,540.2 954,537.9 955.3,535.6 956.7,533.3 958,530.9 959.3,528.6 960.7,526.2 962,523.8 963.3,521.4 964.6,519 966,516.5 967.3,514.1 968.6,511.6 969.9,509.1 971.3,506.6 972.6,504.2 973.9,501.7 975.3,499.2 976.6,496.8 977.9,494.2 979.2,491.7 980.6,489.2 981.9,486.6 983.2,484 984.6,481.4 985.9,478.8 987.2,476.2 988.5,473.5 989.9,470.8 991.2,468.1 992.5,465.4 993.9,462.7 995.2,459.9 996.5,457.1 997.8,454.3 999.2,451.5 1000.5,448.7 1001.8,445.8 1003.1,442.9 1004.5,440 1005.8,437.1 1007.1,434.1 1008.5,431.1 1009.8,428.1 1011.1,425.1 1012.4,422 1013.8,418.9 1015.1,415.8 1016.4,412.7 1017.8,409.5 1019.1,406.3 1020.4,403 1021.7,399.8 1023.1,396.5 1024.4,393.3 1025.7,390 1027.1,386.8 1028.4,383.5 1029.7,380.3 1031,377.1 1032.4,373.9 1033.7,370.7 1035,367.6 1036.4,364.5 1037.7,361.5 1039,358.5 1040.3,355.6 1041.7,352.8 1043,350 1044.3,347.4 1045.6,344.9 1047,342.5 1048.3,340.2 1049.6,338.1 1051,336.1 1052.3,334.2 1053.6,332.5 1054.9,331 1056.3,329.5 1057.6,328.2 1058.9,327.1 1060.3,326 1061.6,325.1 1062.9,324.3 1064.2,323.7 1065.6,323.2 1066.9,322.8 1068.2,322.6 1069.6,322.4 1070.9,322.3 1072.2,322.2 1073.5,322.2 1074.9,322.3 1076.2,322.6 1077.5,323 1078.9,323.6 1080.2,324.3 1081.5,325.2 1082.8,326.2 1084.2,327.4 1085.5,328.7 1086.8,330.1 1088.1,331.7 1089.5,333.4 1090.8,335.3 1092.1,337.2 1093.5,339.3 1094.8,341.4 1096.1,343.6 1097.4,346 1098.8,348.4 1100.1,350.8 1101.4,353.4 1102.8,356 1104.1,358.6 1105.4,361.3 1106.7,364 1108.1,366.7 1109.4,369.5 1110.7,372.3 1112.1,375.2 1113.4,378 1114.7,380.9 1116,383.8 1117.4,386.6 1118.7,389.5 1120,392.4 1121.4,395.2 1122.7,398.1 1124,400.9 1125.3,403.6 1126.7,406.4 1128,409 1129.3,411.6 1130.6,414.1 1132,416.6 1133.3,419 1134.6,421.3 1136,423.5 1137.3,425.7 1138.6,427.8 1139.9,429.9 1141.3,431.9 1142.6,433.8 1143.9,435.7 1145.3,437.4 1146.6,439.2 1147.9,440.8 1149.2,442.4 1150.6,443.9 1151.9,445.3 1153.2,446.6 1154.6,447.9 1155.9,449.1 1157.2,450.2 1158.5,451.2 1159.9,452.1 1161.2,453 1162.5,453.8 1163.8,454.5 1165.2,455.2 1166.5,455.7 1167.8,456.3 1169.2,456.7 1170.5,457.1 1171.8,457.4 1173.1,457.6 1174.5,457.8 1175.8,457.8 1177.1,457.9 1178.5,457.9 1179.8,457.8 1181.1,457.6 1182.4,457.3 1183.8,457 1185.1,456.5 1186.4,456 1187.8,455.4 1189.1,454.8 1190.4,454 1191.7,453.2 1193.1,452.3 1194.4,451.3 1195.7,450.3 1197.1,449.2 1198.4,448 1199.7,446.8 1201,445.5 1202.4,444.1 1203.7,442.8 1205,441.3 1206.3,439.8 1207.7,438.3 1209,436.7 1210.3,435 1211.7,433.3 1213,431.5 1214.3,429.7 1215.6,427.8 1217,425.8 1218.3,423.8 1219.6,421.7 1221,419.5 1222.3,417.3 1223.6,415 1224.9,412.7 1226.3,410.3 1227.6,407.9 1228.9,405.5 1230.3,403 1231.6,400.6 1232.9,398.2 1234.2,395.9 1235.6,393.5 1236.9,391.3 1238.2,389 1239.6,386.8 1240.9,384.7 1242.2,382.6 1243.5,380.5 1244.9,378.6 1246.2,376.6 1247.5,374.8 1248.8,373 1250.2,371.2 1251.5,369.6 1252.8,368 1254.2,366.5 1255.5,365.1 1256.8,363.8 1258.1,362.6 1259.5,361.5 1260.8,360.5 1262.1,359.7 1263.5,358.9 1264.8,358.3 1266.1,357.8 1267.4,357.5 1268.8,357.2 1270.1,357.1 1271.4,357.1 1272.8,357.2 1274.1,357.4 1275.4,357.7 1276.7,358.1 1278.1,358.6 1279.4,359.3 1280.7,360 1282.1,360.9 1283.4,361.8 1284.7,362.9 1286,364 1287.4,365.3 1288.7,366.6 1290,368.1 1291.3,369.6 1292.7,371.2 1294,372.9 1295.3,374.6 1296.7,376.4 1298,378.3 1299.3,380.2 1300.6,382.2 1302,384.2 1303.3,386.3 1304.6,388.3 1306,390.5 1307.3,392.6 1308.6,394.8 1309.9,397 1311.3,399.2 1312.6,401.4 1313.9,403.6 1315.3,405.8 1316.6,408.1 1317.9,410.3 1319.2,412.5 1320.6,414.7 1321.9,416.9 1323.2,419.1 1324.5,421.3 1325.9,423.5 1327.2,425.7 1328.5,427.9 1329.9,430.1 1331.2,432.3 1332.5,434.5 1333.8,436.7 1335.2,438.9 1336.5,441 1337.8,443.2 1339.2,445.4 1340.5,447.5 1341.8,449.7 1343.1,451.8 1344.5,454 1345.8,456.1 1347.1,458.3 1348.5,460.4 1349.8,462.5 1351.1,464.6 1352.4,466.6 1353.8,468.8 1355.1,470.9 1356.4,473 1357.8,475 1359.1,477.1 1360.4,479.1 1361.7,481.2 1363.1,483.1 1364.4,485.1 1365.7,487.1 1367,489 1368.4,490.9 1369.7,492.8 1371,494.6 1372.4,496.5 1373.7,498.3 1375,500.1 1376.3,501.8 1377.7,503.6 1379,505.3 1380.3,507 1381.7,508.8 1383,510.4 1384.3,512.1 1385.6,513.8 1387,515.4 1388.3,517.1 1389.6,518.7 1391,520.3 1392.3,522 1393.6,523.6 1394.9,525.2 1396.3,526.8 1397.6,528.4 1398.9,529.9 1400.3,531.5 1401.6,533.1 1402.9,534.7 1404.2,536.2 1405.6,537.8 1406.9,539.3 1408.2,540.8 1409.5,542.3 1410.9,543.9 1412.2,545.4 1413.5,546.8 1414.9,548.3 1416.2,549.8 1417.5,551.3 1418.8,552.7 1420.2,554.1 1421.5,555.6 1422.8,557 1424.2,558.4 1425.5,559.8 1426.8,561.1 1428.1,562.5 1429.5,563.8 1430.8,565.1 1432.1,566.5 1433.5,567.7 1434.8,569 1436.1,570.3 1437.4,571.5 1438.8,572.7 1440.1,573.9 1441.4,575.1 1442.8,576.3 1444.1,577.4 1445.4,578.5 1446.7,579.6 1448.1,580.7 1449.4,581.8 1450.7,582.8 1452,583.8 1453.4,584.8 1454.7,585.8 1456,586.7 1457.4,587.7 1458.7,588.6 1460,589.4 1461.3,590.3 1462.7,591.2 1464,592 1465.3,592.8 1466.7,593.6 1468,594.3 1469.3,595.1 1470.6,595.8 1472,596.5 1473.3,597.2 1474.6,597.9 1476,598.5 1477.3,599.1 1478.6,599.8 1479.9,600.3 1481.3,600.9 1482.6,601.5 1483.9,602 1485.2,602.5 1486.6,603 1487.9,603.5 1489.2,604 1490.6,604.5 1491.9,604.9 1493.2,605.3 1494.5,605.7 1495.9,606.1 1497.2,606.5 1498.5,606.8 1499.9,607.1 1501.2,607.5 1502.5,607.8 1503.8,608 1505.2,608.3 1506.5,608.6 1507.8,608.8 1509.2,609 1510.5,609.2 1511.8,609.4 1513.1,609.6 1514.5,609.7 1515.8,609.8 1517.1,609.9 1518.5,610 1519.8,610.1 1521.1,610.2 1522.4,610.2 1523.8,610.3 1525.1,610.4 1526.4,610.5 1527.7,610.5 1529.1,610.5 1530.4,610.5 1531.7,610.5 1533.1,610.5 1534.4,610.4 1535.7,610.3 1537,610.2 1538.4,610.1 1539.7,610 1541,609.8 1542.4,609.6 1543.7,609.4 1545,609.2 1546.3,608.9 1547.7,608.7 1549,608.4 1550.3,608.1 1551.7,607.7 1553,607.4 1554.3,607 1555.6,606.6 1557,606.2 1558.3,605.7 1559.6,605.3 1561,604.8 1562.3,604.3 1563.6,603.8 1564.9,603.2 1566.3,602.6 1567.6,602 1568.9,601.4 1570.2,600.8 1571.6,600.1 1572.9,599.4 1574.2,598.7 1575.6,598 1576.9,597.2 1578.2,596.4 1579.5,595.6 1580.9,594.8 1582.2,594 1583.5,593.1 1584.9,592.2 1586.2,591.3 1587.5,590.4 1588.8,589.4 1590.2,588.4 1591.5,587.4 1592.8,586.4 1594.2,585.3 1595.5,584.3 1596.8,583.2 1598.1,582.1 1599.5,580.9 1600.8,579.7 1602.1,578.5 1603.5,577.3 1604.8,576.1 1606.1,574.8 1607.4,573.5 1608.8,572.2 1610.1,570.9 1611.4,569.5 1612.7,568.1 1614.1,566.7 1615.4,565.3 1616.7,563.8 1618.1,562.3 1619.4,560.8 1620.7,559.3 1622,557.8 1623.4,556.2 1624.7,554.6 1626,553 1627.4,551.4 1628.7,549.7 1630,548 1631.3,546.3 1632.7,544.6 1634,542.9 1635.3,541.1 1636.7,539.3 1638,537.5 1639.3,535.7 1640.6,533.8 1642,532 1643.3,530.1 1644.6,528.2 1646,526.3 1647.3,524.4 1648.6,522.4 1649.9,520.5 1651.3,518.5 1652.6,516.5 1653.9,514.6 1655.2,512.6 1656.6,510.5 1657.9,508.5 1659.2,506.5 1660.6,504.4 1661.9,502.4 1663.2,500.3 1664.5,498.2 1665.9,496.1 1667.2,493.9 1668.5,491.8 1669.9,489.6 1671.2,487.4 1672.5,485.2 1673.8,482.9 1675.2,480.6 1676.5,478.3 1677.8,475.9 1679.2,473.5 1680.5,471.1 1681.8,468.7 1683.1,466.2 1684.5,463.8 1685.8,461.3 1687.1,458.9 1688.4,456.5 1689.8,454.1 1691.1,451.7 1692.4,449.4 1693.8,447.2 1695.1,445 1696.4,442.8 1697.7,440.8 1699.1,438.8 1700.4,436.9 1701.7,435.1 1703.1,433.3 1704.4,431.6 1705.7,430 1707,428.4 1708.4,427 1709.7,425.6 1711,424.2 1712.4,422.9 1713.7,421.7 1715,420.6 1716.3,419.5 1717.7,418.5 1719,417.6 1720.3,416.8 1721.7,416.1 1723,415.4 1724.3,414.9 1725.6,414.5 1727,414.1 1728.3,413.9 1729.6,413.7 1730.9,413.6 1732.3,413.6 1733.6,413.6 1734.9,413.6 1736.3,413.6 1737.6,413.8 1738.9,414 1740.2,414.4 1741.6,415 1742.9,415.7 1744.2,416.7 1745.6,417.9 1746.9,419.4 1748.2,421.2 1749.5,423.2 1750.9,425.5 1752.2,427.9 1753.5,430.4 1754.9,433 1756.2,435.6 1757.5,438.2 1758.8,440.7 1760.2,443.1 1761.5,445.5 1762.8,447.8 1764.2,450 1765.5,452.2 1766.8,454.4 1768.1,456.5 1769.5,458.5 1770.8,460.5 1772.1,462.5 1773.4,464.4 1774.8,466.3 1776.1,468.2 1777.4,470.1 1778.8,471.9 1780.1,473.7 1781.4,475.5 1782.7,477.3 1784.1,479 1785.4,480.5 1786.7,481.9 1788.1,483.2 1789.4,484.5 1790.7,485.8 1792,486.9 1793.4,488.1 1794.7,489.1 1796,490.1 1797.4,491 1798.7,491.8 1800,492.5 1801.3,493.1 1802.7,493.6 1804,494 1805.3,494.2 1806.7,494.3 1808,494.4 1809.3,494.4 1810.6,494.2 1812,493.9 1813.3,493.5 1814.6,492.9 1815.9,492.1 1817.3,491.2 1818.6,490.2 1819.9,489 1821.3,487.7 1822.6,486.3 1823.9,484.7 1825.2,482.9 1826.6,481.1 1827.9,479.1 1829.2,477 1830.6,474.8 1831.9,472.4 1833.2,470 1834.5,467.5 1835.9,464.9 1837.2,462.2 1838.5,459.4 1839.9,456.6 1841.2,453.7 1842.5,450.7 1843.8,447.6 1845.2,444.3 1846.5,441 1847.8,437.6 1849.1,434 1850.5,430.3 1851.8,426.4 1853.1,422.4 1854.5,418.2 1855.8,413.8 1857.1,409.4 1858.4,404.8 1859.8,400.1 1861.1,395.3 1862.4,390.4 1863.8,385.5 1865.1,380.5 1866.4,375.4 1867.7,370.4 1869.1,365.6 1870.4,360.7 1871.7,355.8 1873.1,350.8 1874.4,345.8 1875.7,340.7 1877,335.6 1878.4,330.3 1879.7,325 1881,319.6 1882.4,314 1883.7,308.4 1885,302.8 1886.3,297.1 1887.7,291.5 1889,285.8 1890.3,280.2 1891.6,274.7 1893,269.3 1894.3,263.8 1895.6,258.5 1897,253.1 1898.3,247.6 1899.6,242.2 1900.9,236.7 1902.3,231.1 1903.6,225.3 1904.9,219.5 1906.3,213.7 1907.6,207.9 1908.9,202.2 1910.2,196.5 1911.6,191.1 1912.9,185.9 1914.2,180.9 1915.6,176.2 1916.9,171.8 1918.2,167.8 1919.5,164 1920.9,160.5 1922.2,157.3 1923.5,154.4 1924.9,151.8 1926.2,149.5 1927.5,147.5 1928.8,145.8 1930.2,144.4 1931.5,143.2 1932.8,142.4 1934.1,141.9 1935.5,141.7 1936.8,141.7 1938.1,141.8 1939.5,142.2 1940.8,142.8 1942.1,143.8 1943.4,145.1 1944.8,146.6 1946.1,148.4 1947.4,150.6 1948.8,153 1950.1,155.7 1951.4,158.6 1952.7,161.9 1954.1,165.3 1955.4,169.1 1956.7,173.1 1958.1,177.4 1959.4,181.9 1960.7,186.6 1962,191.6 1963.4,196.7 1964.7,202 1966,207.3 1967.4,212.7 1968.7,218.1 1970,223.5 1971.3,228.7 1972.7,233.9 1974,238.9 1975.3,243.9 1976.6,248.8 1978,253.6 1979.3,258.3 1980.6,263 1982,267.7 1983.3,272.3 1984.6,276.9 1985.9,281.5 1987.3,286 1988.6,290.6 1989.9,295.2 1991.3,299.8 1992.6,304.3 1993.9,308.8 1995.2,313.3 1996.6,317.7 1997.9,322.1 1999.2,326.5 2000.6,330.8 2001.9,335 2003.2,339.2 2004.5,343.3 2005.9,347.3 2007.2,351.3 2008.5,355.2 2009.8,359 2011.2,362.7 2012.5,366.4 2013.8,370 2015.2,373.6 2016.5,377.1 2017.8,380.6 2019.1,384 2020.5,387.5 2021.8,390.8 2023.1,394.2 2024.5,397.5 2025.8,400.8 2027.1,404.1 2028.4,407.3 2029.8,410.6 2031.1,413.7 2032.4,416.9 2033.8,420 2035.1,423.1 2036.4,426.1 2037.7,429.1 2039.1,432.1 2040.4,435 2041.7,437.9 2043.1,440.8 2044.4,443.6 2045.7,446.3 2047,449 2048.4,451.7 2049.7,454.3 2051,456.9 2052.3,459.4 2053.7,461.9 2055,464.4 2056.3,466.8 2057.7,469.2 2059,471.5 2060.3,473.8 2061.6,476.1 2063,478.3 2064.3,480.5 2065.6,482.6 2067,484.8 2068.3,486.9 2069.6,488.9 2070.9,491 2072.3,493 2073.6,495 2074.9,496.9 2076.3,498.9 2077.6,500.8 2078.9,502.7 2080.2,504.6 2081.6,506.5 2082.9,508.4 2084.2,510.3 2085.6,512.2 2086.9,514 2088.2,515.8 2089.5,517.6 2090.9,519.4 2092.2,521.1 2093.5,522.9 2094.8,524.5 2096.2,526.2 2097.5,527.8 2098.8,529.4 2100.2,530.9 2101.5,532.4 2102.8,533.8 2104.1,535.2 2105.5,536.5 2106.8,537.8 2108.1,539.1 2109.5,540.3 2110.8,541.5 2112.1,542.7 2113.4,543.8 2114.8,544.9 2116.1,546 2117.4,547 2118.8,548 2120.1,549 2121.4,550 2122.7,551 2124.1,551.9 2125.4,552.8 2126.7,553.7 2128.1,554.5 2129.4,555.4 2130.7,556.2 2132,557 2133.4,557.7 2134.7,558.5 2136,559.2 2137.3,559.9 2138.7,560.6 2140,561.2 2141.3,561.8 2142.7,562.3 2144,562.7 2145.3,563 2146.6,563.2 2148,563.2 2149.3,563.1 2150.6,562.5 2152,561.8 2153.3,560.9 2154.6,559.9 2155.9,558.7" stroke="#ff0000" stroke-width="10" stroke-dasharray="36 70" stroke-dashoffset="0"/>
<path d="M814.6,685 815.9,684.2 817.2,683.5 818.5,682.7 819.9,681.9 821.2,681.1 822.5,680.3 823.9,679.5 825.2,678.6 826.5,677.7 827.8,676.8 829.2,675.9 830.5,675 831.8,674 833.2,673.1 834.5,672.1 835.8,671.1 837.1,670.1 838.5,669.1 839.8,668.1 841.1,667.1 842.4,666 843.8,665 845.1,663.9 846.4,662.8 847.8,661.8 849.1,660.7 850.4,659.6 851.7,658.5 853.1,657.4 854.4,656.3 855.7,655.2 857.1,654.1 858.4,653 859.7,651.9 861,650.7 862.4,649.6 863.7,648.5 865,647.4 866.4,646.3 867.7,645.2 869,644 870.3,642.9 871.7,641.8 873,640.6 874.3,639.5 875.7,638.3 877,637.1 878.3,635.9 879.6,634.7 881,633.5 882.3,632.3 883.6,631 884.9,629.7 886.3,628.4 887.6,627.1 888.9,625.7 890.3,624.4 891.6,623 892.9,621.5 894.2,620.1 895.6,618.6 896.9,617.1 898.2,615.6 899.6,614.1 900.9,612.5 902.2,610.9 903.5,609.3 904.9,607.7 906.2,606 907.5,604.3 908.9,602.6 910.2,600.9 911.5,599.2 912.8,597.4 914.2,595.7 915.5,593.9 916.8,592.1 918.2,590.2 919.5,588.4 920.8,586.5 922.1,584.7 923.5,582.8 924.8,580.8 926.1,578.9 927.4,576.9 928.8,575 930.1,573 931.4,570.9 932.8,568.9 934.1,566.8 935.4,564.8 936.7,562.7 938.1,560.5 939.4,558.4 940.7,556.2 942.1,554.1 943.4,551.9 944.7,549.6 946,547.4 947.4,545.1 948.7,542.9 950,540.6 951.4,538.2 952.7,535.9 954,533.5 955.3,531.2 956.7,528.8 958,526.3 959.3,523.9 960.7,521.4 962,519 963.3,516.5 964.6,513.9 966,511.4 967.3,508.9 968.6,506.3 969.9,503.7 971.3,501.1 972.6,498.5 973.9,495.8 975.3,493.1 976.6,490.5 977.9,487.8 979.2,485 980.6,482.3 981.9,479.5 983.2,476.8 984.6,474 985.9,471.1 987.2,468.3 988.5,465.5 989.9,462.6 991.2,459.7 992.5,456.8 993.9,453.8 995.2,450.9 996.5,447.9 997.8,444.9 999.2,441.9 1000.5,438.9 1001.8,435.8 1003.1,432.8 1004.5,429.7 1005.8,426.5 1007.1,423.4 1008.5,420.2 1009.8,417 1011.1,413.8 1012.4,410.5 1013.8,407.2 1015.1,403.9 1016.4,400.6 1017.8,397.2 1019.1,393.8 1020.4,390.4 1021.7,386.9 1023.1,383.5 1024.4,380 1025.7,376.6 1027.1,373.1 1028.4,369.7 1029.7,366.3 1031,362.9 1032.4,359.5 1033.7,356.1 1035,352.8 1036.4,349.5 1037.7,346.3 1039,343.1 1040.3,340 1041.7,337 1043,334.1 1044.3,331.2 1045.6,328.5 1047,325.9 1048.3,323.5 1049.6,321.2 1051,319 1052.3,316.9 1053.6,315 1054.9,313.3 1056.3,311.6 1057.6,310.1 1058.9,308.8 1060.3,307.6 1061.6,306.5 1062.9,305.5 1064.2,304.6 1065.6,303.9 1066.9,303.4 1068.2,302.9 1069.6,302.6 1070.9,302.5 1072.2,302.5 1073.5,302.6 1074.9,302.9 1076.2,303.3 1077.5,303.9 1078.9,304.6 1080.2,305.5 1081.5,306.5 1082.8,307.7 1084.2,309 1085.5,310.4 1086.8,312 1088.1,313.8 1089.5,315.6 1090.8,317.6 1092.1,319.7 1093.5,321.9 1094.8,324.2 1096.1,326.6 1097.4,329 1098.8,331.6 1100.1,334.2 1101.4,336.9 1102.8,339.6 1104.1,342.4 1105.4,345.2 1106.7,348.1 1108.1,351 1109.4,353.9 1110.7,356.8 1112.1,359.8 1113.4,362.8 1114.7,365.8 1116,368.8 1117.4,371.9 1118.7,374.9 1120,377.9 1121.4,380.9 1122.7,383.8 1124,386.7 1125.3,389.6 1126.7,392.4 1128,395.1 1129.3,397.8 1130.6,400.5 1132,403 1133.3,405.5 1134.6,407.9 1136,410.3 1137.3,412.6 1138.6,414.8 1139.9,417 1141.3,419 1142.6,421.1 1143.9,423 1145.3,424.9 1146.6,426.7 1147.9,428.5 1149.2,430.1 1150.6,431.7 1151.9,433.3 1153.2,434.7 1154.6,436.1 1155.9,437.3 1157.2,438.5 1158.5,439.7 1159.9,440.7 1161.2,441.7 1162.5,442.6 1163.8,443.4 1165.2,444.2 1166.5,444.8 1167.8,445.5 1169.2,446 1170.5,446.5 1171.8,446.9 1173.1,447.2 1174.5,447.5 1175.8,447.6 1177.1,447.7 1178.5,447.7 1179.8,447.6 1181.1,447.4 1182.4,447.1 1183.8,446.7 1185.1,446.2 1186.4,445.7 1187.8,445.1 1189.1,444.4 1190.4,443.6 1191.7,442.7 1193.1,441.8 1194.4,440.8 1195.7,439.8 1197.1,438.6 1198.4,437.4 1199.7,436.2 1201,434.9 1202.4,433.5 1203.7,432.1 1205,430.6 1206.3,429.1 1207.7,427.6 1209,425.9 1210.3,424.2 1211.7,422.5 1213,420.7 1214.3,418.8 1215.6,416.9 1217,414.9 1218.3,412.9 1219.6,410.7 1221,408.5 1222.3,406.3 1223.6,404 1224.9,401.6 1226.3,399.2 1227.6,396.8 1228.9,394.3 1230.3,391.9 1231.6,389.5 1232.9,387 1234.2,384.6 1235.6,382.3 1236.9,380 1238.2,377.7 1239.6,375.5 1240.9,373.3 1242.2,371.2 1243.5,369.1 1244.9,367.1 1246.2,365.2 1247.5,363.3 1248.8,361.5 1250.2,359.7 1251.5,358 1252.8,356.4 1254.2,354.9 1255.5,353.5 1256.8,352.2 1258.1,350.9 1259.5,349.8 1260.8,348.8 1262.1,347.9 1263.5,347.2 1264.8,346.5 1266.1,346 1267.4,345.6 1268.8,345.4 1270.1,345.2 1271.4,345.2 1272.8,345.3 1274.1,345.5 1275.4,345.8 1276.7,346.3 1278.1,346.9 1279.4,347.6 1280.7,348.4 1282.1,349.3 1283.4,350.3 1284.7,351.4 1286,352.6 1287.4,353.9 1288.7,355.3 1290,356.8 1291.3,358.3 1292.7,360 1294,361.7 1295.3,363.5 1296.7,365.3 1298,367.3 1299.3,369.2 1300.6,371.2 1302,373.3 1303.3,375.4 1304.6,377.6 1306,379.7 1307.3,381.9 1308.6,384.2 1309.9,386.4 1311.3,388.7 1312.6,390.9 1313.9,393.2 1315.3,395.4 1316.6,397.7 1317.9,400 1319.2,402.2 1320.6,404.5 1321.9,406.7 1323.2,409 1324.5,411.3 1325.9,413.5 1327.2,415.8 1328.5,418 1329.9,420.2 1331.2,422.5 1332.5,424.7 1333.8,427 1335.2,429.2 1336.5,431.4 1337.8,433.6 1339.2,435.8 1340.5,438.1 1341.8,440.3 1343.1,442.5 1344.5,444.7 1345.8,446.8 1347.1,449 1348.5,451.2 1349.8,453.3 1351.1,455.5 1352.4,457.6 1353.8,459.7 1355.1,461.8 1356.4,463.9 1357.8,466 1359.1,468 1360.4,470 1361.7,472 1363.1,474 1364.4,476 1365.7,477.9 1367,479.9 1368.4,481.7 1369.7,483.6 1371,485.5 1372.4,487.3 1373.7,489.1 1375,490.9 1376.3,492.6 1377.7,494.4 1379,496.1 1380.3,497.8 1381.7,499.5 1383,501.2 1384.3,502.9 1385.6,504.5 1387,506.2 1388.3,507.8 1389.6,509.4 1391,511 1392.3,512.6 1393.6,514.2 1394.9,515.8 1396.3,517.4 1397.6,519 1398.9,520.6 1400.3,522.2 1401.6,523.7 1402.9,525.3 1404.2,526.8 1405.6,528.4 1406.9,529.9 1408.2,531.4 1409.5,532.9 1410.9,534.4 1412.2,535.9 1413.5,537.4 1414.9,538.9 1416.2,540.3 1417.5,541.8 1418.8,543.2 1420.2,544.7 1421.5,546.1 1422.8,547.5 1424.2,548.9 1425.5,550.2 1426.8,551.6 1428.1,552.9 1429.5,554.3 1430.8,555.6 1432.1,556.9 1433.5,558.2 1434.8,559.4 1436.1,560.7 1437.4,561.9 1438.8,563.1 1440.1,564.3 1441.4,565.5 1442.8,566.7 1444.1,567.8 1445.4,568.9 1446.7,570 1448.1,571.1 1449.4,572.1 1450.7,573.1 1452,574.1 1453.4,575.1 1454.7,576.1 1456,577 1457.4,577.9 1458.7,578.8 1460,579.7 1461.3,580.6 1462.7,581.4 1464,582.2 1465.3,583 1466.7,583.8 1468,584.5 1469.3,585.3 1470.6,586 1472,586.7 1473.3,587.4 1474.6,588 1476,588.7 1477.3,589.3 1478.6,589.9 1479.9,590.5 1481.3,591 1482.6,591.6 1483.9,592.1 1485.2,592.6 1486.6,593.1 1487.9,593.6 1489.2,594.1 1490.6,594.5 1491.9,594.9 1493.2,595.4 1494.5,595.7 1495.9,596.1 1497.2,596.5 1498.5,596.8 1499.9,597.1 1501.2,597.5 1502.5,597.7 1503.8,598 1505.2,598.3 1506.5,598.5 1507.8,598.7 1509.2,599 1510.5,599.1 1511.8,599.3 1513.1,599.5 1514.5,599.6 1515.8,599.7 1517.1,599.8 1518.5,599.9 1519.8,600 1521.1,600 1522.4,600.1 1523.8,600.1 1525.1,600.1 1526.4,600 1527.7,600 1529.1,599.9 1530.4,599.9 1531.7,599.8 1533.1,599.6 1534.4,599.5 1535.7,599.3 1537,599.1 1538.4,598.9 1539.7,598.7 1541,598.5 1542.4,598.2 1543.7,597.9 1545,597.6 1546.3,597.3 1547.7,596.9 1549,596.6 1550.3,596.2 1551.7,595.8 1553,595.3 1554.3,594.9 1555.6,594.4 1557,593.9 1558.3,593.4 1559.6,592.8 1561,592.2 1562.3,591.7 1563.6,591 1564.9,590.4 1566.3,589.7 1567.6,589.1 1568.9,588.4 1570.2,587.6 1571.6,586.9 1572.9,586.1 1574.2,585.3 1575.6,584.5 1576.9,583.7 1578.2,582.8 1579.5,581.9 1580.9,581 1582.2,580.1 1583.5,579.2 1584.9,578.2 1586.2,577.2 1587.5,576.2 1588.8,575.1 1590.2,574.1 1591.5,573 1592.8,571.9 1594.2,570.7 1595.5,569.6 1596.8,568.4 1598.1,567.2 1599.5,566 1600.8,564.7 1602.1,563.4 1603.5,562.1 1604.8,560.8 1606.1,559.5 1607.4,558.1 1608.8,556.7 1610.1,555.3 1611.4,553.8 1612.7,552.3 1614.1,550.8 1615.4,549.3 1616.7,547.8 1618.1,546.2 1619.4,544.6 1620.7,543 1622,541.3 1623.4,539.7 1624.7,538 1626,536.3 1627.4,534.5 1628.7,532.8 1630,531 1631.3,529.2 1632.7,527.4 1634,525.5 1635.3,523.6 1636.7,521.7 1638,519.8 1639.3,517.9 1640.6,515.9 1642,513.9 1643.3,511.9 1644.6,509.9 1646,507.8 1647.3,505.7 1648.6,503.6 1649.9,501.5 1651.3,499.4 1652.6,497.2 1653.9,495 1655.2,492.8 1656.6,490.6 1657.9,488.4 1659.2,486.2 1660.6,483.9 1661.9,481.6 1663.2,479.3 1664.5,477 1665.9,474.6 1667.2,472.2 1668.5,469.8 1669.9,467.4 1671.2,464.9 1672.5,462.4 1673.8,459.8 1675.2,457.2 1676.5,454.6 1677.8,452 1679.2,449.3 1680.5,446.6 1681.8,443.9 1683.1,441.2 1684.5,438.5 1685.8,435.9 1687.1,433.3 1688.4,430.7 1689.8,428.2 1691.1,425.8 1692.4,423.4 1693.8,421.1 1695.1,418.9 1696.4,416.8 1697.7,414.8 1699.1,412.9 1700.4,411 1701.7,409.2 1703.1,407.5 1704.4,405.9 1705.7,404.4 1707,402.9 1708.4,401.5 1709.7,400.2 1711,398.9 1712.4,397.7 1713.7,396.6 1715,395.6 1716.3,394.6 1717.7,393.8 1719,393 1720.3,392.3 1721.7,391.7 1723,391.2 1724.3,390.8 1725.6,390.4 1727,390.2 1728.3,390 1729.6,389.8 1730.9,389.7 1732.3,389.7 1733.6,389.7 1734.9,389.7 1736.3,389.9 1737.6,390.2 1738.9,390.6 1740.2,391.2 1741.6,391.9 1742.9,393 1744.2,394.2 1745.6,395.7 1746.9,397.5 1748.2,399.5 1749.5,401.8 1750.9,404.1 1752.2,406.6 1753.5,409.1 1754.9,411.7 1756.2,414.2 1757.5,416.6 1758.8,419 1760.2,421.3 1761.5,423.5 1762.8,425.7 1764.2,427.9 1765.5,430 1766.8,432 1768.1,434.1 1769.5,436 1770.8,438 1772.1,439.9 1773.4,441.8 1774.8,443.6 1776.1,445.5 1777.4,447.3 1778.8,449.1 1780.1,450.9 1781.4,452.6 1782.7,454.3 1784.1,456 1785.4,457.6 1786.7,459.2 1788.1,460.7 1789.4,462.2 1790.7,463.6 1792,464.9 1793.4,466.1 1794.7,467.3 1796,468.4 1797.4,469.4 1798.7,470.2 1800,471 1801.3,471.6 1802.7,472.1 1804,472.5 1805.3,472.7 1806.7,472.7 1808,472.6 1809.3,472.4 1810.6,472 1812,471.4 1813.3,470.7 1814.6,469.8 1815.9,468.8 1817.3,467.7 1818.6,466.4 1819.9,464.9 1821.3,463.3 1822.6,461.5 1823.9,459.6 1825.2,457.6 1826.6,455.5 1827.9,453.2 1829.2,450.9 1830.6,448.4 1831.9,445.8 1833.2,443.2 1834.5,440.4 1835.9,437.6 1837.2,434.7 1838.5,431.8 1839.9,428.7 1841.2,425.5 1842.5,422.2 1843.8,418.8 1845.2,415.2 1846.5,411.5 1847.8,407.7 1849.1,403.7 1850.5,399.5 1851.8,395.2 1853.1,390.8 1854.5,386.2 1855.8,381.4 1857.1,376.6 1858.4,371.7 1859.8,366.8 1861.1,361.7 1862.4,356.7 1863.8,351.5 1865.1,346.4 1866.4,341.3 1867.7,336.1 1869.1,330.9 1870.4,325.6 1871.7,320.3 1873.1,314.8 1874.4,309.4 1875.7,303.8 1877,298.1 1878.4,292.3 1879.7,286.4 1881,280.6 1882.4,274.6 1883.7,268.7 1885,262.9 1886.3,257 1887.7,251.3 1889,245.6 1890.3,239.9 1891.6,234.3 1893,228.7 1894.3,223.1 1895.6,217.4 1897,211.7 1898.3,205.8 1899.6,199.9 1900.9,193.9 1902.3,187.9 1903.6,181.9 1904.9,176 1906.3,170.2 1907.6,164.5 1908.9,159.1 1910.2,154 1911.6,149.1 1912.9,144.5 1914.2,140.3 1915.6,136.3 1916.9,132.7 1918.2,129.3 1919.5,126.2 1920.9,123.4 1922.2,120.9 1923.5,118.7 1924.9,116.7 1926.2,115.1 1927.5,113.8 1928.8,112.7 1930.2,112 1931.5,111.5 1932.8,111.3 1934.1,111.5 1935.5,111.9 1936.8,112.7 1938.1,113.7 1939.5,115 1940.8,116.6 1942.1,118.5 1943.4,120.6 1944.8,123 1946.1,125.7 1947.4,128.7 1948.8,131.9 1950.1,135.4 1951.4,139.1 1952.7,143 1954.1,147.3 1955.4,151.7 1956.7,156.4 1958.1,161.3 1959.4,166.4 1960.7,171.6 1962,176.9 1963.4,182.3 1964.7,187.7 1966,193.1 1967.4,198.5 1968.7,203.7 1970,208.8 1971.3,213.9 1972.7,218.9 1974,223.7 1975.3,228.5 1976.6,233.3 1978,238 1979.3,242.7 1980.6,247.3 1982,251.9 1983.3,256.5 1984.6,261.2 1985.9,265.8 1987.3,270.4 1988.6,274.9 1989.9,279.5 1991.3,284 1992.6,288.6 1993.9,293 1995.2,297.5 1996.6,301.9 1997.9,306.2 1999.2,310.5 2000.6,314.7 2001.9,318.9 2003.2,323 2004.5,327 2005.9,331 2007.2,334.8 2008.5,338.7 2009.8,342.4 2011.2,346.1 2012.5,349.7 2013.8,353.3 2015.2,356.9 2016.5,360.4 2017.8,363.9 2019.1,367.3 2020.5,370.7 2021.8,374.1 2023.1,377.4 2024.5,380.7 2025.8,384 2027.1,387.3 2028.4,390.5 2029.8,393.7 2031.1,396.9 2032.4,400.1 2033.8,403.2 2035.1,406.3 2036.4,409.3 2037.7,412.3 2039.1,415.3 2040.4,418.2 2041.7,421.1 2043.1,424 2044.4,426.8 2045.7,429.5 2047,432.3 2048.4,434.9 2049.7,437.6 2051,440.2 2052.3,442.8 2053.7,445.3 2055,447.8 2056.3,450.2 2057.7,452.6 2059,455 2060.3,457.3 2061.6,459.7 2063,461.9 2064.3,464.2 2065.6,466.4 2067,468.5 2068.3,470.7 2069.6,472.8 2070.9,474.9 2072.3,477 2073.6,479 2074.9,481.1 2076.3,483.1 2077.6,485.1 2078.9,487.1 2080.2,489.1 2081.6,491.1 2082.9,493 2084.2,495 2085.6,496.9 2086.9,498.8 2088.2,500.7 2089.5,502.6 2090.9,504.5 2092.2,506.3 2093.5,508.1 2094.8,509.9 2096.2,511.6 2097.5,513.3 2098.8,514.9 2100.2,516.5 2101.5,518.1 2102.8,519.6 2104.1,521.1 2105.5,522.5 2106.8,523.9 2108.1,525.2 2109.5,526.5 2110.8,527.8 2112.1,529.1 2113.4,530.3 2114.8,531.5 2116.1,532.7 2117.4,533.8 2118.8,534.9 2120.1,536 2121.4,537.1 2122.7,538.1 2124.1,539.2 2125.4,540.2 2126.7,541.1 2128.1,542.1 2129.4,543 2130.7,543.9 2132,544.8 2133.4,545.7 2134.7,546.5 2136,547.4 2137.3,548.2 2138.7,548.9 2140,549.7 2141.3,550.3 2142.7,550.9 2144,551.5 2145.3,551.9 2146.6,552.1 2148,552.3 2149.3,552.2 2150.6,552 2152,551.6 2153.3,551.1 2154.6,550.4 2155.9,549.6" stroke="#0000ff" stroke-width="10" stroke-dasharray="48 40 1.5 42.5" stroke-dashoffset="6"/>
<path d="M814.6,685 815.9,684.2 817.2,683.5 818.5,682.7 819.9,681.9 821.2,681.1 822.5,680.3 823.9,679.5 825.2,678.6 826.5,677.7 827.8,676.8 829.2,675.9 830.5,675 831.8,674 833.2,673.1 834.5,672.1 835.8,671.1 837.1,670.1 838.5,669.1 839.8,668.1 841.1,667.1 842.4,666 843.8,665 845.1,663.9 846.4,662.8 847.8,661.8 849.1,660.7 850.4,659.6 851.7,658.5 853.1,657.4 854.4,656.3 855.7,655.2 857.1,654.1 858.4,653 859.7,651.9 861,650.7 862.4,649.6 863.7,648.5 865,647.4 866.4,646.3 867.7,645.2 869,644 870.3,642.9 871.7,641.8 873,640.6 874.3,639.5 875.7,638.3 877,637.1 878.3,635.9 879.6,634.7 881,633.5 882.3,632.3 883.6,631 884.9,629.7 886.3,628.4 887.6,627.1 888.9,625.7 890.3,624.4 891.6,623 892.9,621.5 894.2,620.1 895.6,618.6 896.9,617.1 898.2,615.6 899.6,614.1 900.9,612.5 902.2,610.9 903.5,609.3 904.9,607.7 906.2,606 907.5,604.3 908.9,602.6 910.2,600.9 911.5,599.2 912.8,597.4 914.2,595.7 915.5,593.9 916.8,592.1 918.2,590.2 919.5,588.4 920.8,586.5 922.1,584.7 923.5,582.8 924.8,580.8 926.1,578.9 927.4,576.9 928.8,575 930.1,573 931.4,570.9 932.8,568.9 934.1,566.8 935.4,564.8 936.7,562.7 938.1,560.5 939.4,558.4 940.7,556.2 942.1,554.1 943.4,551.9 944.7,549.6 946,547.4 947.4,545.1 948.7,542.9 950,540.5 951.4,538.2 952.7,535.9 954,533.5 955.3,531.1 956.7,528.7 958,526.3 959.3,523.9 960.7,521.4 962,518.9 963.3,516.4 964.6,513.9 966,511.3 967.3,508.8 968.6,506.2 969.9,503.6 971.3,500.9 972.6,498.3 973.9,495.6 975.3,492.9 976.6,490.2 977.9,487.5 979.2,484.7 980.6,481.9 981.9,479.1 983.2,476.3 984.6,473.4 985.9,470.6 987.2,467.6 988.5,464.7 989.9,461.7 991.2,458.8 992.5,455.7 993.9,452.7 995.2,449.6 996.5,446.5 997.8,443.3 999.2,440.2 1000.5,437 1001.8,433.7 1003.1,430.4 1004.5,427.1 1005.8,423.7 1007.1,420.3 1008.5,416.9 1009.8,413.4 1011.1,409.8 1012.4,406.2 1013.8,402.6 1015.1,398.9 1016.4,395.1 1017.8,391.3 1019.1,387.5 1020.4,383.6 1021.7,379.7 1023.1,375.7 1024.4,371.8 1025.7,367.8 1027.1,363.8 1028.4,359.8 1029.7,355.8 1031,351.8 1032.4,347.9 1033.7,343.9 1035,340 1036.4,336.2 1037.7,332.4 1039,328.8 1040.3,325.2 1041.7,321.8 1043,318.5 1044.3,315.4 1045.6,312.5 1047,309.7 1048.3,307.2 1049.6,304.9 1051,302.8 1052.3,300.9 1053.6,299.3 1054.9,297.8 1056.3,296.6 1057.6,295.6 1058.9,294.9 1060.3,294.3 1061.6,294 1062.9,293.8 1064.2,293.9 1065.6,294.2 1066.9,294.6 1068.2,295.1 1069.6,295.9 1070.9,296.7 1072.2,297.7 1073.5,298.8 1074.9,300 1076.2,301.3 1077.5,302.6 1078.9,304.1 1080.2,305.6 1081.5,307.2 1082.8,308.9 1084.2,310.6 1085.5,312.4 1086.8,314.3 1088.1,316.3 1089.5,318.3 1090.8,320.4 1092.1,322.5 1093.5,324.7 1094.8,327 1096.1,329.3 1097.4,331.7 1098.8,334.2 1100.1,336.7 1101.4,339.2 1102.8,341.8 1104.1,344.5 1105.4,347.1 1106.7,349.9 1108.1,352.6 1109.4,355.4 1110.7,358.3 1112.1,361.1 1113.4,364 1114.7,366.9 1116,369.8 1117.4,372.7 1118.7,375.7 1120,378.6 1121.4,381.5 1122.7,384.3 1124,387.2 1125.3,390 1126.7,392.8 1128,395.5 1129.3,398.1 1130.6,400.7 1132,403.2 1133.3,405.7 1134.6,408.1 1136,410.4 1137.3,412.7 1138.6,414.9 1139.9,417 1141.3,419.1 1142.6,421.1 1143.9,423.1 1145.3,424.9 1146.6,426.8 1147.9,428.5 1149.2,430.2 1150.6,431.7 1151.9,433.3 1153.2,434.7 1154.6,436.1 1155.9,437.3 1157.2,438.5 1158.5,439.7 1159.9,440.7 1161.2,441.7 1162.5,442.6 1163.8,443.4 1165.2,444.2 1166.5,444.8 1167.8,445.5 1169.2,446 1170.5,446.5 1171.8,446.9 1173.1,447.2 1174.5,447.5 1175.8,447.6 1177.1,447.7 1178.5,447.7 1179.8,447.6 1181.1,447.4 1182.4,447.1 1183.8,446.7 1185.1,446.2 1186.4,445.7 1187.8,445.1 1189.1,444.4 1190.4,443.6 1191.7,442.7 1193.1,441.8 1194.4,440.8 1195.7,439.8 1197.1,438.6 1198.4,437.4 1199.7,436.2 1201,434.9 1202.4,433.5 1203.7,432.1 1205,430.6 1206.3,429.1 1207.7,427.6 1209,425.9 1210.3,424.2 1211.7,422.5 1213,420.7 1214.3,418.8 1215.6,416.9 1217,414.9 1218.3,412.9 1219.6,410.7 1221,408.5 1222.3,406.3 1223.6,404 1224.9,401.6 1226.3,399.2 1227.6,396.8 1228.9,394.3 1230.3,391.9 1231.6,389.5 1232.9,387 1234.2,384.6 1235.6,382.3 1236.9,380 1238.2,377.7 1239.6,375.5 1240.9,373.3 1242.2,371.2 1243.5,369.1 1244.9,367.1 1246.2,365.2 1247.5,363.3 1248.8,361.5 1250.2,359.7 1251.5,358 1252.8,356.4 1254.2,354.9 1255.5,353.5 1256.8,352.2 1258.1,350.9 1259.5,349.8 1260.8,348.8 1262.1,347.9 1263.5,347.2 1264.8,346.5 1266.1,346 1267.4,345.6 1268.8,345.4 1270.1,345.2 1271.4,345.2 1272.8,345.3 1274.1,345.5 1275.4,345.8 1276.7,346.3 1278.1,346.9 1279.4,347.6 1280.7,348.4 1282.1,349.3 1283.4,350.3 1284.7,351.4 1286,352.6 1287.4,353.9 1288.7,355.3 1290,356.8 1291.3,358.3 1292.7,360 1294,361.7 1295.3,363.5 1296.7,365.3 1298,367.3 1299.3,369.2 1300.6,371.2 1302,373.3 1303.3,375.4 1304.6,377.6 1306,379.7 1307.3,381.9 1308.6,384.2 1309.9,386.4 1311.3,388.7 1312.6,390.9 1313.9,393.2 1315.3,395.4 1316.6,397.7 1317.9,400 1319.2,402.2 1320.6,404.5 1321.9,406.7 1323.2,409 1324.5,411.3 1325.9,413.5 1327.2,415.8 1328.5,418 1329.9,420.2 1331.2,422.5 1332.5,424.7 1333.8,427 1335.2,429.2 1336.5,431.4 1337.8,433.6 1339.2,435.8 1340.5,438.1 1341.8,440.3 1343.1,442.5 1344.5,444.7 1345.8,446.8 1347.1,449 1348.5,451.2 1349.8,453.3 1351.1,455.5 1352.4,457.6 1353.8,459.7 1355.1,461.8 1356.4,463.9 1357.8,466 1359.1,468 1360.4,470 1361.7,472 1363.1,474 1364.4,476 1365.7,477.9 1367,479.9 1368.4,481.7 1369.7,483.6 1371,485.5 1372.4,487.3 1373.7,489.1 1375,490.9 1376.3,492.6 1377.7,494.4 1379,496.1 1380.3,497.8 1381.7,499.5 1383,501.2 1384.3,502.9 1385.6,504.5 1387,506.2 1388.3,507.8 1389.6,509.4 1391,511 1392.3,512.6 1393.6,514.2 1394.9,515.8 1396.3,517.4 1397.6,519 1398.9,520.6 1400.3,522.2 1401.6,523.7 1402.9,525.3 1404.2,526.8 1405.6,528.4 1406.9,529.9 1408.2,531.4 1409.5,532.9 1410.9,534.4 1412.2,535.9 1413.5,537.4 1414.9,538.9 1416.2,540.3 1417.5,541.8 1418.8,543.2 1420.2,544.7 1421.5,546.1 1422.8,547.5 1424.2,548.9 1425.5,550.2 1426.8,551.6 1428.1,552.9 1429.5,554.3 1430.8,555.6 1432.1,556.9 1433.5,558.2 1434.8,559.4 1436.1,560.7 1437.4,561.9 1438.8,563.1 1440.1,564.3 1441.4,565.5 1442.8,566.7 1444.1,567.8 1445.4,568.9 1446.7,570 1448.1,571.1 1449.4,572.1 1450.7,573.1 1452,574.1 1453.4,575.1 1454.7,576.1 1456,577 1457.4,577.9 1458.7,578.8 1460,579.7 1461.3,580.6 1462.7,581.4 1464,582.2 1465.3,583 1466.7,583.8 1468,584.5 1469.3,585.3 1470.6,586 1472,586.7 1473.3,587.4 1474.6,588 1476,588.7 1477.3,589.3 1478.6,589.9 1479.9,590.5 1481.3,591 1482.6,591.6 1483.9,592.1 1485.2,592.6 1486.6,593.1 1487.9,593.6 1489.2,594.1 1490.6,594.5 1491.9,594.9 1493.2,595.4 1494.5,595.7 1495.9,596.1 1497.2,596.5 1498.5,596.8 1499.9,597.1 1501.2,597.5 1502.5,597.7 1503.8,598 1505.2,598.3 1506.5,598.5 1507.8,598.7 1509.2,599 1510.5,599.1 1511.8,599.3 1513.1,599.5 1514.5,599.6 1515.8,599.7 1517.1,599.8 1518.5,599.9 1519.8,600 1521.1,600 1522.4,600.1 1523.8,600.1 1525.1,600.1 1526.4,600.1 1527.7,600 1529.1,599.9 1530.4,599.9 1531.7,599.8 1533.1,599.6 1534.4,599.5 1535.7,599.3 1537,599.1 1538.4,598.9 1539.7,598.7 1541,598.5 1542.4,598.2 1543.7,597.9 1545,597.6 1546.3,597.3 1547.7,596.9 1549,596.6 1550.3,596.2 1551.7,595.8 1553,595.3 1554.3,594.9 1555.6,594.4 1557,593.9 1558.3,593.4 1559.6,592.8 1561,592.2 1562.3,591.7 1563.6,591 1564.9,590.4 1566.3,589.7 1567.6,589.1 1568.9,588.4 1570.2,587.6 1571.6,586.9 1572.9,586.1 1574.2,585.3 1575.6,584.5 1576.9,583.7 1578.2,582.8 1579.5,581.9 1580.9,581 1582.2,580.1 1583.5,579.2 1584.9,578.2 1586.2,577.2 1587.5,576.2 1588.8,575.1 1590.2,574.1 1591.5,573 1592.8,571.9 1594.2,570.8 1595.5,569.6 1596.8,568.4 1598.1,567.2 1599.5,566 1600.8,564.7 1602.1,563.5 1603.5,562.2 1604.8,560.8 1606.1,559.5 1607.4,558.1 1608.8,556.7 1610.1,555.3 1611.4,553.9 1612.7,552.4 1614.1,550.9 1615.4,549.4 1616.7,547.8 1618.1,546.3 1619.4,544.7 1620.7,543.1 1622,541.5 1623.4,539.8 1624.7,538.1 1626,536.4 1627.4,534.7 1628.7,533 1630,531.2 1631.3,529.4 1632.7,527.6 1634,525.8 1635.3,524 1636.7,522.1 1638,520.2 1639.3,518.3 1640.6,516.4 1642,514.5 1643.3,512.5 1644.6,510.5 1646,508.5 1647.3,506.5 1648.6,504.5 1649.9,502.5 1651.3,500.4 1652.6,498.4 1653.9,496.3 1655.2,494.2 1656.6,492.1 1657.9,490 1659.2,487.8 1660.6,485.7 1661.9,483.5 1663.2,481.3 1664.5,479.2 1665.9,476.9 1667.2,474.7 1668.5,472.5 1669.9,470.2 1671.2,467.9 1672.5,465.6 1673.8,463.2 1675.2,460.8 1676.5,458.4 1677.8,456 1679.2,453.5 1680.5,451 1681.8,448.4 1683.1,445.9 1684.5,443.3 1685.8,440.8 1687.1,438.3 1688.4,435.8 1689.8,433.3 1691.1,430.8 1692.4,428.4 1693.8,426.1 1695.1,423.8 1696.4,421.6 1697.7,419.4 1699.1,417.4 1700.4,415.4 1701.7,413.4 1703.1,411.6 1704.4,409.8 1705.7,408.1 1707,406.4 1708.4,404.8 1709.7,403.3 1711,401.8 1712.4,400.4 1713.7,399.1 1715,397.8 1716.3,396.6 1717.7,395.4 1719,394.3 1720.3,393.2 1721.7,392.2 1723,391.3 1724.3,390.4 1725.6,389.6 1727,388.9 1728.3,388.2 1729.6,387.6 1730.9,387.1 1732.3,386.6 1733.6,386.1 1734.9,385.7 1736.3,385.4 1737.6,385.1 1738.9,385.1 1740.2,385.2 1741.6,385.6 1742.9,386.2 1744.2,387.1 1745.6,388.3 1746.9,389.9 1748.2,391.8 1749.5,394 1750.9,396.5 1752.2,399.2 1753.5,402 1754.9,404.9 1756.2,407.8 1757.5,410.7 1758.8,413.6 1760.2,416.3 1761.5,419 1762.8,421.5 1764.2,424 1765.5,426.4 1766.8,428.7 1768.1,430.9 1769.5,433.1 1770.8,435.1 1772.1,437.2 1773.4,439.1 1774.8,441.1 1776.1,443 1777.4,444.8 1778.8,446.7 1780.1,448.5 1781.4,450.2 1782.7,452 1784.1,453.7 1785.4,455.3 1786.7,456.9 1788.1,458.5 1789.4,460 1790.7,461.4 1792,462.8 1793.4,464.2 1794.7,465.4 1796,466.6 1797.4,467.7 1798.7,468.7 1800,469.7 1801.3,470.5 1802.7,471.2 1804,471.7 1805.3,472.2 1806.7,472.5 1808,472.7 1809.3,472.7 1810.6,472.6 1812,472.3 1813.3,471.9 1814.6,471.4 1815.9,470.7 1817.3,469.8 1818.6,468.8 1819.9,467.7 1821.3,466.4 1822.6,465 1823.9,463.5 1825.2,461.8 1826.6,459.9 1827.9,458 1829.2,455.9 1830.6,453.7 1831.9,451.5 1833.2,449.1 1834.5,446.6 1835.9,444 1837.2,441.4 1838.5,438.7 1839.9,435.9 1841.2,433 1842.5,430 1843.8,427 1845.2,423.8 1846.5,420.5 1847.8,417.1 1849.1,413.5 1850.5,409.8 1851.8,406 1853.1,402 1854.5,397.9 1855.8,393.6 1857.1,389.2 1858.4,384.6 1859.8,380 1861.1,375.2 1862.4,370.4 1863.8,365.5 1865.1,360.5 1866.4,355.5 1867.7,350.4 1869.1,345.4 1870.4,340.3 1871.7,335.2 1873.1,330 1874.4,324.8 1875.7,319.5 1877,314.2 1878.4,308.7 1879.7,303.2 1881,297.6 1882.4,291.8 1883.7,286 1885,280.2 1886.3,274.3 1887.7,268.5 1889,262.6 1890.3,256.8 1891.6,251.1 1893,245.5 1894.3,239.8 1895.6,234.2 1897,228.7 1898.3,223 1899.6,217.4 1900.9,211.7 1902.3,205.8 1903.6,199.9 1904.9,193.9 1906.3,187.9 1907.6,181.9 1908.9,176 1910.2,170.1 1911.6,164.5 1912.9,159 1914.2,153.9 1915.6,149 1916.9,144.4 1918.2,140.2 1919.5,136.2 1920.9,132.5 1922.2,129.1 1923.5,126 1924.9,123.2 1926.2,120.7 1927.5,118.5 1928.8,116.6 1930.2,114.9 1931.5,113.6 1932.8,112.6 1934.1,111.9 1935.5,111.4 1936.8,111.3 1938.1,111.5 1939.5,112 1940.8,112.9 1942.1,114 1943.4,115.4 1944.8,117.1 1946.1,119.1 1947.4,121.3 1948.8,123.9 1950.1,126.7 1951.4,129.8 1952.7,133.2 1954.1,136.8 1955.4,140.7 1956.7,144.9 1958.1,149.3 1959.4,153.9 1960.7,158.8 1962,163.9 1963.4,169.2 1964.7,174.6 1966,180.1 1967.4,185.7 1968.7,191.2 1970,196.7 1971.3,202.1 1972.7,207.4 1974,212.6 1975.3,217.7 1976.6,222.7 1978,227.7 1979.3,232.5 1980.6,237.4 1982,242.2 1983.3,246.9 1984.6,251.7 1985.9,256.4 1987.3,261.1 1988.6,265.9 1989.9,270.6 1991.3,275.3 1992.6,280 1993.9,284.6 1995.2,289.2 1996.6,293.8 1997.9,298.4 1999.2,302.9 2000.6,307.3 2001.9,311.7 2003.2,316 2004.5,320.3 2005.9,324.5 2007.2,328.6 2008.5,332.6 2009.8,336.5 2011.2,340.4 2012.5,344.2 2013.8,348 2015.2,351.7 2016.5,355.4 2017.8,359 2019.1,362.5 2020.5,366.1 2021.8,369.6 2023.1,373 2024.5,376.5 2025.8,379.9 2027.1,383.2 2028.4,386.6 2029.8,389.9 2031.1,393.2 2032.4,396.5 2033.8,399.7 2035.1,402.9 2036.4,406 2037.7,409.2 2039.1,412.2 2040.4,415.3 2041.7,418.3 2043.1,421.2 2044.4,424.1 2045.7,427 2047,429.8 2048.4,432.6 2049.7,435.3 2051,438 2052.3,440.6 2053.7,443.2 2055,445.8 2056.3,448.3 2057.7,450.8 2059,453.3 2060.3,455.7 2061.6,458.1 2063,460.4 2064.3,462.7 2065.6,464.9 2067,467.2 2068.3,469.4 2069.6,471.5 2070.9,473.7 2072.3,475.8 2073.6,477.9 2074.9,480 2076.3,482 2077.6,484.1 2078.9,486.1 2080.2,488.1 2081.6,490.1 2082.9,492.1 2084.2,494.1 2085.6,496.1 2086.9,498 2088.2,500 2089.5,501.9 2090.9,503.8 2092.2,505.6 2093.5,507.4 2094.8,509.2 2096.2,511 2097.5,512.7 2098.8,514.4 2100.2,516 2101.5,517.6 2102.8,519.1 2104.1,520.6 2105.5,522.1 2106.8,523.5 2108.1,524.9 2109.5,526.2 2110.8,527.5 2112.1,528.8 2113.4,530 2114.8,531.2 2116.1,532.4 2117.4,533.6 2118.8,534.7 2120.1,535.8 2121.4,536.9 2122.7,537.9 2124.1,539 2125.4,540 2126.7,541 2128.1,541.9 2129.4,542.9 2130.7,543.8 2132,544.7 2133.4,545.6 2134.7,546.4 2136,547.3 2137.3,548.1 2138.7,548.8 2140,549.6 2141.3,550.3 2142.7,550.9 2144,551.4 2145.3,551.8 2146.6,552.1 2148,552.3 2149.3,552.2 2150.6,552 2152,551.7 2153.3,551.1 2154.6,550.5 2155.9,549.6" stroke="#00ff00" stroke-width="10" stroke-dasharray="0.6 61.4" stroke-dashoffset="1"/>
</g>
<g stroke="#000" stroke-width="5.5" fill="none">
<rect x="821.2" y="74.1" width="1328.1000000000001" height="634.5"/>
<path d="M987.2,708.6 v-4.6 M1153.2,708.6 v-8.8 M1319.2,708.6 v-4.6 M1485.2,708.6 v-8.8 M1651.3,708.6 v-4.6 M1817.3,708.6 v-8.8 M1983.3,708.6 v-4.6 M821.2,683.3 h8.4 M821.2,592.8 h4.4 M821.2,502.3 h8.4 M821.2,411.8 h4.4 M821.2,321.3 h8.4 M821.2,230.8 h4.4 M821.2,140.3 h8.4" stroke-width="4.6"/>
</g>
<g font-size="51.5">
<text transform="translate(821.2 759) scale(1 1.04)" text-anchor="middle">400</text>
<text transform="translate(1153.2 759) scale(1 1.04)" text-anchor="middle">500</text>
<text transform="translate(1485.2 759) scale(1 1.04)" text-anchor="middle">600</text>
<text transform="translate(1817.3 759) scale(1 1.04)" text-anchor="middle">700</text>
<text transform="translate(2149.3 759) scale(1 1.04)" text-anchor="middle">800</text>
<text transform="translate(810.5 698.8) scale(1 1.04)" text-anchor="end">85</text>
<text transform="translate(810.5 517.8) scale(1 1.04)" text-anchor="end">90</text>
<text transform="translate(810.5 336.8) scale(1 1.04)" text-anchor="end">95</text>
<text transform="translate(810.5 155.8) scale(1 1.04)" text-anchor="end">100</text>
</g>
<rect x="1771.0" y="1211.0" width="479.5999999999999" height="423.20000000000005" fill="#fff" stroke="#3c3c3c" stroke-width="2.6"/>
<defs><clipPath id="cl"><rect x="1770" y="1215" width="204" height="415"/></clipPath></defs>
<g clip-path="url(#cl)" fill="none" stroke-linecap="round">
<path d="M1783.4,1268.7 H1967.9" stroke="#000" stroke-width="12.4"/>
<path d="M1783.4,1371.6 H1967.9" stroke="#ff0000" stroke-width="12.4" stroke-dasharray="49.4 70.2"/>
<path d="M1783.4,1474.4 H1967.9" stroke="#0000ff" stroke-width="12.4" stroke-dasharray="60.9 40.8 7.3 41.7"/>
<path d="M1783.4,1577.0 H1967.9" stroke="#00ff00" stroke-width="12.4" stroke-dasharray="7.3 63.7"/>
</g>
<g font-size="84">
<text transform="translate(1988.5 1298.1) scale(1 1.04)">123_20</text>
<text transform="translate(1988.5 1401.0) scale(1 1.04)">234_20</text>
<text transform="translate(1988.5 1503.8) scale(1 1.04)">345_20</text>
<text transform="translate(1988.5 1606.4) scale(1 1.04)">135_20</text>
</g>
</svg></body></html>
